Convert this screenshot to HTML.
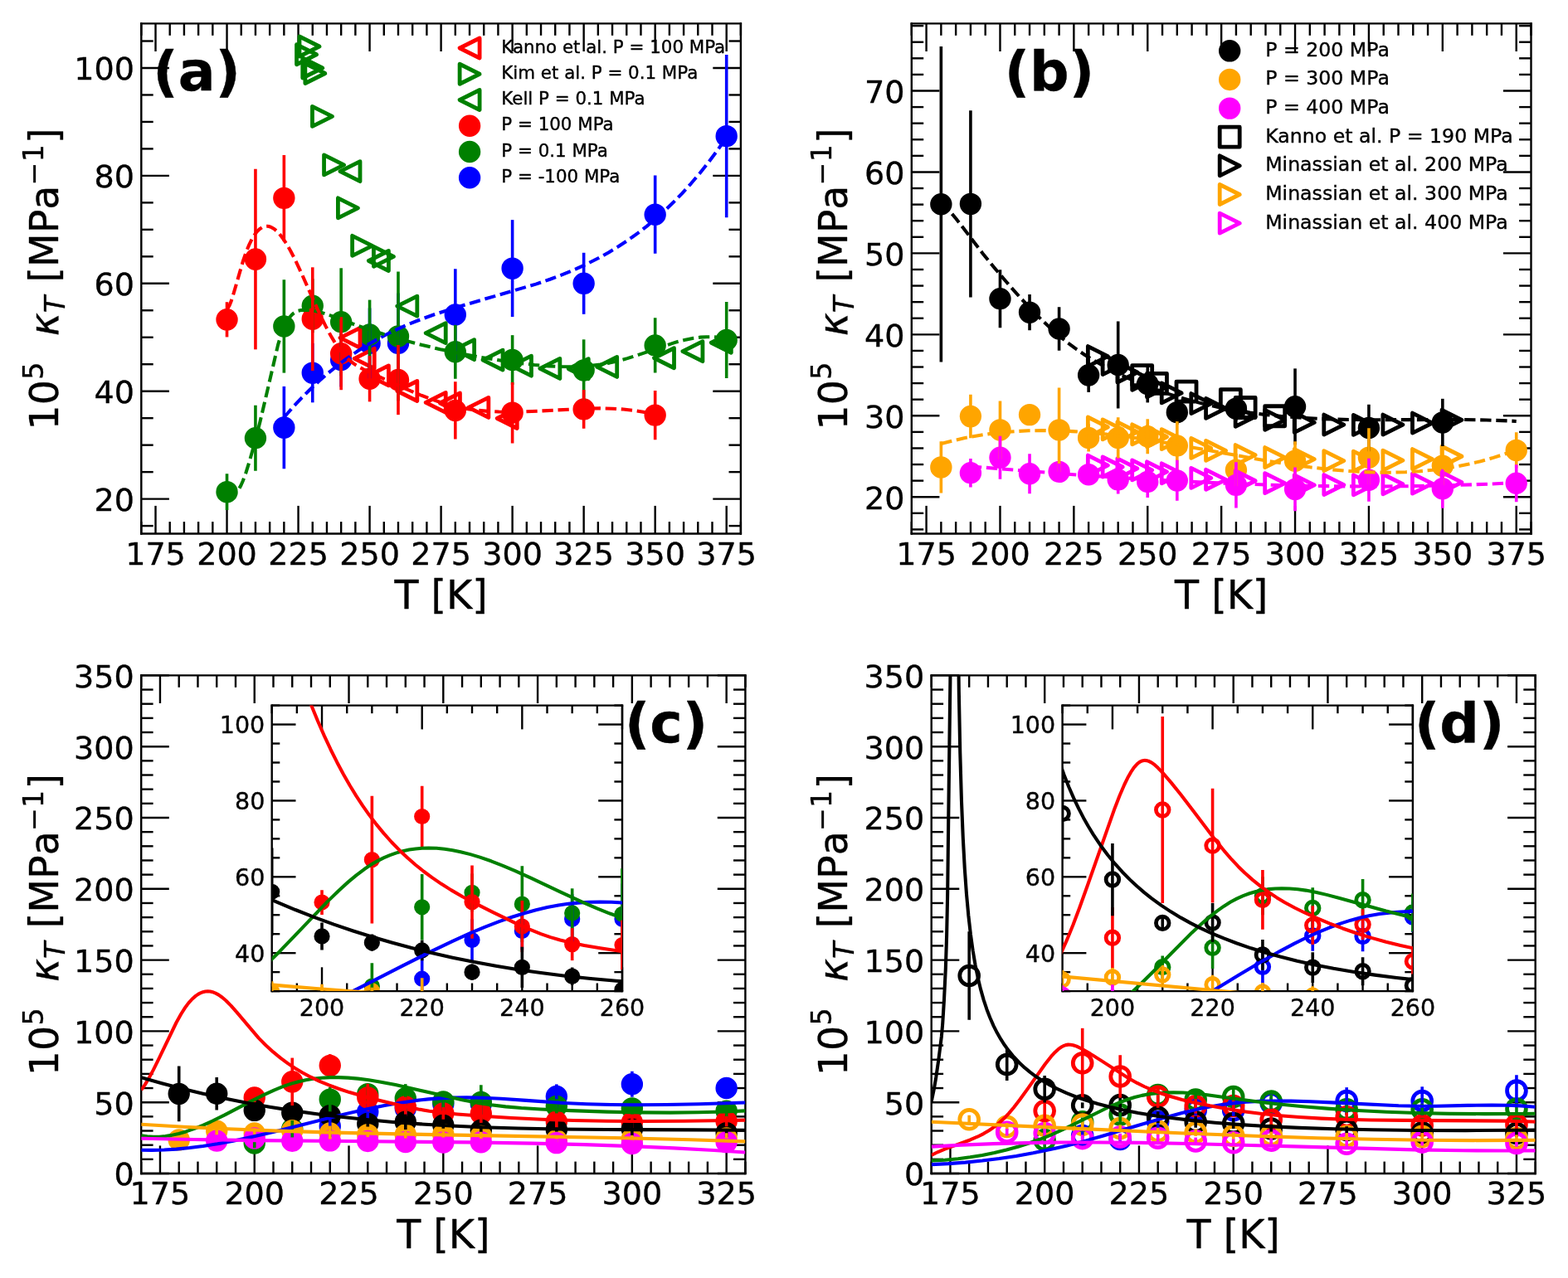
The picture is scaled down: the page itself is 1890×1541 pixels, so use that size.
<!DOCTYPE html>
<html><head><meta charset="utf-8"><title>Figure</title>
<style>html,body{margin:0;padding:0;background:#fff}svg{display:block}svg text{stroke:#000;stroke-width:0.15px;stroke-linejoin:round}</style></head>
<body>
<svg width="1890" height="1541" viewBox="0 0 787.5 642.0833333333334" version="1.1">
 <defs>
  <style type="text/css">*{stroke-linejoin: round; stroke-linecap: butt}</style>
 </defs>
 <g id="figure_1">
  <g id="patch_1">
   <path d="M 0 642.083333 
L 787.5 642.083333 
L 787.5 0 
L 0 0 
z
" style="fill: #ffffff"/>
  </g>
  <g id="axes_1">
   <g id="matplotlib.axis_1">
    <g id="xtick_1">
     <g id="line2d_1">
      <defs>
       <path id="me1ed62e7b0" d="M 0 0 
L 0 -14 
" style="stroke: #000000"/>
      </defs>
      <g>
       <use href="#me1ed62e7b0" x="78.126984" y="268.125" style="stroke: #000000"/>
      </g>
     </g>
     <g id="line2d_2">
      <defs>
       <path id="m8548808949" d="M 0 0 
L 0 14 
" style="stroke: #000000"/>
      </defs>
      <g>
       <use href="#m8548808949" x="78.126984" y="11.833333" style="stroke: #000000"/>
      </g>
     </g>
     <g id="text_1">
      <text style="font-size: 15.872px; font-family: 'DejaVu Sans', 'Liberation Sans', sans-serif; text-anchor: middle" x="78.126984" y="283.68524">175</text>
     </g>
    </g>
    <g id="xtick_2">
     <g id="line2d_3">
      <g>
       <use href="#me1ed62e7b0" x="113.970238" y="268.125" style="stroke: #000000"/>
      </g>
     </g>
     <g id="line2d_4">
      <g>
       <use href="#m8548808949" x="113.970238" y="11.833333" style="stroke: #000000"/>
      </g>
     </g>
     <g id="text_2">
      <text style="font-size: 15.872px; font-family: 'DejaVu Sans', 'Liberation Sans', sans-serif; text-anchor: middle" x="113.970238" y="283.68524">200</text>
     </g>
    </g>
    <g id="xtick_3">
     <g id="line2d_5">
      <g>
       <use href="#me1ed62e7b0" x="149.813492" y="268.125" style="stroke: #000000"/>
      </g>
     </g>
     <g id="line2d_6">
      <g>
       <use href="#m8548808949" x="149.813492" y="11.833333" style="stroke: #000000"/>
      </g>
     </g>
     <g id="text_3">
      <text style="font-size: 15.872px; font-family: 'DejaVu Sans', 'Liberation Sans', sans-serif; text-anchor: middle" x="149.813492" y="283.68524">225</text>
     </g>
    </g>
    <g id="xtick_4">
     <g id="line2d_7">
      <g>
       <use href="#me1ed62e7b0" x="185.656746" y="268.125" style="stroke: #000000"/>
      </g>
     </g>
     <g id="line2d_8">
      <g>
       <use href="#m8548808949" x="185.656746" y="11.833333" style="stroke: #000000"/>
      </g>
     </g>
     <g id="text_4">
      <text style="font-size: 15.872px; font-family: 'DejaVu Sans', 'Liberation Sans', sans-serif; text-anchor: middle" x="185.656746" y="283.68524">250</text>
     </g>
    </g>
    <g id="xtick_5">
     <g id="line2d_9">
      <g>
       <use href="#me1ed62e7b0" x="221.5" y="268.125" style="stroke: #000000"/>
      </g>
     </g>
     <g id="line2d_10">
      <g>
       <use href="#m8548808949" x="221.5" y="11.833333" style="stroke: #000000"/>
      </g>
     </g>
     <g id="text_5">
      <text style="font-size: 15.872px; font-family: 'DejaVu Sans', 'Liberation Sans', sans-serif; text-anchor: middle" x="221.5" y="283.68524">275</text>
     </g>
    </g>
    <g id="xtick_6">
     <g id="line2d_11">
      <g>
       <use href="#me1ed62e7b0" x="257.343254" y="268.125" style="stroke: #000000"/>
      </g>
     </g>
     <g id="line2d_12">
      <g>
       <use href="#m8548808949" x="257.343254" y="11.833333" style="stroke: #000000"/>
      </g>
     </g>
     <g id="text_6">
      <text style="font-size: 15.872px; font-family: 'DejaVu Sans', 'Liberation Sans', sans-serif; text-anchor: middle" x="257.343254" y="283.68524">300</text>
     </g>
    </g>
    <g id="xtick_7">
     <g id="line2d_13">
      <g>
       <use href="#me1ed62e7b0" x="293.186508" y="268.125" style="stroke: #000000"/>
      </g>
     </g>
     <g id="line2d_14">
      <g>
       <use href="#m8548808949" x="293.186508" y="11.833333" style="stroke: #000000"/>
      </g>
     </g>
     <g id="text_7">
      <text style="font-size: 15.872px; font-family: 'DejaVu Sans', 'Liberation Sans', sans-serif; text-anchor: middle" x="293.186508" y="283.68524">325</text>
     </g>
    </g>
    <g id="xtick_8">
     <g id="line2d_15">
      <g>
       <use href="#me1ed62e7b0" x="329.029762" y="268.125" style="stroke: #000000"/>
      </g>
     </g>
     <g id="line2d_16">
      <g>
       <use href="#m8548808949" x="329.029762" y="11.833333" style="stroke: #000000"/>
      </g>
     </g>
     <g id="text_8">
      <text style="font-size: 15.872px; font-family: 'DejaVu Sans', 'Liberation Sans', sans-serif; text-anchor: middle" x="329.029762" y="283.68524">350</text>
     </g>
    </g>
    <g id="xtick_9">
     <g id="line2d_17">
      <g>
       <use href="#me1ed62e7b0" x="364.873016" y="268.125" style="stroke: #000000"/>
      </g>
     </g>
     <g id="line2d_18">
      <g>
       <use href="#m8548808949" x="364.873016" y="11.833333" style="stroke: #000000"/>
      </g>
     </g>
     <g id="text_9">
      <text style="font-size: 15.872px; font-family: 'DejaVu Sans', 'Liberation Sans', sans-serif; text-anchor: middle" x="364.873016" y="283.68524">375</text>
     </g>
    </g>
    <g id="xtick_10">
     <g id="line2d_19">
      <defs>
       <path id="m3778f43bfe" d="M 0 0 
L 0 -6 
" style="stroke: #000000"/>
      </defs>
      <g>
       <use href="#m3778f43bfe" x="70.958333" y="268.125" style="stroke: #000000"/>
      </g>
     </g>
     <g id="line2d_20">
      <defs>
       <path id="m2444ff35b4" d="M 0 0 
L 0 6 
" style="stroke: #000000"/>
      </defs>
      <g>
       <use href="#m2444ff35b4" x="70.958333" y="11.833333" style="stroke: #000000"/>
      </g>
     </g>
    </g>
    <g id="xtick_11">
     <g id="line2d_21">
      <g>
       <use href="#m3778f43bfe" x="85.295635" y="268.125" style="stroke: #000000"/>
      </g>
     </g>
     <g id="line2d_22">
      <g>
       <use href="#m2444ff35b4" x="85.295635" y="11.833333" style="stroke: #000000"/>
      </g>
     </g>
    </g>
    <g id="xtick_12">
     <g id="line2d_23">
      <g>
       <use href="#m3778f43bfe" x="92.464286" y="268.125" style="stroke: #000000"/>
      </g>
     </g>
     <g id="line2d_24">
      <g>
       <use href="#m2444ff35b4" x="92.464286" y="11.833333" style="stroke: #000000"/>
      </g>
     </g>
    </g>
    <g id="xtick_13">
     <g id="line2d_25">
      <g>
       <use href="#m3778f43bfe" x="99.632937" y="268.125" style="stroke: #000000"/>
      </g>
     </g>
     <g id="line2d_26">
      <g>
       <use href="#m2444ff35b4" x="99.632937" y="11.833333" style="stroke: #000000"/>
      </g>
     </g>
    </g>
    <g id="xtick_14">
     <g id="line2d_27">
      <g>
       <use href="#m3778f43bfe" x="106.801587" y="268.125" style="stroke: #000000"/>
      </g>
     </g>
     <g id="line2d_28">
      <g>
       <use href="#m2444ff35b4" x="106.801587" y="11.833333" style="stroke: #000000"/>
      </g>
     </g>
    </g>
    <g id="xtick_15">
     <g id="line2d_29">
      <g>
       <use href="#m3778f43bfe" x="121.138889" y="268.125" style="stroke: #000000"/>
      </g>
     </g>
     <g id="line2d_30">
      <g>
       <use href="#m2444ff35b4" x="121.138889" y="11.833333" style="stroke: #000000"/>
      </g>
     </g>
    </g>
    <g id="xtick_16">
     <g id="line2d_31">
      <g>
       <use href="#m3778f43bfe" x="128.30754" y="268.125" style="stroke: #000000"/>
      </g>
     </g>
     <g id="line2d_32">
      <g>
       <use href="#m2444ff35b4" x="128.30754" y="11.833333" style="stroke: #000000"/>
      </g>
     </g>
    </g>
    <g id="xtick_17">
     <g id="line2d_33">
      <g>
       <use href="#m3778f43bfe" x="135.47619" y="268.125" style="stroke: #000000"/>
      </g>
     </g>
     <g id="line2d_34">
      <g>
       <use href="#m2444ff35b4" x="135.47619" y="11.833333" style="stroke: #000000"/>
      </g>
     </g>
    </g>
    <g id="xtick_18">
     <g id="line2d_35">
      <g>
       <use href="#m3778f43bfe" x="142.644841" y="268.125" style="stroke: #000000"/>
      </g>
     </g>
     <g id="line2d_36">
      <g>
       <use href="#m2444ff35b4" x="142.644841" y="11.833333" style="stroke: #000000"/>
      </g>
     </g>
    </g>
    <g id="xtick_19">
     <g id="line2d_37">
      <g>
       <use href="#m3778f43bfe" x="156.982143" y="268.125" style="stroke: #000000"/>
      </g>
     </g>
     <g id="line2d_38">
      <g>
       <use href="#m2444ff35b4" x="156.982143" y="11.833333" style="stroke: #000000"/>
      </g>
     </g>
    </g>
    <g id="xtick_20">
     <g id="line2d_39">
      <g>
       <use href="#m3778f43bfe" x="164.150794" y="268.125" style="stroke: #000000"/>
      </g>
     </g>
     <g id="line2d_40">
      <g>
       <use href="#m2444ff35b4" x="164.150794" y="11.833333" style="stroke: #000000"/>
      </g>
     </g>
    </g>
    <g id="xtick_21">
     <g id="line2d_41">
      <g>
       <use href="#m3778f43bfe" x="171.319444" y="268.125" style="stroke: #000000"/>
      </g>
     </g>
     <g id="line2d_42">
      <g>
       <use href="#m2444ff35b4" x="171.319444" y="11.833333" style="stroke: #000000"/>
      </g>
     </g>
    </g>
    <g id="xtick_22">
     <g id="line2d_43">
      <g>
       <use href="#m3778f43bfe" x="178.488095" y="268.125" style="stroke: #000000"/>
      </g>
     </g>
     <g id="line2d_44">
      <g>
       <use href="#m2444ff35b4" x="178.488095" y="11.833333" style="stroke: #000000"/>
      </g>
     </g>
    </g>
    <g id="xtick_23">
     <g id="line2d_45">
      <g>
       <use href="#m3778f43bfe" x="192.825397" y="268.125" style="stroke: #000000"/>
      </g>
     </g>
     <g id="line2d_46">
      <g>
       <use href="#m2444ff35b4" x="192.825397" y="11.833333" style="stroke: #000000"/>
      </g>
     </g>
    </g>
    <g id="xtick_24">
     <g id="line2d_47">
      <g>
       <use href="#m3778f43bfe" x="199.994048" y="268.125" style="stroke: #000000"/>
      </g>
     </g>
     <g id="line2d_48">
      <g>
       <use href="#m2444ff35b4" x="199.994048" y="11.833333" style="stroke: #000000"/>
      </g>
     </g>
    </g>
    <g id="xtick_25">
     <g id="line2d_49">
      <g>
       <use href="#m3778f43bfe" x="207.162698" y="268.125" style="stroke: #000000"/>
      </g>
     </g>
     <g id="line2d_50">
      <g>
       <use href="#m2444ff35b4" x="207.162698" y="11.833333" style="stroke: #000000"/>
      </g>
     </g>
    </g>
    <g id="xtick_26">
     <g id="line2d_51">
      <g>
       <use href="#m3778f43bfe" x="214.331349" y="268.125" style="stroke: #000000"/>
      </g>
     </g>
     <g id="line2d_52">
      <g>
       <use href="#m2444ff35b4" x="214.331349" y="11.833333" style="stroke: #000000"/>
      </g>
     </g>
    </g>
    <g id="xtick_27">
     <g id="line2d_53">
      <g>
       <use href="#m3778f43bfe" x="228.668651" y="268.125" style="stroke: #000000"/>
      </g>
     </g>
     <g id="line2d_54">
      <g>
       <use href="#m2444ff35b4" x="228.668651" y="11.833333" style="stroke: #000000"/>
      </g>
     </g>
    </g>
    <g id="xtick_28">
     <g id="line2d_55">
      <g>
       <use href="#m3778f43bfe" x="235.837302" y="268.125" style="stroke: #000000"/>
      </g>
     </g>
     <g id="line2d_56">
      <g>
       <use href="#m2444ff35b4" x="235.837302" y="11.833333" style="stroke: #000000"/>
      </g>
     </g>
    </g>
    <g id="xtick_29">
     <g id="line2d_57">
      <g>
       <use href="#m3778f43bfe" x="243.005952" y="268.125" style="stroke: #000000"/>
      </g>
     </g>
     <g id="line2d_58">
      <g>
       <use href="#m2444ff35b4" x="243.005952" y="11.833333" style="stroke: #000000"/>
      </g>
     </g>
    </g>
    <g id="xtick_30">
     <g id="line2d_59">
      <g>
       <use href="#m3778f43bfe" x="250.174603" y="268.125" style="stroke: #000000"/>
      </g>
     </g>
     <g id="line2d_60">
      <g>
       <use href="#m2444ff35b4" x="250.174603" y="11.833333" style="stroke: #000000"/>
      </g>
     </g>
    </g>
    <g id="xtick_31">
     <g id="line2d_61">
      <g>
       <use href="#m3778f43bfe" x="264.511905" y="268.125" style="stroke: #000000"/>
      </g>
     </g>
     <g id="line2d_62">
      <g>
       <use href="#m2444ff35b4" x="264.511905" y="11.833333" style="stroke: #000000"/>
      </g>
     </g>
    </g>
    <g id="xtick_32">
     <g id="line2d_63">
      <g>
       <use href="#m3778f43bfe" x="271.680556" y="268.125" style="stroke: #000000"/>
      </g>
     </g>
     <g id="line2d_64">
      <g>
       <use href="#m2444ff35b4" x="271.680556" y="11.833333" style="stroke: #000000"/>
      </g>
     </g>
    </g>
    <g id="xtick_33">
     <g id="line2d_65">
      <g>
       <use href="#m3778f43bfe" x="278.849206" y="268.125" style="stroke: #000000"/>
      </g>
     </g>
     <g id="line2d_66">
      <g>
       <use href="#m2444ff35b4" x="278.849206" y="11.833333" style="stroke: #000000"/>
      </g>
     </g>
    </g>
    <g id="xtick_34">
     <g id="line2d_67">
      <g>
       <use href="#m3778f43bfe" x="286.017857" y="268.125" style="stroke: #000000"/>
      </g>
     </g>
     <g id="line2d_68">
      <g>
       <use href="#m2444ff35b4" x="286.017857" y="11.833333" style="stroke: #000000"/>
      </g>
     </g>
    </g>
    <g id="xtick_35">
     <g id="line2d_69">
      <g>
       <use href="#m3778f43bfe" x="300.355159" y="268.125" style="stroke: #000000"/>
      </g>
     </g>
     <g id="line2d_70">
      <g>
       <use href="#m2444ff35b4" x="300.355159" y="11.833333" style="stroke: #000000"/>
      </g>
     </g>
    </g>
    <g id="xtick_36">
     <g id="line2d_71">
      <g>
       <use href="#m3778f43bfe" x="307.52381" y="268.125" style="stroke: #000000"/>
      </g>
     </g>
     <g id="line2d_72">
      <g>
       <use href="#m2444ff35b4" x="307.52381" y="11.833333" style="stroke: #000000"/>
      </g>
     </g>
    </g>
    <g id="xtick_37">
     <g id="line2d_73">
      <g>
       <use href="#m3778f43bfe" x="314.69246" y="268.125" style="stroke: #000000"/>
      </g>
     </g>
     <g id="line2d_74">
      <g>
       <use href="#m2444ff35b4" x="314.69246" y="11.833333" style="stroke: #000000"/>
      </g>
     </g>
    </g>
    <g id="xtick_38">
     <g id="line2d_75">
      <g>
       <use href="#m3778f43bfe" x="321.861111" y="268.125" style="stroke: #000000"/>
      </g>
     </g>
     <g id="line2d_76">
      <g>
       <use href="#m2444ff35b4" x="321.861111" y="11.833333" style="stroke: #000000"/>
      </g>
     </g>
    </g>
    <g id="xtick_39">
     <g id="line2d_77">
      <g>
       <use href="#m3778f43bfe" x="336.198413" y="268.125" style="stroke: #000000"/>
      </g>
     </g>
     <g id="line2d_78">
      <g>
       <use href="#m2444ff35b4" x="336.198413" y="11.833333" style="stroke: #000000"/>
      </g>
     </g>
    </g>
    <g id="xtick_40">
     <g id="line2d_79">
      <g>
       <use href="#m3778f43bfe" x="343.367063" y="268.125" style="stroke: #000000"/>
      </g>
     </g>
     <g id="line2d_80">
      <g>
       <use href="#m2444ff35b4" x="343.367063" y="11.833333" style="stroke: #000000"/>
      </g>
     </g>
    </g>
    <g id="xtick_41">
     <g id="line2d_81">
      <g>
       <use href="#m3778f43bfe" x="350.535714" y="268.125" style="stroke: #000000"/>
      </g>
     </g>
     <g id="line2d_82">
      <g>
       <use href="#m2444ff35b4" x="350.535714" y="11.833333" style="stroke: #000000"/>
      </g>
     </g>
    </g>
    <g id="xtick_42">
     <g id="line2d_83">
      <g>
       <use href="#m3778f43bfe" x="357.704365" y="268.125" style="stroke: #000000"/>
      </g>
     </g>
     <g id="line2d_84">
      <g>
       <use href="#m2444ff35b4" x="357.704365" y="11.833333" style="stroke: #000000"/>
      </g>
     </g>
    </g>
    <g id="xtick_43">
     <g id="line2d_85">
      <g>
       <use href="#m3778f43bfe" x="372.041667" y="268.125" style="stroke: #000000"/>
      </g>
     </g>
     <g id="line2d_86">
      <g>
       <use href="#m2444ff35b4" x="372.041667" y="11.833333" style="stroke: #000000"/>
      </g>
     </g>
    </g>
   </g>
   <g id="matplotlib.axis_2">
    <g id="ytick_1">
     <g id="line2d_87">
      <defs>
       <path id="m54b7029aaa" d="M 0 0 
L 14 0 
" style="stroke: #000000"/>
      </defs>
      <g>
       <use href="#m54b7029aaa" x="70.958333" y="250.669021" style="stroke: #000000"/>
      </g>
     </g>
     <g id="line2d_88">
      <defs>
       <path id="m9e44f33b49" d="M 0 0 
L -14 0 
" style="stroke: #000000"/>
      </defs>
      <g>
       <use href="#m9e44f33b49" x="372.041667" y="250.669021" style="stroke: #000000"/>
      </g>
     </g>
     <g id="text_10">
      <text style="font-size: 15.872px; font-family: 'DejaVu Sans', 'Liberation Sans', sans-serif; text-anchor: end" x="67.458333" y="256.699141">20</text>
     </g>
    </g>
    <g id="ytick_2">
     <g id="line2d_89">
      <g>
       <use href="#m54b7029aaa" x="70.958333" y="196.541953" style="stroke: #000000"/>
      </g>
     </g>
     <g id="line2d_90">
      <g>
       <use href="#m9e44f33b49" x="372.041667" y="196.541953" style="stroke: #000000"/>
      </g>
     </g>
     <g id="text_11">
      <text style="font-size: 15.872px; font-family: 'DejaVu Sans', 'Liberation Sans', sans-serif; text-anchor: end" x="67.458333" y="202.572073">40</text>
     </g>
    </g>
    <g id="ytick_3">
     <g id="line2d_91">
      <g>
       <use href="#m54b7029aaa" x="70.958333" y="142.414885" style="stroke: #000000"/>
      </g>
     </g>
     <g id="line2d_92">
      <g>
       <use href="#m9e44f33b49" x="372.041667" y="142.414885" style="stroke: #000000"/>
      </g>
     </g>
     <g id="text_12">
      <text style="font-size: 15.872px; font-family: 'DejaVu Sans', 'Liberation Sans', sans-serif; text-anchor: end" x="67.458333" y="148.445005">60</text>
     </g>
    </g>
    <g id="ytick_4">
     <g id="line2d_93">
      <g>
       <use href="#m54b7029aaa" x="70.958333" y="88.287817" style="stroke: #000000"/>
      </g>
     </g>
     <g id="line2d_94">
      <g>
       <use href="#m9e44f33b49" x="372.041667" y="88.287817" style="stroke: #000000"/>
      </g>
     </g>
     <g id="text_13">
      <text style="font-size: 15.872px; font-family: 'DejaVu Sans', 'Liberation Sans', sans-serif; text-anchor: end" x="67.458333" y="94.317937">80</text>
     </g>
    </g>
    <g id="ytick_5">
     <g id="line2d_95">
      <g>
       <use href="#m54b7029aaa" x="70.958333" y="34.160749" style="stroke: #000000"/>
      </g>
     </g>
     <g id="line2d_96">
      <g>
       <use href="#m9e44f33b49" x="372.041667" y="34.160749" style="stroke: #000000"/>
      </g>
     </g>
     <g id="text_14">
      <text style="font-size: 15.872px; font-family: 'DejaVu Sans', 'Liberation Sans', sans-serif; text-anchor: end" x="67.458333" y="40.190869">100</text>
     </g>
    </g>
    <g id="ytick_6">
     <g id="line2d_97">
      <defs>
       <path id="me99788c269" d="M 0 0 
L 6 0 
" style="stroke: #000000"/>
      </defs>
      <g>
       <use href="#me99788c269" x="70.958333" y="264.200788" style="stroke: #000000"/>
      </g>
     </g>
     <g id="line2d_98">
      <defs>
       <path id="m71ee6960a1" d="M 0 0 
L -6 0 
" style="stroke: #000000"/>
      </defs>
      <g>
       <use href="#m71ee6960a1" x="372.041667" y="264.200788" style="stroke: #000000"/>
      </g>
     </g>
    </g>
    <g id="ytick_7">
     <g id="line2d_99">
      <g>
       <use href="#me99788c269" x="70.958333" y="237.137254" style="stroke: #000000"/>
      </g>
     </g>
     <g id="line2d_100">
      <g>
       <use href="#m71ee6960a1" x="372.041667" y="237.137254" style="stroke: #000000"/>
      </g>
     </g>
    </g>
    <g id="ytick_8">
     <g id="line2d_101">
      <g>
       <use href="#me99788c269" x="70.958333" y="223.605487" style="stroke: #000000"/>
      </g>
     </g>
     <g id="line2d_102">
      <g>
       <use href="#m71ee6960a1" x="372.041667" y="223.605487" style="stroke: #000000"/>
      </g>
     </g>
    </g>
    <g id="ytick_9">
     <g id="line2d_103">
      <g>
       <use href="#me99788c269" x="70.958333" y="210.07372" style="stroke: #000000"/>
      </g>
     </g>
     <g id="line2d_104">
      <g>
       <use href="#m71ee6960a1" x="372.041667" y="210.07372" style="stroke: #000000"/>
      </g>
     </g>
    </g>
    <g id="ytick_10">
     <g id="line2d_105">
      <g>
       <use href="#me99788c269" x="70.958333" y="183.010186" style="stroke: #000000"/>
      </g>
     </g>
     <g id="line2d_106">
      <g>
       <use href="#m71ee6960a1" x="372.041667" y="183.010186" style="stroke: #000000"/>
      </g>
     </g>
    </g>
    <g id="ytick_11">
     <g id="line2d_107">
      <g>
       <use href="#me99788c269" x="70.958333" y="169.478419" style="stroke: #000000"/>
      </g>
     </g>
     <g id="line2d_108">
      <g>
       <use href="#m71ee6960a1" x="372.041667" y="169.478419" style="stroke: #000000"/>
      </g>
     </g>
    </g>
    <g id="ytick_12">
     <g id="line2d_109">
      <g>
       <use href="#me99788c269" x="70.958333" y="155.946652" style="stroke: #000000"/>
      </g>
     </g>
     <g id="line2d_110">
      <g>
       <use href="#m71ee6960a1" x="372.041667" y="155.946652" style="stroke: #000000"/>
      </g>
     </g>
    </g>
    <g id="ytick_13">
     <g id="line2d_111">
      <g>
       <use href="#me99788c269" x="70.958333" y="128.883118" style="stroke: #000000"/>
      </g>
     </g>
     <g id="line2d_112">
      <g>
       <use href="#m71ee6960a1" x="372.041667" y="128.883118" style="stroke: #000000"/>
      </g>
     </g>
    </g>
    <g id="ytick_14">
     <g id="line2d_113">
      <g>
       <use href="#me99788c269" x="70.958333" y="115.351351" style="stroke: #000000"/>
      </g>
     </g>
     <g id="line2d_114">
      <g>
       <use href="#m71ee6960a1" x="372.041667" y="115.351351" style="stroke: #000000"/>
      </g>
     </g>
    </g>
    <g id="ytick_15">
     <g id="line2d_115">
      <g>
       <use href="#me99788c269" x="70.958333" y="101.819584" style="stroke: #000000"/>
      </g>
     </g>
     <g id="line2d_116">
      <g>
       <use href="#m71ee6960a1" x="372.041667" y="101.819584" style="stroke: #000000"/>
      </g>
     </g>
    </g>
    <g id="ytick_16">
     <g id="line2d_117">
      <g>
       <use href="#me99788c269" x="70.958333" y="74.75605" style="stroke: #000000"/>
      </g>
     </g>
     <g id="line2d_118">
      <g>
       <use href="#m71ee6960a1" x="372.041667" y="74.75605" style="stroke: #000000"/>
      </g>
     </g>
    </g>
    <g id="ytick_17">
     <g id="line2d_119">
      <g>
       <use href="#me99788c269" x="70.958333" y="61.224283" style="stroke: #000000"/>
      </g>
     </g>
     <g id="line2d_120">
      <g>
       <use href="#m71ee6960a1" x="372.041667" y="61.224283" style="stroke: #000000"/>
      </g>
     </g>
    </g>
    <g id="ytick_18">
     <g id="line2d_121">
      <g>
       <use href="#me99788c269" x="70.958333" y="47.692516" style="stroke: #000000"/>
      </g>
     </g>
     <g id="line2d_122">
      <g>
       <use href="#m71ee6960a1" x="372.041667" y="47.692516" style="stroke: #000000"/>
      </g>
     </g>
    </g>
    <g id="ytick_19">
     <g id="line2d_123">
      <g>
       <use href="#me99788c269" x="70.958333" y="20.628982" style="stroke: #000000"/>
      </g>
     </g>
     <g id="line2d_124">
      <g>
       <use href="#m71ee6960a1" x="372.041667" y="20.628982" style="stroke: #000000"/>
      </g>
     </g>
    </g>
   </g>
   <g id="line2d_125">
    <defs>
     <path id="m1c385fb589" d="M 0 5 
C 1.326016 5 2.597899 4.473168 3.535534 3.535534 
C 4.473168 2.597899 5 1.326016 5 0 
C 5 -1.326016 4.473168 -2.597899 3.535534 -3.535534 
C 2.597899 -4.473168 1.326016 -5 0 -5 
C -1.326016 -5 -2.597899 -4.473168 -3.535534 -3.535534 
C -4.473168 -2.597899 -5 -1.326016 -5 0 
C -5 1.326016 -4.473168 2.597899 -3.535534 3.535534 
C -2.597899 4.473168 -1.326016 5 0 5 
z
" style="stroke: #0000ff"/>
    </defs>
    <g clip-path="url(#p31e6318667)">
     <use href="#m1c385fb589" x="142.644841" y="214.809838" style="fill: #0000ff; stroke: #0000ff"/>
     <use href="#m1c385fb589" x="156.982143" y="187.340351" style="fill: #0000ff; stroke: #0000ff"/>
     <use href="#m1c385fb589" x="171.319444" y="180.845103" style="fill: #0000ff; stroke: #0000ff"/>
     <use href="#m1c385fb589" x="185.656746" y="172.455407" style="fill: #0000ff; stroke: #0000ff"/>
     <use href="#m1c385fb589" x="199.994048" y="172.455407" style="fill: #0000ff; stroke: #0000ff"/>
     <use href="#m1c385fb589" x="228.668651" y="158.111734" style="fill: #0000ff; stroke: #0000ff"/>
     <use href="#m1c385fb589" x="257.343254" y="134.837095" style="fill: #0000ff; stroke: #0000ff"/>
     <use href="#m1c385fb589" x="293.186508" y="142.414885" style="fill: #0000ff; stroke: #0000ff"/>
     <use href="#m1c385fb589" x="329.029762" y="107.773561" style="fill: #0000ff; stroke: #0000ff"/>
     <use href="#m1c385fb589" x="364.873016" y="68.396119" style="fill: #0000ff; stroke: #0000ff"/>
    </g>
   </g>
   <g id="line2d_126">
    <defs>
     <path id="m9ff4714339" d="M 0 5 
C 1.326016 5 2.597899 4.473168 3.535534 3.535534 
C 4.473168 2.597899 5 1.326016 5 0 
C 5 -1.326016 4.473168 -2.597899 3.535534 -3.535534 
C 2.597899 -4.473168 1.326016 -5 0 -5 
C -1.326016 -5 -2.597899 -4.473168 -3.535534 -3.535534 
C -4.473168 -2.597899 -5 -1.326016 -5 0 
C -5 1.326016 -4.473168 2.597899 -3.535534 3.535534 
C -2.597899 4.473168 -1.326016 5 0 5 
z
" style="stroke: #008000"/>
    </defs>
    <g clip-path="url(#p31e6318667)">
     <use href="#m9ff4714339" x="113.970238" y="247.150761" style="fill: #008000; stroke: #008000"/>
     <use href="#m9ff4714339" x="128.30754" y="220.087227" style="fill: #008000; stroke: #008000"/>
     <use href="#m9ff4714339" x="142.644841" y="163.930394" style="fill: #008000; stroke: #008000"/>
     <use href="#m9ff4714339" x="156.982143" y="153.646251" style="fill: #008000; stroke: #008000"/>
     <use href="#m9ff4714339" x="171.319444" y="161.765312" style="fill: #008000; stroke: #008000"/>
     <use href="#m9ff4714339" x="185.656746" y="168.125242" style="fill: #008000; stroke: #008000"/>
     <use href="#m9ff4714339" x="199.994048" y="168.937148" style="fill: #008000; stroke: #008000"/>
     <use href="#m9ff4714339" x="228.668651" y="176.785573" style="fill: #008000; stroke: #008000"/>
     <use href="#m9ff4714339" x="257.343254" y="180.845103" style="fill: #008000; stroke: #008000"/>
     <use href="#m9ff4714339" x="293.186508" y="185.987174" style="fill: #008000; stroke: #008000"/>
     <use href="#m9ff4714339" x="329.029762" y="173.537949" style="fill: #008000; stroke: #008000"/>
     <use href="#m9ff4714339" x="364.873016" y="170.831595" style="fill: #008000; stroke: #008000"/>
    </g>
   </g>
   <g id="line2d_127">
    <defs>
     <path id="m3937245963" d="M 0 5 
C 1.326016 5 2.597899 4.473168 3.535534 3.535534 
C 4.473168 2.597899 5 1.326016 5 0 
C 5 -1.326016 4.473168 -2.597899 3.535534 -3.535534 
C 2.597899 -4.473168 1.326016 -5 0 -5 
C -1.326016 -5 -2.597899 -4.473168 -3.535534 -3.535534 
C -4.473168 -2.597899 -5 -1.326016 -5 0 
C -5 1.326016 -4.473168 2.597899 -3.535534 3.535534 
C -2.597899 4.473168 -1.326016 5 0 5 
z
" style="stroke: #ff0000"/>
    </defs>
    <g clip-path="url(#p31e6318667)">
     <use href="#m3937245963" x="113.970238" y="160.547452" style="fill: #ff0000; stroke: #ff0000"/>
     <use href="#m3937245963" x="128.30754" y="130.236294" style="fill: #ff0000; stroke: #ff0000"/>
     <use href="#m3937245963" x="142.644841" y="99.519183" style="fill: #ff0000; stroke: #ff0000"/>
     <use href="#m3937245963" x="156.982143" y="160.276817" style="fill: #ff0000; stroke: #ff0000"/>
     <use href="#m3937245963" x="171.319444" y="177.597479" style="fill: #ff0000; stroke: #ff0000"/>
     <use href="#m3937245963" x="185.656746" y="190.31734" style="fill: #ff0000; stroke: #ff0000"/>
     <use href="#m3937245963" x="199.994048" y="190.858611" style="fill: #ff0000; stroke: #ff0000"/>
     <use href="#m3937245963" x="228.668651" y="206.203634" style="fill: #ff0000; stroke: #ff0000"/>
     <use href="#m3937245963" x="257.343254" y="207.367366" style="fill: #ff0000; stroke: #ff0000"/>
     <use href="#m3937245963" x="293.186508" y="205.608237" style="fill: #ff0000; stroke: #ff0000"/>
     <use href="#m3937245963" x="329.029762" y="208.585225" style="fill: #ff0000; stroke: #ff0000"/>
    </g>
   </g>
   <g id="line2d_128">
    <defs>
     <path id="me3dc63d877" d="M -5 -0 
L 5 5 
L 5 -5 
z
" style="stroke: #ff0000; stroke-width: 2"/>
    </defs>
    <g clip-path="url(#p31e6318667)">
     <use href="#me3dc63d877" x="175.835694" y="169.749054" style="fill-opacity: 0; stroke: #ff0000; stroke-width: 2"/>
     <use href="#me3dc63d877" x="183.004345" y="180.114388" style="fill-opacity: 0; stroke: #ff0000; stroke-width: 2"/>
     <use href="#me3dc63d877" x="190.172996" y="188.693528" style="fill-opacity: 0; stroke: #ff0000; stroke-width: 2"/>
     <use href="#me3dc63d877" x="204.510298" y="196.460762" style="fill-opacity: 0; stroke: #ff0000; stroke-width: 2"/>
     <use href="#me3dc63d877" x="218.847599" y="202.225295" style="fill-opacity: 0; stroke: #ff0000; stroke-width: 2"/>
     <use href="#me3dc63d877" x="226.01625" y="202.49593" style="fill-opacity: 0; stroke: #ff0000; stroke-width: 2"/>
     <use href="#me3dc63d877" x="240.353552" y="204.742203" style="fill-opacity: 0; stroke: #ff0000; stroke-width: 2"/>
     <use href="#me3dc63d877" x="254.690853" y="210.209037" style="fill-opacity: 0; stroke: #ff0000; stroke-width: 2"/>
    </g>
   </g>
   <g id="line2d_129">
    <defs>
     <path id="me245831fda" d="M 5 0 
L -5 -5 
L -5 5 
z
" style="stroke: #008000; stroke-width: 2"/>
    </defs>
    <g clip-path="url(#p31e6318667)">
     <use href="#me245831fda" x="153.97131" y="27.394865" style="fill-opacity: 0; stroke: #008000; stroke-width: 2"/>
     <use href="#me245831fda" x="155.40504" y="23.335335" style="fill-opacity: 0; stroke: #008000; stroke-width: 2"/>
     <use href="#me245831fda" x="156.982143" y="34.160749" style="fill-opacity: 0; stroke: #008000; stroke-width: 2"/>
     <use href="#me245831fda" x="158.2725" y="36.867102" style="fill-opacity: 0; stroke: #008000; stroke-width: 2"/>
     <use href="#me245831fda" x="161.856825" y="58.517929" style="fill-opacity: 0; stroke: #008000; stroke-width: 2"/>
     <use href="#me245831fda" x="167.735119" y="82.87511" style="fill-opacity: 0; stroke: #008000; stroke-width: 2"/>
     <use href="#me245831fda" x="174.760397" y="104.525937" style="fill-opacity: 0; stroke: #008000; stroke-width: 2"/>
     <use href="#me245831fda" x="181.929048" y="123.470411" style="fill-opacity: 0; stroke: #008000; stroke-width: 2"/>
     <use href="#me245831fda" x="192.682024" y="128.883118" style="fill-opacity: 0; stroke: #008000; stroke-width: 2"/>
    </g>
   </g>
   <g id="line2d_130">
    <defs>
     <path id="m63746d504b" d="M -5 -0 
L 5 5 
L 5 -5 
z
" style="stroke: #008000; stroke-width: 2"/>
    </defs>
    <g clip-path="url(#p31e6318667)">
     <use href="#m63746d504b" x="175.835694" y="86.122734" style="fill-opacity: 0; stroke: #008000; stroke-width: 2"/>
     <use href="#m63746d504b" x="190.172996" y="131.0482" style="fill-opacity: 0; stroke: #008000; stroke-width: 2"/>
     <use href="#m63746d504b" x="204.510298" y="153.781569" style="fill-opacity: 0; stroke: #008000; stroke-width: 2"/>
     <use href="#m63746d504b" x="218.847599" y="167.313336" style="fill-opacity: 0; stroke: #008000; stroke-width: 2"/>
     <use href="#m63746d504b" x="233.184901" y="175.703032" style="fill-opacity: 0; stroke: #008000; stroke-width: 2"/>
     <use href="#m63746d504b" x="247.522202" y="180.845103" style="fill-opacity: 0; stroke: #008000; stroke-width: 2"/>
     <use href="#m63746d504b" x="261.859504" y="183.822092" style="fill-opacity: 0; stroke: #008000; stroke-width: 2"/>
     <use href="#m63746d504b" x="276.196806" y="185.175268" style="fill-opacity: 0; stroke: #008000; stroke-width: 2"/>
     <use href="#m63746d504b" x="290.534107" y="185.310586" style="fill-opacity: 0; stroke: #008000; stroke-width: 2"/>
     <use href="#m63746d504b" x="304.871409" y="184.363362" style="fill-opacity: 0; stroke: #008000; stroke-width: 2"/>
     <use href="#m63746d504b" x="333.546012" y="179.897879" style="fill-opacity: 0; stroke: #008000; stroke-width: 2"/>
     <use href="#m63746d504b" x="347.883313" y="176.514938" style="fill-opacity: 0; stroke: #008000; stroke-width: 2"/>
     <use href="#m63746d504b" x="362.220615" y="172.184772" style="fill-opacity: 0; stroke: #008000; stroke-width: 2"/>
    </g>
   </g>
   <g id="patch_2">
    <path d="M 70.958333 268.125 
L 70.958333 11.833333 
" style="fill: none; stroke: #000000; stroke-linejoin: miter; stroke-linecap: square"/>
   </g>
   <g id="patch_3">
    <path d="M 372.041667 268.125 
L 372.041667 11.833333 
" style="fill: none; stroke: #000000; stroke-linejoin: miter; stroke-linecap: square"/>
   </g>
   <g id="patch_4">
    <path d="M 70.958333 268.125 
L 372.041667 268.125 
" style="fill: none; stroke: #000000; stroke-linejoin: miter; stroke-linecap: square"/>
   </g>
   <g id="patch_5">
    <path d="M 70.958333 11.833333 
L 372.041667 11.833333 
" style="fill: none; stroke: #000000; stroke-linejoin: miter; stroke-linecap: square"/>
   </g>
   <g id="LineCollection_1">
    <path d="M 142.644841 235.486378 
L 142.644841 194.133298 
" clip-path="url(#p31e6318667)" style="fill: none; stroke: #0000ff; stroke-width: 1.5"/>
    <path d="M 156.982143 202.225295 
L 156.982143 172.455407 
" clip-path="url(#p31e6318667)" style="fill: none; stroke: #0000ff; stroke-width: 1.5"/>
    <path d="M 171.319444 194.37687 
L 171.319444 167.313336 
" clip-path="url(#p31e6318667)" style="fill: none; stroke: #0000ff; stroke-width: 1.5"/>
    <path d="M 185.656746 190.127895 
L 185.656746 154.78292 
" clip-path="url(#p31e6318667)" style="fill: none; stroke: #0000ff; stroke-width: 1.5"/>
    <path d="M 199.994048 197.624494 
L 199.994048 147.286321 
" clip-path="url(#p31e6318667)" style="fill: none; stroke: #0000ff; stroke-width: 1.5"/>
    <path d="M 228.668651 181.115738 
L 228.668651 135.107731 
" clip-path="url(#p31e6318667)" style="fill: none; stroke: #0000ff; stroke-width: 1.5"/>
    <path d="M 257.343254 159.194276 
L 257.343254 110.479915 
" clip-path="url(#p31e6318667)" style="fill: none; stroke: #0000ff; stroke-width: 1.5"/>
    <path d="M 293.186508 157.841099 
L 293.186508 126.98867 
" clip-path="url(#p31e6318667)" style="fill: none; stroke: #0000ff; stroke-width: 1.5"/>
    <path d="M 329.029762 127.394623 
L 329.029762 88.152499 
" clip-path="url(#p31e6318667)" style="fill: none; stroke: #0000ff; stroke-width: 1.5"/>
    <path d="M 364.873016 109.262056 
L 364.873016 27.530183 
" clip-path="url(#p31e6318667)" style="fill: none; stroke: #0000ff; stroke-width: 1.5"/>
   </g>
   <g id="LineCollection_2">
    <path d="M 113.970238 256.244109 
L 113.970238 238.057414 
" clip-path="url(#p31e6318667)" style="fill: none; stroke: #008000; stroke-width: 1.5"/>
    <path d="M 128.30754 236.541856 
L 128.30754 203.632599 
" clip-path="url(#p31e6318667)" style="fill: none; stroke: #008000; stroke-width: 1.5"/>
    <path d="M 142.644841 187.340351 
L 142.644841 140.520437 
" clip-path="url(#p31e6318667)" style="fill: none; stroke: #008000; stroke-width: 1.5"/>
    <path d="M 156.982143 167.178018 
L 156.982143 140.114484 
" clip-path="url(#p31e6318667)" style="fill: none; stroke: #008000; stroke-width: 1.5"/>
    <path d="M 171.319444 188.828845 
L 171.319444 134.701778 
" clip-path="url(#p31e6318667)" style="fill: none; stroke: #008000; stroke-width: 1.5"/>
    <path d="M 185.656746 185.581221 
L 185.656746 150.669263 
" clip-path="url(#p31e6318667)" style="fill: none; stroke: #008000; stroke-width: 1.5"/>
    <path d="M 199.994048 201.413389 
L 199.994048 136.460907 
" clip-path="url(#p31e6318667)" style="fill: none; stroke: #008000; stroke-width: 1.5"/>
    <path d="M 228.668651 190.31734 
L 228.668651 163.253806 
" clip-path="url(#p31e6318667)" style="fill: none; stroke: #008000; stroke-width: 1.5"/>
    <path d="M 257.343254 193.294329 
L 257.343254 168.395877 
" clip-path="url(#p31e6318667)" style="fill: none; stroke: #008000; stroke-width: 1.5"/>
    <path d="M 293.186508 201.413389 
L 293.186508 170.56096 
" clip-path="url(#p31e6318667)" style="fill: none; stroke: #008000; stroke-width: 1.5"/>
    <path d="M 329.029762 187.340351 
L 329.029762 159.735546 
" clip-path="url(#p31e6318667)" style="fill: none; stroke: #008000; stroke-width: 1.5"/>
    <path d="M 364.873016 189.965514 
L 364.873016 151.697677 
" clip-path="url(#p31e6318667)" style="fill: none; stroke: #008000; stroke-width: 1.5"/>
   </g>
   <g id="LineCollection_3">
    <path d="M 113.970238 169.343101 
L 113.970238 151.751804 
" clip-path="url(#p31e6318667)" style="fill: none; stroke: #ff0000; stroke-width: 1.5"/>
    <path d="M 128.30754 175.567714 
L 128.30754 84.904875 
" clip-path="url(#p31e6318667)" style="fill: none; stroke: #ff0000; stroke-width: 1.5"/>
    <path d="M 142.644841 121.170011 
L 142.644841 77.868356 
" clip-path="url(#p31e6318667)" style="fill: none; stroke: #ff0000; stroke-width: 1.5"/>
    <path d="M 156.982143 186.25781 
L 156.982143 134.295825 
" clip-path="url(#p31e6318667)" style="fill: none; stroke: #ff0000; stroke-width: 1.5"/>
    <path d="M 171.319444 195.919491 
L 171.319444 159.275466 
" clip-path="url(#p31e6318667)" style="fill: none; stroke: #ff0000; stroke-width: 1.5"/>
    <path d="M 185.656746 201.819342 
L 185.656746 178.815338 
" clip-path="url(#p31e6318667)" style="fill: none; stroke: #ff0000; stroke-width: 1.5"/>
    <path d="M 199.994048 208.395781 
L 199.994048 173.321441 
" clip-path="url(#p31e6318667)" style="fill: none; stroke: #ff0000; stroke-width: 1.5"/>
    <path d="M 228.668651 220.655561 
L 228.668651 191.751707 
" clip-path="url(#p31e6318667)" style="fill: none; stroke: #ff0000; stroke-width: 1.5"/>
    <path d="M 257.343254 222.658263 
L 257.343254 192.07647 
" clip-path="url(#p31e6318667)" style="fill: none; stroke: #ff0000; stroke-width: 1.5"/>
    <path d="M 293.186508 215.351109 
L 293.186508 195.865364 
" clip-path="url(#p31e6318667)" style="fill: none; stroke: #ff0000; stroke-width: 1.5"/>
    <path d="M 329.029762 220.926197 
L 329.029762 196.244254 
" clip-path="url(#p31e6318667)" style="fill: none; stroke: #ff0000; stroke-width: 1.5"/>
   </g>
   <g id="line2d_131">
    <path d="M 142.644841 209.68626 
L 147.098312 204.604446 
L 151.551782 199.843446 
L 156.005253 195.390576 
L 160.458723 191.233154 
L 164.912193 187.358435 
L 169.365664 183.753276 
L 174.264481 180.08307 
L 179.163299 176.705238 
L 184.062116 173.602079 
L 188.960934 170.755725 
L 194.305098 167.920263 
L 199.649263 165.339768 
L 205.438774 162.800427 
L 211.673633 160.325074 
L 218.353839 157.923433 
L 225.924738 155.449259 
L 235.277026 152.645925 
L 269.123402 142.7543 
L 276.248954 140.314726 
L 282.92916 137.792836 
L 289.164019 135.189285 
L 294.95353 132.519613 
L 300.297695 129.811157 
L 305.641859 126.842202 
L 310.540677 123.870109 
L 315.439494 120.638188 
L 320.338312 117.126862 
L 324.791782 113.675815 
L 329.245252 109.962966 
L 333.698723 105.973606 
L 338.152193 101.693027 
L 342.605664 97.106518 
L 347.059134 92.199372 
L 351.512605 86.956879 
L 355.966075 81.364331 
L 360.419545 75.407018 
L 364.873016 69.070232 
L 364.873016 69.070232 
" clip-path="url(#p31e6318667)" style="fill: none; stroke-dasharray: 5.55,2.4; stroke-dashoffset: 0; stroke: #0000ff; stroke-width: 1.7"/>
   </g>
   <g id="line2d_132">
    <path d="M 113.970238 246.963973 
L 114.97586 247.808887 
L 115.981483 248.270634 
L 116.987105 248.321035 
L 117.992728 247.931909 
L 118.99835 247.075078 
L 120.003972 245.722419 
L 121.009595 243.869599 
L 122.015217 241.572646 
L 123.52365 237.437661 
L 125.534895 230.980711 
L 128.048951 221.942401 
L 130.563007 212.053645 
L 133.579874 199.297666 
L 139.613608 173.281516 
L 141.122042 168.327695 
L 142.630475 164.405533 
L 143.636098 162.304535 
L 144.64172 160.572954 
L 145.647342 159.17513 
L 146.652965 158.075403 
L 147.658587 157.23811 
L 148.664209 156.627592 
L 149.669832 156.208187 
L 151.178265 155.85941 
L 153.18951 155.731144 
L 155.703566 155.856736 
L 158.217622 156.23343 
L 161.234489 156.954722 
L 164.754167 158.071002 
L 169.782279 159.948705 
L 178.330069 163.146492 
L 186.375048 165.920487 
L 194.922838 168.626923 
L 203.470628 171.09664 
L 212.018418 173.341384 
L 221.069019 175.486014 
L 230.11962 177.405539 
L 239.673033 179.2029 
L 249.729256 180.85871 
L 259.78548 182.290596 
L 268.33327 183.299091 
L 275.372626 183.901672 
L 281.40636 184.197683 
L 286.937283 184.250726 
L 291.965395 184.088502 
L 296.993507 183.699689 
L 301.518807 183.135095 
L 306.044108 182.347991 
L 310.569409 181.319921 
L 315.094709 180.049609 
L 320.625632 178.256661 
L 339.732457 171.840782 
L 344.257758 170.682458 
L 348.280247 169.894488 
L 351.799925 169.433868 
L 354.816792 169.236541 
L 357.833659 169.244468 
L 360.850526 169.479395 
L 363.867394 169.963068 
L 364.873016 170.183328 
L 364.873016 170.183328 
" clip-path="url(#p31e6318667)" style="fill: none; stroke-dasharray: 5.55,2.4; stroke-dashoffset: 0; stroke: #008000; stroke-width: 1.7"/>
   </g>
   <g id="line2d_133">
    <path d="M 113.970238 155.339962 
L 114.401219 154.907801 
L 115.263181 153.429442 
L 116.125143 151.27606 
L 117.418086 147.157512 
L 122.158877 130.803868 
L 123.882801 125.964716 
L 125.175744 122.873027 
L 126.468687 120.260256 
L 127.76163 118.10922 
L 129.054573 116.40183 
L 130.347516 115.120001 
L 131.640459 114.245645 
L 132.502422 113.880184 
L 133.364384 113.682423 
L 134.226346 113.647006 
L 135.088308 113.768561 
L 136.381251 114.232281 
L 137.674194 115.014269 
L 138.967137 116.092612 
L 140.26008 117.445395 
L 141.984004 119.638138 
L 143.707928 122.227877 
L 145.862833 125.944192 
L 148.017738 130.0982 
L 151.034605 136.455973 
L 155.775396 147.108703 
L 160.516187 157.62432 
L 163.533054 163.813339 
L 166.11894 168.647529 
L 168.273845 172.263878 
L 170.42875 175.440705 
L 172.152674 177.626214 
L 173.876598 179.496894 
L 175.600522 181.09205 
L 177.755428 182.760947 
L 179.910333 184.14335 
L 182.496219 185.53671 
L 187.667991 187.973135 
L 204.045269 195.492017 
L 210.940965 198.392327 
L 216.543718 200.527028 
L 221.715491 202.269438 
L 226.456282 203.636097 
L 230.766092 204.658941 
L 235.075902 205.468577 
L 239.816693 206.134988 
L 244.988465 206.62367 
L 250.591218 206.910413 
L 256.624952 206.984804 
L 263.520648 206.839122 
L 272.57125 206.403026 
L 294.551281 205.234963 
L 301.446977 205.142747 
L 307.480711 205.279871 
L 313.083465 205.638194 
L 318.255237 206.204342 
L 322.996028 206.951371 
L 327.305838 207.84227 
L 329.029762 208.259646 
L 329.029762 208.259646 
" clip-path="url(#p31e6318667)" style="fill: none; stroke-dasharray: 5.55,2.4; stroke-dashoffset: 0; stroke: #ff0000; stroke-width: 1.7"/>
   </g>
  </g>
  <g id="axes_2">
   <g id="matplotlib.axis_3">
    <g id="xtick_44">
     <g id="line2d_134">
      <g>
       <use href="#me1ed62e7b0" x="465.241071" y="268.125" style="stroke: #000000"/>
      </g>
     </g>
     <g id="line2d_135">
      <g>
       <use href="#m8548808949" x="465.241071" y="11.833333" style="stroke: #000000"/>
      </g>
     </g>
     <g id="text_15">
      <text style="font-size: 15.872px; font-family: 'DejaVu Sans', 'Liberation Sans', sans-serif; text-anchor: middle" x="465.241071" y="283.68524">175</text>
     </g>
    </g>
    <g id="xtick_45">
     <g id="line2d_136">
      <g>
       <use href="#me1ed62e7b0" x="502.279762" y="268.125" style="stroke: #000000"/>
      </g>
     </g>
     <g id="line2d_137">
      <g>
       <use href="#m8548808949" x="502.279762" y="11.833333" style="stroke: #000000"/>
      </g>
     </g>
     <g id="text_16">
      <text style="font-size: 15.872px; font-family: 'DejaVu Sans', 'Liberation Sans', sans-serif; text-anchor: middle" x="502.279762" y="283.68524">200</text>
     </g>
    </g>
    <g id="xtick_46">
     <g id="line2d_138">
      <g>
       <use href="#me1ed62e7b0" x="539.318452" y="268.125" style="stroke: #000000"/>
      </g>
     </g>
     <g id="line2d_139">
      <g>
       <use href="#m8548808949" x="539.318452" y="11.833333" style="stroke: #000000"/>
      </g>
     </g>
     <g id="text_17">
      <text style="font-size: 15.872px; font-family: 'DejaVu Sans', 'Liberation Sans', sans-serif; text-anchor: middle" x="539.318452" y="283.68524">225</text>
     </g>
    </g>
    <g id="xtick_47">
     <g id="line2d_140">
      <g>
       <use href="#me1ed62e7b0" x="576.357143" y="268.125" style="stroke: #000000"/>
      </g>
     </g>
     <g id="line2d_141">
      <g>
       <use href="#m8548808949" x="576.357143" y="11.833333" style="stroke: #000000"/>
      </g>
     </g>
     <g id="text_18">
      <text style="font-size: 15.872px; font-family: 'DejaVu Sans', 'Liberation Sans', sans-serif; text-anchor: middle" x="576.357143" y="283.68524">250</text>
     </g>
    </g>
    <g id="xtick_48">
     <g id="line2d_142">
      <g>
       <use href="#me1ed62e7b0" x="613.395833" y="268.125" style="stroke: #000000"/>
      </g>
     </g>
     <g id="line2d_143">
      <g>
       <use href="#m8548808949" x="613.395833" y="11.833333" style="stroke: #000000"/>
      </g>
     </g>
     <g id="text_19">
      <text style="font-size: 15.872px; font-family: 'DejaVu Sans', 'Liberation Sans', sans-serif; text-anchor: middle" x="613.395833" y="283.68524">275</text>
     </g>
    </g>
    <g id="xtick_49">
     <g id="line2d_144">
      <g>
       <use href="#me1ed62e7b0" x="650.434524" y="268.125" style="stroke: #000000"/>
      </g>
     </g>
     <g id="line2d_145">
      <g>
       <use href="#m8548808949" x="650.434524" y="11.833333" style="stroke: #000000"/>
      </g>
     </g>
     <g id="text_20">
      <text style="font-size: 15.872px; font-family: 'DejaVu Sans', 'Liberation Sans', sans-serif; text-anchor: middle" x="650.434524" y="283.68524">300</text>
     </g>
    </g>
    <g id="xtick_50">
     <g id="line2d_146">
      <g>
       <use href="#me1ed62e7b0" x="687.473214" y="268.125" style="stroke: #000000"/>
      </g>
     </g>
     <g id="line2d_147">
      <g>
       <use href="#m8548808949" x="687.473214" y="11.833333" style="stroke: #000000"/>
      </g>
     </g>
     <g id="text_21">
      <text style="font-size: 15.872px; font-family: 'DejaVu Sans', 'Liberation Sans', sans-serif; text-anchor: middle" x="687.473214" y="283.68524">325</text>
     </g>
    </g>
    <g id="xtick_51">
     <g id="line2d_148">
      <g>
       <use href="#me1ed62e7b0" x="724.511905" y="268.125" style="stroke: #000000"/>
      </g>
     </g>
     <g id="line2d_149">
      <g>
       <use href="#m8548808949" x="724.511905" y="11.833333" style="stroke: #000000"/>
      </g>
     </g>
     <g id="text_22">
      <text style="font-size: 15.872px; font-family: 'DejaVu Sans', 'Liberation Sans', sans-serif; text-anchor: middle" x="724.511905" y="283.68524">350</text>
     </g>
    </g>
    <g id="xtick_52">
     <g id="line2d_150">
      <g>
       <use href="#me1ed62e7b0" x="761.550595" y="268.125" style="stroke: #000000"/>
      </g>
     </g>
     <g id="line2d_151">
      <g>
       <use href="#m8548808949" x="761.550595" y="11.833333" style="stroke: #000000"/>
      </g>
     </g>
     <g id="text_23">
      <text style="font-size: 15.872px; font-family: 'DejaVu Sans', 'Liberation Sans', sans-serif; text-anchor: middle" x="761.550595" y="283.68524">375</text>
     </g>
    </g>
    <g id="xtick_53">
     <g id="line2d_152">
      <g>
       <use href="#m3778f43bfe" x="457.833333" y="268.125" style="stroke: #000000"/>
      </g>
     </g>
     <g id="line2d_153">
      <g>
       <use href="#m2444ff35b4" x="457.833333" y="11.833333" style="stroke: #000000"/>
      </g>
     </g>
    </g>
    <g id="xtick_54">
     <g id="line2d_154">
      <g>
       <use href="#m3778f43bfe" x="472.64881" y="268.125" style="stroke: #000000"/>
      </g>
     </g>
     <g id="line2d_155">
      <g>
       <use href="#m2444ff35b4" x="472.64881" y="11.833333" style="stroke: #000000"/>
      </g>
     </g>
    </g>
    <g id="xtick_55">
     <g id="line2d_156">
      <g>
       <use href="#m3778f43bfe" x="480.056548" y="268.125" style="stroke: #000000"/>
      </g>
     </g>
     <g id="line2d_157">
      <g>
       <use href="#m2444ff35b4" x="480.056548" y="11.833333" style="stroke: #000000"/>
      </g>
     </g>
    </g>
    <g id="xtick_56">
     <g id="line2d_158">
      <g>
       <use href="#m3778f43bfe" x="487.464286" y="268.125" style="stroke: #000000"/>
      </g>
     </g>
     <g id="line2d_159">
      <g>
       <use href="#m2444ff35b4" x="487.464286" y="11.833333" style="stroke: #000000"/>
      </g>
     </g>
    </g>
    <g id="xtick_57">
     <g id="line2d_160">
      <g>
       <use href="#m3778f43bfe" x="494.872024" y="268.125" style="stroke: #000000"/>
      </g>
     </g>
     <g id="line2d_161">
      <g>
       <use href="#m2444ff35b4" x="494.872024" y="11.833333" style="stroke: #000000"/>
      </g>
     </g>
    </g>
    <g id="xtick_58">
     <g id="line2d_162">
      <g>
       <use href="#m3778f43bfe" x="509.6875" y="268.125" style="stroke: #000000"/>
      </g>
     </g>
     <g id="line2d_163">
      <g>
       <use href="#m2444ff35b4" x="509.6875" y="11.833333" style="stroke: #000000"/>
      </g>
     </g>
    </g>
    <g id="xtick_59">
     <g id="line2d_164">
      <g>
       <use href="#m3778f43bfe" x="517.095238" y="268.125" style="stroke: #000000"/>
      </g>
     </g>
     <g id="line2d_165">
      <g>
       <use href="#m2444ff35b4" x="517.095238" y="11.833333" style="stroke: #000000"/>
      </g>
     </g>
    </g>
    <g id="xtick_60">
     <g id="line2d_166">
      <g>
       <use href="#m3778f43bfe" x="524.502976" y="268.125" style="stroke: #000000"/>
      </g>
     </g>
     <g id="line2d_167">
      <g>
       <use href="#m2444ff35b4" x="524.502976" y="11.833333" style="stroke: #000000"/>
      </g>
     </g>
    </g>
    <g id="xtick_61">
     <g id="line2d_168">
      <g>
       <use href="#m3778f43bfe" x="531.910714" y="268.125" style="stroke: #000000"/>
      </g>
     </g>
     <g id="line2d_169">
      <g>
       <use href="#m2444ff35b4" x="531.910714" y="11.833333" style="stroke: #000000"/>
      </g>
     </g>
    </g>
    <g id="xtick_62">
     <g id="line2d_170">
      <g>
       <use href="#m3778f43bfe" x="546.72619" y="268.125" style="stroke: #000000"/>
      </g>
     </g>
     <g id="line2d_171">
      <g>
       <use href="#m2444ff35b4" x="546.72619" y="11.833333" style="stroke: #000000"/>
      </g>
     </g>
    </g>
    <g id="xtick_63">
     <g id="line2d_172">
      <g>
       <use href="#m3778f43bfe" x="554.133929" y="268.125" style="stroke: #000000"/>
      </g>
     </g>
     <g id="line2d_173">
      <g>
       <use href="#m2444ff35b4" x="554.133929" y="11.833333" style="stroke: #000000"/>
      </g>
     </g>
    </g>
    <g id="xtick_64">
     <g id="line2d_174">
      <g>
       <use href="#m3778f43bfe" x="561.541667" y="268.125" style="stroke: #000000"/>
      </g>
     </g>
     <g id="line2d_175">
      <g>
       <use href="#m2444ff35b4" x="561.541667" y="11.833333" style="stroke: #000000"/>
      </g>
     </g>
    </g>
    <g id="xtick_65">
     <g id="line2d_176">
      <g>
       <use href="#m3778f43bfe" x="568.949405" y="268.125" style="stroke: #000000"/>
      </g>
     </g>
     <g id="line2d_177">
      <g>
       <use href="#m2444ff35b4" x="568.949405" y="11.833333" style="stroke: #000000"/>
      </g>
     </g>
    </g>
    <g id="xtick_66">
     <g id="line2d_178">
      <g>
       <use href="#m3778f43bfe" x="583.764881" y="268.125" style="stroke: #000000"/>
      </g>
     </g>
     <g id="line2d_179">
      <g>
       <use href="#m2444ff35b4" x="583.764881" y="11.833333" style="stroke: #000000"/>
      </g>
     </g>
    </g>
    <g id="xtick_67">
     <g id="line2d_180">
      <g>
       <use href="#m3778f43bfe" x="591.172619" y="268.125" style="stroke: #000000"/>
      </g>
     </g>
     <g id="line2d_181">
      <g>
       <use href="#m2444ff35b4" x="591.172619" y="11.833333" style="stroke: #000000"/>
      </g>
     </g>
    </g>
    <g id="xtick_68">
     <g id="line2d_182">
      <g>
       <use href="#m3778f43bfe" x="598.580357" y="268.125" style="stroke: #000000"/>
      </g>
     </g>
     <g id="line2d_183">
      <g>
       <use href="#m2444ff35b4" x="598.580357" y="11.833333" style="stroke: #000000"/>
      </g>
     </g>
    </g>
    <g id="xtick_69">
     <g id="line2d_184">
      <g>
       <use href="#m3778f43bfe" x="605.988095" y="268.125" style="stroke: #000000"/>
      </g>
     </g>
     <g id="line2d_185">
      <g>
       <use href="#m2444ff35b4" x="605.988095" y="11.833333" style="stroke: #000000"/>
      </g>
     </g>
    </g>
    <g id="xtick_70">
     <g id="line2d_186">
      <g>
       <use href="#m3778f43bfe" x="620.803571" y="268.125" style="stroke: #000000"/>
      </g>
     </g>
     <g id="line2d_187">
      <g>
       <use href="#m2444ff35b4" x="620.803571" y="11.833333" style="stroke: #000000"/>
      </g>
     </g>
    </g>
    <g id="xtick_71">
     <g id="line2d_188">
      <g>
       <use href="#m3778f43bfe" x="628.21131" y="268.125" style="stroke: #000000"/>
      </g>
     </g>
     <g id="line2d_189">
      <g>
       <use href="#m2444ff35b4" x="628.21131" y="11.833333" style="stroke: #000000"/>
      </g>
     </g>
    </g>
    <g id="xtick_72">
     <g id="line2d_190">
      <g>
       <use href="#m3778f43bfe" x="635.619048" y="268.125" style="stroke: #000000"/>
      </g>
     </g>
     <g id="line2d_191">
      <g>
       <use href="#m2444ff35b4" x="635.619048" y="11.833333" style="stroke: #000000"/>
      </g>
     </g>
    </g>
    <g id="xtick_73">
     <g id="line2d_192">
      <g>
       <use href="#m3778f43bfe" x="643.026786" y="268.125" style="stroke: #000000"/>
      </g>
     </g>
     <g id="line2d_193">
      <g>
       <use href="#m2444ff35b4" x="643.026786" y="11.833333" style="stroke: #000000"/>
      </g>
     </g>
    </g>
    <g id="xtick_74">
     <g id="line2d_194">
      <g>
       <use href="#m3778f43bfe" x="657.842262" y="268.125" style="stroke: #000000"/>
      </g>
     </g>
     <g id="line2d_195">
      <g>
       <use href="#m2444ff35b4" x="657.842262" y="11.833333" style="stroke: #000000"/>
      </g>
     </g>
    </g>
    <g id="xtick_75">
     <g id="line2d_196">
      <g>
       <use href="#m3778f43bfe" x="665.25" y="268.125" style="stroke: #000000"/>
      </g>
     </g>
     <g id="line2d_197">
      <g>
       <use href="#m2444ff35b4" x="665.25" y="11.833333" style="stroke: #000000"/>
      </g>
     </g>
    </g>
    <g id="xtick_76">
     <g id="line2d_198">
      <g>
       <use href="#m3778f43bfe" x="672.657738" y="268.125" style="stroke: #000000"/>
      </g>
     </g>
     <g id="line2d_199">
      <g>
       <use href="#m2444ff35b4" x="672.657738" y="11.833333" style="stroke: #000000"/>
      </g>
     </g>
    </g>
    <g id="xtick_77">
     <g id="line2d_200">
      <g>
       <use href="#m3778f43bfe" x="680.065476" y="268.125" style="stroke: #000000"/>
      </g>
     </g>
     <g id="line2d_201">
      <g>
       <use href="#m2444ff35b4" x="680.065476" y="11.833333" style="stroke: #000000"/>
      </g>
     </g>
    </g>
    <g id="xtick_78">
     <g id="line2d_202">
      <g>
       <use href="#m3778f43bfe" x="694.880952" y="268.125" style="stroke: #000000"/>
      </g>
     </g>
     <g id="line2d_203">
      <g>
       <use href="#m2444ff35b4" x="694.880952" y="11.833333" style="stroke: #000000"/>
      </g>
     </g>
    </g>
    <g id="xtick_79">
     <g id="line2d_204">
      <g>
       <use href="#m3778f43bfe" x="702.28869" y="268.125" style="stroke: #000000"/>
      </g>
     </g>
     <g id="line2d_205">
      <g>
       <use href="#m2444ff35b4" x="702.28869" y="11.833333" style="stroke: #000000"/>
      </g>
     </g>
    </g>
    <g id="xtick_80">
     <g id="line2d_206">
      <g>
       <use href="#m3778f43bfe" x="709.696429" y="268.125" style="stroke: #000000"/>
      </g>
     </g>
     <g id="line2d_207">
      <g>
       <use href="#m2444ff35b4" x="709.696429" y="11.833333" style="stroke: #000000"/>
      </g>
     </g>
    </g>
    <g id="xtick_81">
     <g id="line2d_208">
      <g>
       <use href="#m3778f43bfe" x="717.104167" y="268.125" style="stroke: #000000"/>
      </g>
     </g>
     <g id="line2d_209">
      <g>
       <use href="#m2444ff35b4" x="717.104167" y="11.833333" style="stroke: #000000"/>
      </g>
     </g>
    </g>
    <g id="xtick_82">
     <g id="line2d_210">
      <g>
       <use href="#m3778f43bfe" x="731.919643" y="268.125" style="stroke: #000000"/>
      </g>
     </g>
     <g id="line2d_211">
      <g>
       <use href="#m2444ff35b4" x="731.919643" y="11.833333" style="stroke: #000000"/>
      </g>
     </g>
    </g>
    <g id="xtick_83">
     <g id="line2d_212">
      <g>
       <use href="#m3778f43bfe" x="739.327381" y="268.125" style="stroke: #000000"/>
      </g>
     </g>
     <g id="line2d_213">
      <g>
       <use href="#m2444ff35b4" x="739.327381" y="11.833333" style="stroke: #000000"/>
      </g>
     </g>
    </g>
    <g id="xtick_84">
     <g id="line2d_214">
      <g>
       <use href="#m3778f43bfe" x="746.735119" y="268.125" style="stroke: #000000"/>
      </g>
     </g>
     <g id="line2d_215">
      <g>
       <use href="#m2444ff35b4" x="746.735119" y="11.833333" style="stroke: #000000"/>
      </g>
     </g>
    </g>
    <g id="xtick_85">
     <g id="line2d_216">
      <g>
       <use href="#m3778f43bfe" x="754.142857" y="268.125" style="stroke: #000000"/>
      </g>
     </g>
     <g id="line2d_217">
      <g>
       <use href="#m2444ff35b4" x="754.142857" y="11.833333" style="stroke: #000000"/>
      </g>
     </g>
    </g>
    <g id="xtick_86">
     <g id="line2d_218">
      <g>
       <use href="#m3778f43bfe" x="768.958333" y="268.125" style="stroke: #000000"/>
      </g>
     </g>
     <g id="line2d_219">
      <g>
       <use href="#m2444ff35b4" x="768.958333" y="11.833333" style="stroke: #000000"/>
      </g>
     </g>
    </g>
   </g>
   <g id="matplotlib.axis_4">
    <g id="ytick_20">
     <g id="line2d_220">
      <g>
       <use href="#m54b7029aaa" x="457.833333" y="249.67853" style="stroke: #000000"/>
      </g>
     </g>
     <g id="line2d_221">
      <g>
       <use href="#m9e44f33b49" x="768.958333" y="249.67853" style="stroke: #000000"/>
      </g>
     </g>
     <g id="text_24">
      <text style="font-size: 15.872px; font-family: 'DejaVu Sans', 'Liberation Sans', sans-serif; text-anchor: end" x="454.333333" y="255.70865">20</text>
     </g>
    </g>
    <g id="ytick_21">
     <g id="line2d_222">
      <g>
       <use href="#m54b7029aaa" x="457.833333" y="208.867755" style="stroke: #000000"/>
      </g>
     </g>
     <g id="line2d_223">
      <g>
       <use href="#m9e44f33b49" x="768.958333" y="208.867755" style="stroke: #000000"/>
      </g>
     </g>
     <g id="text_25">
      <text style="font-size: 15.872px; font-family: 'DejaVu Sans', 'Liberation Sans', sans-serif; text-anchor: end" x="454.333333" y="214.897875">30</text>
     </g>
    </g>
    <g id="ytick_22">
     <g id="line2d_224">
      <g>
       <use href="#m54b7029aaa" x="457.833333" y="168.05698" style="stroke: #000000"/>
      </g>
     </g>
     <g id="line2d_225">
      <g>
       <use href="#m9e44f33b49" x="768.958333" y="168.05698" style="stroke: #000000"/>
      </g>
     </g>
     <g id="text_26">
      <text style="font-size: 15.872px; font-family: 'DejaVu Sans', 'Liberation Sans', sans-serif; text-anchor: end" x="454.333333" y="174.0871">40</text>
     </g>
    </g>
    <g id="ytick_23">
     <g id="line2d_226">
      <g>
       <use href="#m54b7029aaa" x="457.833333" y="127.246205" style="stroke: #000000"/>
      </g>
     </g>
     <g id="line2d_227">
      <g>
       <use href="#m9e44f33b49" x="768.958333" y="127.246205" style="stroke: #000000"/>
      </g>
     </g>
     <g id="text_27">
      <text style="font-size: 15.872px; font-family: 'DejaVu Sans', 'Liberation Sans', sans-serif; text-anchor: end" x="454.333333" y="133.276325">50</text>
     </g>
    </g>
    <g id="ytick_24">
     <g id="line2d_228">
      <g>
       <use href="#m54b7029aaa" x="457.833333" y="86.43543" style="stroke: #000000"/>
      </g>
     </g>
     <g id="line2d_229">
      <g>
       <use href="#m9e44f33b49" x="768.958333" y="86.43543" style="stroke: #000000"/>
      </g>
     </g>
     <g id="text_28">
      <text style="font-size: 15.872px; font-family: 'DejaVu Sans', 'Liberation Sans', sans-serif; text-anchor: end" x="454.333333" y="92.46555">60</text>
     </g>
    </g>
    <g id="ytick_25">
     <g id="line2d_230">
      <g>
       <use href="#m54b7029aaa" x="457.833333" y="45.624655" style="stroke: #000000"/>
      </g>
     </g>
     <g id="line2d_231">
      <g>
       <use href="#m9e44f33b49" x="768.958333" y="45.624655" style="stroke: #000000"/>
      </g>
     </g>
     <g id="text_29">
      <text style="font-size: 15.872px; font-family: 'DejaVu Sans', 'Liberation Sans', sans-serif; text-anchor: end" x="454.333333" y="51.654775">70</text>
     </g>
    </g>
    <g id="ytick_26">
     <g id="line2d_232">
      <g>
       <use href="#me99788c269" x="457.833333" y="266.00284" style="stroke: #000000"/>
      </g>
     </g>
     <g id="line2d_233">
      <g>
       <use href="#m71ee6960a1" x="768.958333" y="266.00284" style="stroke: #000000"/>
      </g>
     </g>
    </g>
    <g id="ytick_27">
     <g id="line2d_234">
      <g>
       <use href="#me99788c269" x="457.833333" y="257.840685" style="stroke: #000000"/>
      </g>
     </g>
     <g id="line2d_235">
      <g>
       <use href="#m71ee6960a1" x="768.958333" y="257.840685" style="stroke: #000000"/>
      </g>
     </g>
    </g>
    <g id="ytick_28">
     <g id="line2d_236">
      <g>
       <use href="#me99788c269" x="457.833333" y="241.516375" style="stroke: #000000"/>
      </g>
     </g>
     <g id="line2d_237">
      <g>
       <use href="#m71ee6960a1" x="768.958333" y="241.516375" style="stroke: #000000"/>
      </g>
     </g>
    </g>
    <g id="ytick_29">
     <g id="line2d_238">
      <g>
       <use href="#me99788c269" x="457.833333" y="233.35422" style="stroke: #000000"/>
      </g>
     </g>
     <g id="line2d_239">
      <g>
       <use href="#m71ee6960a1" x="768.958333" y="233.35422" style="stroke: #000000"/>
      </g>
     </g>
    </g>
    <g id="ytick_30">
     <g id="line2d_240">
      <g>
       <use href="#me99788c269" x="457.833333" y="225.192065" style="stroke: #000000"/>
      </g>
     </g>
     <g id="line2d_241">
      <g>
       <use href="#m71ee6960a1" x="768.958333" y="225.192065" style="stroke: #000000"/>
      </g>
     </g>
    </g>
    <g id="ytick_31">
     <g id="line2d_242">
      <g>
       <use href="#me99788c269" x="457.833333" y="217.02991" style="stroke: #000000"/>
      </g>
     </g>
     <g id="line2d_243">
      <g>
       <use href="#m71ee6960a1" x="768.958333" y="217.02991" style="stroke: #000000"/>
      </g>
     </g>
    </g>
    <g id="ytick_32">
     <g id="line2d_244">
      <g>
       <use href="#me99788c269" x="457.833333" y="200.7056" style="stroke: #000000"/>
      </g>
     </g>
     <g id="line2d_245">
      <g>
       <use href="#m71ee6960a1" x="768.958333" y="200.7056" style="stroke: #000000"/>
      </g>
     </g>
    </g>
    <g id="ytick_33">
     <g id="line2d_246">
      <g>
       <use href="#me99788c269" x="457.833333" y="192.543445" style="stroke: #000000"/>
      </g>
     </g>
     <g id="line2d_247">
      <g>
       <use href="#m71ee6960a1" x="768.958333" y="192.543445" style="stroke: #000000"/>
      </g>
     </g>
    </g>
    <g id="ytick_34">
     <g id="line2d_248">
      <g>
       <use href="#me99788c269" x="457.833333" y="184.38129" style="stroke: #000000"/>
      </g>
     </g>
     <g id="line2d_249">
      <g>
       <use href="#m71ee6960a1" x="768.958333" y="184.38129" style="stroke: #000000"/>
      </g>
     </g>
    </g>
    <g id="ytick_35">
     <g id="line2d_250">
      <g>
       <use href="#me99788c269" x="457.833333" y="176.219135" style="stroke: #000000"/>
      </g>
     </g>
     <g id="line2d_251">
      <g>
       <use href="#m71ee6960a1" x="768.958333" y="176.219135" style="stroke: #000000"/>
      </g>
     </g>
    </g>
    <g id="ytick_36">
     <g id="line2d_252">
      <g>
       <use href="#me99788c269" x="457.833333" y="159.894825" style="stroke: #000000"/>
      </g>
     </g>
     <g id="line2d_253">
      <g>
       <use href="#m71ee6960a1" x="768.958333" y="159.894825" style="stroke: #000000"/>
      </g>
     </g>
    </g>
    <g id="ytick_37">
     <g id="line2d_254">
      <g>
       <use href="#me99788c269" x="457.833333" y="151.73267" style="stroke: #000000"/>
      </g>
     </g>
     <g id="line2d_255">
      <g>
       <use href="#m71ee6960a1" x="768.958333" y="151.73267" style="stroke: #000000"/>
      </g>
     </g>
    </g>
    <g id="ytick_38">
     <g id="line2d_256">
      <g>
       <use href="#me99788c269" x="457.833333" y="143.570515" style="stroke: #000000"/>
      </g>
     </g>
     <g id="line2d_257">
      <g>
       <use href="#m71ee6960a1" x="768.958333" y="143.570515" style="stroke: #000000"/>
      </g>
     </g>
    </g>
    <g id="ytick_39">
     <g id="line2d_258">
      <g>
       <use href="#me99788c269" x="457.833333" y="135.40836" style="stroke: #000000"/>
      </g>
     </g>
     <g id="line2d_259">
      <g>
       <use href="#m71ee6960a1" x="768.958333" y="135.40836" style="stroke: #000000"/>
      </g>
     </g>
    </g>
    <g id="ytick_40">
     <g id="line2d_260">
      <g>
       <use href="#me99788c269" x="457.833333" y="119.08405" style="stroke: #000000"/>
      </g>
     </g>
     <g id="line2d_261">
      <g>
       <use href="#m71ee6960a1" x="768.958333" y="119.08405" style="stroke: #000000"/>
      </g>
     </g>
    </g>
    <g id="ytick_41">
     <g id="line2d_262">
      <g>
       <use href="#me99788c269" x="457.833333" y="110.921895" style="stroke: #000000"/>
      </g>
     </g>
     <g id="line2d_263">
      <g>
       <use href="#m71ee6960a1" x="768.958333" y="110.921895" style="stroke: #000000"/>
      </g>
     </g>
    </g>
    <g id="ytick_42">
     <g id="line2d_264">
      <g>
       <use href="#me99788c269" x="457.833333" y="102.75974" style="stroke: #000000"/>
      </g>
     </g>
     <g id="line2d_265">
      <g>
       <use href="#m71ee6960a1" x="768.958333" y="102.75974" style="stroke: #000000"/>
      </g>
     </g>
    </g>
    <g id="ytick_43">
     <g id="line2d_266">
      <g>
       <use href="#me99788c269" x="457.833333" y="94.597585" style="stroke: #000000"/>
      </g>
     </g>
     <g id="line2d_267">
      <g>
       <use href="#m71ee6960a1" x="768.958333" y="94.597585" style="stroke: #000000"/>
      </g>
     </g>
    </g>
    <g id="ytick_44">
     <g id="line2d_268">
      <g>
       <use href="#me99788c269" x="457.833333" y="78.273275" style="stroke: #000000"/>
      </g>
     </g>
     <g id="line2d_269">
      <g>
       <use href="#m71ee6960a1" x="768.958333" y="78.273275" style="stroke: #000000"/>
      </g>
     </g>
    </g>
    <g id="ytick_45">
     <g id="line2d_270">
      <g>
       <use href="#me99788c269" x="457.833333" y="70.11112" style="stroke: #000000"/>
      </g>
     </g>
     <g id="line2d_271">
      <g>
       <use href="#m71ee6960a1" x="768.958333" y="70.11112" style="stroke: #000000"/>
      </g>
     </g>
    </g>
    <g id="ytick_46">
     <g id="line2d_272">
      <g>
       <use href="#me99788c269" x="457.833333" y="61.948965" style="stroke: #000000"/>
      </g>
     </g>
     <g id="line2d_273">
      <g>
       <use href="#m71ee6960a1" x="768.958333" y="61.948965" style="stroke: #000000"/>
      </g>
     </g>
    </g>
    <g id="ytick_47">
     <g id="line2d_274">
      <g>
       <use href="#me99788c269" x="457.833333" y="53.78681" style="stroke: #000000"/>
      </g>
     </g>
     <g id="line2d_275">
      <g>
       <use href="#m71ee6960a1" x="768.958333" y="53.78681" style="stroke: #000000"/>
      </g>
     </g>
    </g>
    <g id="ytick_48">
     <g id="line2d_276">
      <g>
       <use href="#me99788c269" x="457.833333" y="37.4625" style="stroke: #000000"/>
      </g>
     </g>
     <g id="line2d_277">
      <g>
       <use href="#m71ee6960a1" x="768.958333" y="37.4625" style="stroke: #000000"/>
      </g>
     </g>
    </g>
    <g id="ytick_49">
     <g id="line2d_278">
      <g>
       <use href="#me99788c269" x="457.833333" y="29.300345" style="stroke: #000000"/>
      </g>
     </g>
     <g id="line2d_279">
      <g>
       <use href="#m71ee6960a1" x="768.958333" y="29.300345" style="stroke: #000000"/>
      </g>
     </g>
    </g>
    <g id="ytick_50">
     <g id="line2d_280">
      <g>
       <use href="#me99788c269" x="457.833333" y="21.13819" style="stroke: #000000"/>
      </g>
     </g>
     <g id="line2d_281">
      <g>
       <use href="#m71ee6960a1" x="768.958333" y="21.13819" style="stroke: #000000"/>
      </g>
     </g>
    </g>
    <g id="ytick_51">
     <g id="line2d_282">
      <g>
       <use href="#me99788c269" x="457.833333" y="12.976035" style="stroke: #000000"/>
      </g>
     </g>
     <g id="line2d_283">
      <g>
       <use href="#m71ee6960a1" x="768.958333" y="12.976035" style="stroke: #000000"/>
      </g>
     </g>
    </g>
   </g>
   <g id="line2d_284">
    <defs>
     <path id="m3b3e0c8a6c" d="M 0 5 
C 1.326016 5 2.597899 4.473168 3.535534 3.535534 
C 4.473168 2.597899 5 1.326016 5 0 
C 5 -1.326016 4.473168 -2.597899 3.535534 -3.535534 
C 2.597899 -4.473168 1.326016 -5 0 -5 
C -1.326016 -5 -2.597899 -4.473168 -3.535534 -3.535534 
C -4.473168 -2.597899 -5 -1.326016 -5 0 
C -5 1.326016 -4.473168 2.597899 -3.535534 3.535534 
C -2.597899 4.473168 -1.326016 5 0 5 
z
" style="stroke: #000000"/>
    </defs>
    <g clip-path="url(#pa0471c43bc)">
     <use href="#m3b3e0c8a6c" x="472.64881" y="102.596497" style="stroke: #000000"/>
     <use href="#m3b3e0c8a6c" x="487.464286" y="102.433254" style="stroke: #000000"/>
     <use href="#m3b3e0c8a6c" x="502.279762" y="150.100239" style="stroke: #000000"/>
     <use href="#m3b3e0c8a6c" x="517.095238" y="156.915638" style="stroke: #000000"/>
     <use href="#m3b3e0c8a6c" x="531.910714" y="165.200226" style="stroke: #000000"/>
     <use href="#m3b3e0c8a6c" x="546.72619" y="188.462367" style="stroke: #000000"/>
     <use href="#m3b3e0c8a6c" x="561.541667" y="183.32021" style="stroke: #000000"/>
     <use href="#m3b3e0c8a6c" x="576.357143" y="192.869931" style="stroke: #000000"/>
     <use href="#m3b3e0c8a6c" x="591.172619" y="207.153702" style="stroke: #000000"/>
     <use href="#m3b3e0c8a6c" x="620.803571" y="205.276407" style="stroke: #000000"/>
     <use href="#m3b3e0c8a6c" x="650.434524" y="204.296948" style="stroke: #000000"/>
     <use href="#m3b3e0c8a6c" x="687.473214" y="214.989371" style="stroke: #000000"/>
     <use href="#m3b3e0c8a6c" x="724.511905" y="212.255049" style="stroke: #000000"/>
    </g>
   </g>
   <g id="line2d_285">
    <defs>
     <path id="m2397b61e24" d="M 0 5 
C 1.326016 5 2.597899 4.473168 3.535534 3.535534 
C 4.473168 2.597899 5 1.326016 5 0 
C 5 -1.326016 4.473168 -2.597899 3.535534 -3.535534 
C 2.597899 -4.473168 1.326016 -5 0 -5 
C -1.326016 -5 -2.597899 -4.473168 -3.535534 -3.535534 
C -4.473168 -2.597899 -5 -1.326016 -5 0 
C -5 1.326016 -4.473168 2.597899 -3.535534 3.535534 
C -2.597899 4.473168 -1.326016 5 0 5 
z
" style="stroke: #ffa500"/>
    </defs>
    <g clip-path="url(#pa0471c43bc)">
     <use href="#m2397b61e24" x="472.64881" y="234.741786" style="fill: #ffa500; stroke: #ffa500"/>
     <use href="#m2397b61e24" x="487.464286" y="209.194241" style="fill: #ffa500; stroke: #ffa500"/>
     <use href="#m2397b61e24" x="502.279762" y="216.00964" style="fill: #ffa500; stroke: #ffa500"/>
     <use href="#m2397b61e24" x="517.095238" y="208.378025" style="fill: #ffa500; stroke: #ffa500"/>
     <use href="#m2397b61e24" x="531.910714" y="216.00964" style="fill: #ffa500; stroke: #ffa500"/>
     <use href="#m2397b61e24" x="546.72619" y="219.968286" style="fill: #ffa500; stroke: #ffa500"/>
     <use href="#m2397b61e24" x="561.541667" y="219.968286" style="fill: #ffa500; stroke: #ffa500"/>
     <use href="#m2397b61e24" x="576.357143" y="219.274502" style="fill: #ffa500; stroke: #ffa500"/>
     <use href="#m2397b61e24" x="591.172619" y="223.967742" style="fill: #ffa500; stroke: #ffa500"/>
     <use href="#m2397b61e24" x="620.803571" y="236.129352" style="fill: #ffa500; stroke: #ffa500"/>
     <use href="#m2397b61e24" x="650.434524" y="231.517735" style="fill: #ffa500; stroke: #ffa500"/>
     <use href="#m2397b61e24" x="687.473214" y="229.844493" style="fill: #ffa500; stroke: #ffa500"/>
     <use href="#m2397b61e24" x="724.511905" y="234.007192" style="fill: #ffa500; stroke: #ffa500"/>
     <use href="#m2397b61e24" x="761.550595" y="226.212334" style="fill: #ffa500; stroke: #ffa500"/>
    </g>
   </g>
   <g id="line2d_286">
    <defs>
     <path id="mc009217a7a" d="M 0 5 
C 1.326016 5 2.597899 4.473168 3.535534 3.535534 
C 4.473168 2.597899 5 1.326016 5 0 
C 5 -1.326016 4.473168 -2.597899 3.535534 -3.535534 
C 2.597899 -4.473168 1.326016 -5 0 -5 
C -1.326016 -5 -2.597899 -4.473168 -3.535534 -3.535534 
C -4.473168 -2.597899 -5 -1.326016 -5 0 
C -5 1.326016 -4.473168 2.597899 -3.535534 3.535534 
C -2.597899 4.473168 -1.326016 5 0 5 
z
" style="stroke: #ff00ff"/>
    </defs>
    <g clip-path="url(#pa0471c43bc)">
     <use href="#mc009217a7a" x="487.464286" y="237.59854" style="fill: #ff00ff; stroke: #ff00ff"/>
     <use href="#mc009217a7a" x="502.279762" y="229.926115" style="fill: #ff00ff; stroke: #ff00ff"/>
     <use href="#mc009217a7a" x="517.095238" y="238.006648" style="fill: #ff00ff; stroke: #ff00ff"/>
     <use href="#mc009217a7a" x="531.910714" y="237.027189" style="fill: #ff00ff; stroke: #ff00ff"/>
     <use href="#mc009217a7a" x="546.72619" y="238.414756" style="fill: #ff00ff; stroke: #ff00ff"/>
     <use href="#mc009217a7a" x="561.541667" y="240.985835" style="fill: #ff00ff; stroke: #ff00ff"/>
     <use href="#mc009217a7a" x="576.357143" y="242.087726" style="fill: #ff00ff; stroke: #ff00ff"/>
     <use href="#mc009217a7a" x="591.172619" y="241.393942" style="fill: #ff00ff; stroke: #ff00ff"/>
     <use href="#mc009217a7a" x="620.803571" y="243.679346" style="fill: #ff00ff; stroke: #ff00ff"/>
     <use href="#mc009217a7a" x="650.434524" y="245.760695" style="fill: #ff00ff; stroke: #ff00ff"/>
     <use href="#mc009217a7a" x="687.473214" y="241.149078" style="fill: #ff00ff; stroke: #ff00ff"/>
     <use href="#mc009217a7a" x="724.511905" y="245.515831" style="fill: #ff00ff; stroke: #ff00ff"/>
     <use href="#mc009217a7a" x="761.550595" y="242.82232" style="fill: #ff00ff; stroke: #ff00ff"/>
    </g>
   </g>
   <g id="line2d_287">
    <defs>
     <path id="mad4ad47eb9" d="M -5 5 
L 5 5 
L 5 -5 
L -5 -5 
z
" style="stroke: #000000; stroke-width: 2"/>
    </defs>
    <g clip-path="url(#pa0471c43bc)">
     <use href="#mad4ad47eb9" x="573.61628" y="188.5848" style="fill-opacity: 0; stroke: #000000; stroke-width: 2"/>
     <use href="#mad4ad47eb9" x="581.024018" y="192.665877" style="fill-opacity: 0; stroke: #000000; stroke-width: 2"/>
     <use href="#mad4ad47eb9" x="595.839494" y="196.706144" style="fill-opacity: 0; stroke: #000000; stroke-width: 2"/>
     <use href="#mad4ad47eb9" x="618.062708" y="200.7056" style="fill-opacity: 0; stroke: #000000; stroke-width: 2"/>
     <use href="#mad4ad47eb9" x="625.470446" y="204.786677" style="fill-opacity: 0; stroke: #000000; stroke-width: 2"/>
     <use href="#mad4ad47eb9" x="640.285923" y="209.071809" style="fill-opacity: 0; stroke: #000000; stroke-width: 2"/>
    </g>
   </g>
   <g id="line2d_288">
    <defs>
     <path id="me4946af884" d="M 5 0 
L -5 -5 
L -5 5 
z
" style="stroke: #000000; stroke-width: 2"/>
    </defs>
    <g clip-path="url(#pa0471c43bc)">
     <use href="#me4946af884" x="551.393065" y="178.994268" style="fill-opacity: 0; stroke: #000000; stroke-width: 2"/>
     <use href="#me4946af884" x="558.800804" y="183.156967" style="fill-opacity: 0; stroke: #000000; stroke-width: 2"/>
     <use href="#me4946af884" x="566.208542" y="187.074801" style="fill-opacity: 0; stroke: #000000; stroke-width: 2"/>
     <use href="#me4946af884" x="573.61628" y="190.951825" style="fill-opacity: 0; stroke: #000000; stroke-width: 2"/>
     <use href="#me4946af884" x="581.024018" y="194.502362" style="fill-opacity: 0; stroke: #000000; stroke-width: 2"/>
     <use href="#me4946af884" x="588.431756" y="197.481549" style="fill-opacity: 0; stroke: #000000; stroke-width: 2"/>
     <use href="#me4946af884" x="603.247232" y="202.746139" style="fill-opacity: 0; stroke: #000000; stroke-width: 2"/>
     <use href="#me4946af884" x="610.65497" y="205.194785" style="fill-opacity: 0; stroke: #000000; stroke-width: 2"/>
     <use href="#me4946af884" x="625.470446" y="209.275863" style="fill-opacity: 0; stroke: #000000; stroke-width: 2"/>
     <use href="#me4946af884" x="640.285923" y="210.949104" style="fill-opacity: 0; stroke: #000000; stroke-width: 2"/>
     <use href="#me4946af884" x="655.101399" y="212.255049" style="fill-opacity: 0; stroke: #000000; stroke-width: 2"/>
     <use href="#me4946af884" x="669.916875" y="213.35694" style="fill-opacity: 0; stroke: #000000; stroke-width: 2"/>
     <use href="#me4946af884" x="684.732351" y="213.520183" style="fill-opacity: 0; stroke: #000000; stroke-width: 2"/>
     <use href="#me4946af884" x="699.547827" y="213.35694" style="fill-opacity: 0; stroke: #000000; stroke-width: 2"/>
     <use href="#me4946af884" x="714.363304" y="212.540725" style="fill-opacity: 0; stroke: #000000; stroke-width: 2"/>
     <use href="#me4946af884" x="729.17878" y="210.949104" style="fill-opacity: 0; stroke: #000000; stroke-width: 2"/>
    </g>
   </g>
   <g id="line2d_289">
    <defs>
     <path id="m63dcd7a592" d="M 5 0 
L -5 -5 
L -5 5 
z
" style="stroke: #ffa500; stroke-width: 2"/>
    </defs>
    <g clip-path="url(#pa0471c43bc)">
     <use href="#m63dcd7a592" x="551.393065" y="214.581263" style="fill-opacity: 0; stroke: #ffa500; stroke-width: 2"/>
     <use href="#m63dcd7a592" x="558.800804" y="215.805587" style="fill-opacity: 0; stroke: #ffa500; stroke-width: 2"/>
     <use href="#m63dcd7a592" x="566.208542" y="217.02991" style="fill-opacity: 0; stroke: #ffa500; stroke-width: 2"/>
     <use href="#m63dcd7a592" x="573.61628" y="218.254233" style="fill-opacity: 0; stroke: #ffa500; stroke-width: 2"/>
     <use href="#m63dcd7a592" x="581.024018" y="219.478556" style="fill-opacity: 0; stroke: #ffa500; stroke-width: 2"/>
     <use href="#m63dcd7a592" x="588.431756" y="220.70288" style="fill-opacity: 0; stroke: #ffa500; stroke-width: 2"/>
     <use href="#m63dcd7a592" x="603.247232" y="225.192065" style="fill-opacity: 0; stroke: #ffa500; stroke-width: 2"/>
     <use href="#m63dcd7a592" x="610.65497" y="226.416388" style="fill-opacity: 0; stroke: #ffa500; stroke-width: 2"/>
     <use href="#m63dcd7a592" x="625.470446" y="228.579359" style="fill-opacity: 0; stroke: #ffa500; stroke-width: 2"/>
     <use href="#m63dcd7a592" x="640.285923" y="229.844493" style="fill-opacity: 0; stroke: #ffa500; stroke-width: 2"/>
     <use href="#m63dcd7a592" x="655.101399" y="230.660709" style="fill-opacity: 0; stroke: #ffa500; stroke-width: 2"/>
     <use href="#m63dcd7a592" x="669.916875" y="231.517735" style="fill-opacity: 0; stroke: #ffa500; stroke-width: 2"/>
     <use href="#m63dcd7a592" x="684.732351" y="231.721789" style="fill-opacity: 0; stroke: #ffa500; stroke-width: 2"/>
     <use href="#m63dcd7a592" x="699.547827" y="231.313681" style="fill-opacity: 0; stroke: #ffa500; stroke-width: 2"/>
     <use href="#m63dcd7a592" x="714.363304" y="230.660709" style="fill-opacity: 0; stroke: #ffa500; stroke-width: 2"/>
     <use href="#m63dcd7a592" x="729.17878" y="229.273142" style="fill-opacity: 0; stroke: #ffa500; stroke-width: 2"/>
    </g>
   </g>
   <g id="line2d_290">
    <defs>
     <path id="m9b2f79ac97" d="M 5 0 
L -5 -5 
L -5 5 
z
" style="stroke: #ff00ff; stroke-width: 2"/>
    </defs>
    <g clip-path="url(#pa0471c43bc)">
     <use href="#m9b2f79ac97" x="551.393065" y="233.762327" style="fill-opacity: 0; stroke: #ff00ff; stroke-width: 2"/>
     <use href="#m9b2f79ac97" x="558.800804" y="234.578543" style="fill-opacity: 0; stroke: #ff00ff; stroke-width: 2"/>
     <use href="#m9b2f79ac97" x="566.208542" y="235.394758" style="fill-opacity: 0; stroke: #ff00ff; stroke-width: 2"/>
     <use href="#m9b2f79ac97" x="573.61628" y="236.210974" style="fill-opacity: 0; stroke: #ff00ff; stroke-width: 2"/>
     <use href="#m9b2f79ac97" x="581.024018" y="237.027189" style="fill-opacity: 0; stroke: #ff00ff; stroke-width: 2"/>
     <use href="#m9b2f79ac97" x="588.431756" y="237.843405" style="fill-opacity: 0; stroke: #ff00ff; stroke-width: 2"/>
     <use href="#m9b2f79ac97" x="603.247232" y="240.169619" style="fill-opacity: 0; stroke: #ff00ff; stroke-width: 2"/>
     <use href="#m9b2f79ac97" x="610.65497" y="240.985835" style="fill-opacity: 0; stroke: #ff00ff; stroke-width: 2"/>
     <use href="#m9b2f79ac97" x="625.470446" y="241.557186" style="fill-opacity: 0; stroke: #ff00ff; stroke-width: 2"/>
     <use href="#m9b2f79ac97" x="640.285923" y="242.781509" style="fill-opacity: 0; stroke: #ff00ff; stroke-width: 2"/>
     <use href="#m9b2f79ac97" x="655.101399" y="243.679346" style="fill-opacity: 0; stroke: #ff00ff; stroke-width: 2"/>
     <use href="#m9b2f79ac97" x="669.916875" y="243.556913" style="fill-opacity: 0; stroke: #ff00ff; stroke-width: 2"/>
     <use href="#m9b2f79ac97" x="684.732351" y="243.679346" style="fill-opacity: 0; stroke: #ff00ff; stroke-width: 2"/>
     <use href="#m9b2f79ac97" x="699.547827" y="243.230427" style="fill-opacity: 0; stroke: #ff00ff; stroke-width: 2"/>
     <use href="#m9b2f79ac97" x="714.363304" y="242.985563" style="fill-opacity: 0; stroke: #ff00ff; stroke-width: 2"/>
     <use href="#m9b2f79ac97" x="729.17878" y="242.33259" style="fill-opacity: 0; stroke: #ff00ff; stroke-width: 2"/>
    </g>
   </g>
   <g id="patch_6">
    <path d="M 457.833333 268.125 
L 457.833333 11.833333 
" style="fill: none; stroke: #000000; stroke-linejoin: miter; stroke-linecap: square"/>
   </g>
   <g id="patch_7">
    <path d="M 768.958333 268.125 
L 768.958333 11.833333 
" style="fill: none; stroke: #000000; stroke-linejoin: miter; stroke-linecap: square"/>
   </g>
   <g id="patch_8">
    <path d="M 457.833333 268.125 
L 768.958333 268.125 
" style="fill: none; stroke: #000000; stroke-linejoin: miter; stroke-linecap: square"/>
   </g>
   <g id="patch_9">
    <path d="M 457.833333 11.833333 
L 768.958333 11.833333 
" style="fill: none; stroke: #000000; stroke-linejoin: miter; stroke-linecap: square"/>
   </g>
   <g id="LineCollection_4">
    <path d="M 472.64881 181.851022 
L 472.64881 23.341972 
" clip-path="url(#pa0471c43bc)" style="fill: none; stroke: #000000; stroke-width: 1.5"/>
    <path d="M 487.464286 149.365645 
L 487.464286 55.500863 
" clip-path="url(#pa0471c43bc)" style="fill: none; stroke: #000000; stroke-width: 1.5"/>
    <path d="M 502.279762 164.710496 
L 502.279762 135.489981 
" clip-path="url(#pa0471c43bc)" style="fill: none; stroke: #000000; stroke-width: 1.5"/>
    <path d="M 517.095238 165.894009 
L 517.095238 147.937268 
" clip-path="url(#pa0471c43bc)" style="fill: none; stroke: #000000; stroke-width: 1.5"/>
    <path d="M 531.910714 176.137513 
L 531.910714 154.262938 
" clip-path="url(#pa0471c43bc)" style="fill: none; stroke: #000000; stroke-width: 1.5"/>
    <path d="M 546.72619 197.03263 
L 546.72619 179.892105 
" clip-path="url(#pa0471c43bc)" style="fill: none; stroke: #000000; stroke-width: 1.5"/>
    <path d="M 561.541667 205.194785 
L 561.541667 161.445634 
" clip-path="url(#pa0471c43bc)" style="fill: none; stroke: #000000; stroke-width: 1.5"/>
    <path d="M 576.357143 202.256409 
L 576.357143 183.483453 
" clip-path="url(#pa0471c43bc)" style="fill: none; stroke: #000000; stroke-width: 1.5"/>
    <path d="M 591.172619 213.275318 
L 591.172619 201.032086 
" clip-path="url(#pa0471c43bc)" style="fill: none; stroke: #000000; stroke-width: 1.5"/>
    <path d="M 620.803571 211.398023 
L 620.803571 199.15479 
" clip-path="url(#pa0471c43bc)" style="fill: none; stroke: #000000; stroke-width: 1.5"/>
    <path d="M 650.434524 223.437201 
L 650.434524 185.156695 
" clip-path="url(#pa0471c43bc)" style="fill: none; stroke: #000000; stroke-width: 1.5"/>
    <path d="M 687.473214 226.742874 
L 687.473214 203.235868 
" clip-path="url(#pa0471c43bc)" style="fill: none; stroke: #000000; stroke-width: 1.5"/>
    <path d="M 724.511905 224.171795 
L 724.511905 200.338303 
" clip-path="url(#pa0471c43bc)" style="fill: none; stroke: #000000; stroke-width: 1.5"/>
   </g>
   <g id="LineCollection_5">
    <path d="M 472.64881 247.719613 
L 472.64881 221.76396 
" clip-path="url(#pa0471c43bc)" style="fill: none; stroke: #ffa500; stroke-width: 1.5"/>
    <path d="M 487.464286 220.131529 
L 487.464286 198.256953 
" clip-path="url(#pa0471c43bc)" style="fill: none; stroke: #ffa500; stroke-width: 1.5"/>
    <path d="M 502.279762 230.579087 
L 502.279762 201.440194 
" clip-path="url(#pa0471c43bc)" style="fill: none; stroke: #ffa500; stroke-width: 1.5"/>
    <path d="M 517.095238 211.642887 
L 517.095238 205.113163 
" clip-path="url(#pa0471c43bc)" style="fill: none; stroke: #ffa500; stroke-width: 1.5"/>
    <path d="M 531.910714 237.231243 
L 531.910714 194.788037 
" clip-path="url(#pa0471c43bc)" style="fill: none; stroke: #ffa500; stroke-width: 1.5"/>
    <path d="M 546.72619 226.906117 
L 546.72619 213.030454 
" clip-path="url(#pa0471c43bc)" style="fill: none; stroke: #ffa500; stroke-width: 1.5"/>
    <path d="M 561.541667 230.252601 
L 561.541667 209.68397 
" clip-path="url(#pa0471c43bc)" style="fill: none; stroke: #ffa500; stroke-width: 1.5"/>
    <path d="M 576.357143 228.008008 
L 576.357143 210.540997 
" clip-path="url(#pa0471c43bc)" style="fill: none; stroke: #ffa500; stroke-width: 1.5"/>
    <path d="M 591.172619 236.210974 
L 591.172619 211.724509 
" clip-path="url(#pa0471c43bc)" style="fill: none; stroke: #ffa500; stroke-width: 1.5"/>
    <path d="M 620.803571 244.291507 
L 620.803571 227.967197 
" clip-path="url(#pa0471c43bc)" style="fill: none; stroke: #ffa500; stroke-width: 1.5"/>
    <path d="M 650.434524 241.312321 
L 650.434524 221.723149 
" clip-path="url(#pa0471c43bc)" style="fill: none; stroke: #ffa500; stroke-width: 1.5"/>
    <path d="M 687.473214 244.536372 
L 687.473214 215.152614 
" clip-path="url(#pa0471c43bc)" style="fill: none; stroke: #ffa500; stroke-width: 1.5"/>
    <path d="M 724.511905 243.801778 
L 724.511905 224.212606 
" clip-path="url(#pa0471c43bc)" style="fill: none; stroke: #ffa500; stroke-width: 1.5"/>
    <path d="M 761.550595 235.190705 
L 761.550595 217.233964 
" clip-path="url(#pa0471c43bc)" style="fill: none; stroke: #ffa500; stroke-width: 1.5"/>
   </g>
   <g id="LineCollection_6">
    <path d="M 487.464286 244.740426 
L 487.464286 230.456655 
" clip-path="url(#pa0471c43bc)" style="fill: none; stroke: #ff00ff; stroke-width: 1.5"/>
    <path d="M 502.279762 240.74097 
L 502.279762 219.111259 
" clip-path="url(#pa0471c43bc)" style="fill: none; stroke: #ff00ff; stroke-width: 1.5"/>
    <path d="M 517.095238 248.005288 
L 517.095238 228.008008 
" clip-path="url(#pa0471c43bc)" style="fill: none; stroke: #ff00ff; stroke-width: 1.5"/>
    <path d="M 531.910714 241.108267 
L 531.910714 232.946112 
" clip-path="url(#pa0471c43bc)" style="fill: none; stroke: #ff00ff; stroke-width: 1.5"/>
    <path d="M 546.72619 243.312049 
L 546.72619 233.517463 
" clip-path="url(#pa0471c43bc)" style="fill: none; stroke: #ff00ff; stroke-width: 1.5"/>
    <path d="M 561.541667 248.08691 
L 561.541667 233.88476 
" clip-path="url(#pa0471c43bc)" style="fill: none; stroke: #ff00ff; stroke-width: 1.5"/>
    <path d="M 576.357143 250.005016 
L 576.357143 234.170435 
" clip-path="url(#pa0471c43bc)" style="fill: none; stroke: #ff00ff; stroke-width: 1.5"/>
    <path d="M 591.172619 251.596636 
L 591.172619 231.191249 
" clip-path="url(#pa0471c43bc)" style="fill: none; stroke: #ff00ff; stroke-width: 1.5"/>
    <path d="M 620.803571 255.187984 
L 620.803571 232.170707 
" clip-path="url(#pa0471c43bc)" style="fill: none; stroke: #ff00ff; stroke-width: 1.5"/>
    <path d="M 650.434524 256.779605 
L 650.434524 234.741786 
" clip-path="url(#pa0471c43bc)" style="fill: none; stroke: #ff00ff; stroke-width: 1.5"/>
    <path d="M 687.473214 252.004744 
L 687.473214 230.293412 
" clip-path="url(#pa0471c43bc)" style="fill: none; stroke: #ff00ff; stroke-width: 1.5"/>
    <path d="M 724.511905 255.310417 
L 724.511905 235.721245 
" clip-path="url(#pa0471c43bc)" style="fill: none; stroke: #ff00ff; stroke-width: 1.5"/>
    <path d="M 761.550595 252.208798 
L 761.550595 233.435841 
" clip-path="url(#pa0471c43bc)" style="fill: none; stroke: #ff00ff; stroke-width: 1.5"/>
   </g>
   <g id="line2d_291">
    <path d="M 472.64881 101.710988 
L 474.964656 103.920214 
L 477.280501 106.429408 
L 480.175309 109.892752 
L 484.228039 115.133358 
L 493.491423 127.258079 
L 499.281038 134.38897 
L 505.649615 141.896321 
L 512.018191 149.092146 
L 517.807806 155.302716 
L 523.01846 160.565894 
L 527.650151 164.944126 
L 532.281843 169.004476 
L 536.334574 172.27136 
L 540.387304 175.274319 
L 545.018996 178.414326 
L 549.650688 181.27855 
L 554.861342 184.217443 
L 560.071995 186.907279 
L 566.440572 189.927396 
L 572.809148 192.685661 
L 579.177724 195.193946 
L 585.546301 197.463946 
L 591.914877 199.507359 
L 598.862415 201.491857 
L 605.809953 203.235802 
L 612.757491 204.754377 
L 620.283991 206.16279 
L 627.81049 207.343835 
L 635.915951 208.383599 
L 644.600373 209.257257 
L 653.863757 209.947764 
L 663.706103 210.447839 
L 674.706371 210.774035 
L 687.443524 210.921478 
L 705.39133 210.883081 
L 733.760444 210.820692 
L 746.497596 211.025351 
L 757.497865 211.420822 
L 761.550595 211.630417 
L 761.550595 211.630417 
" clip-path="url(#pa0471c43bc)" style="fill: none; stroke-dasharray: 5.55,2.4; stroke-dashoffset: 0; stroke: #000000; stroke-width: 1.7"/>
   </g>
   <g id="line2d_292">
    <path d="M 472.64881 222.957051 
L 478.438424 221.430551 
L 484.228039 220.12227 
L 490.596616 218.923745 
L 496.965192 217.964871 
L 503.333769 217.23287 
L 509.702345 216.714963 
L 516.649883 216.379132 
L 523.597421 216.266294 
L 531.12392 216.376455 
L 538.65042 216.707761 
L 546.755881 217.287676 
L 555.440303 218.136551 
L 564.703687 219.265747 
L 575.124994 220.764165 
L 587.283185 222.745458 
L 603.494107 225.630654 
L 635.336989 231.348453 
L 647.495181 233.283666 
L 657.916488 234.727775 
L 667.179872 235.797219 
L 675.864294 236.580265 
L 683.969755 237.090174 
L 691.496254 237.349069 
L 699.022754 237.379687 
L 705.970292 237.187095 
L 712.91783 236.765434 
L 719.286406 236.163511 
L 725.654983 235.342388 
L 732.023559 234.289286 
L 737.813174 233.119865 
L 743.602789 231.738566 
L 749.392404 230.135787 
L 755.182019 228.30193 
L 760.971634 226.227392 
L 761.550595 226.006332 
L 761.550595 226.006332 
" clip-path="url(#pa0471c43bc)" style="fill: none; stroke-dasharray: 5.55,2.4; stroke-dashoffset: 0; stroke: #ffa500; stroke-width: 1.7"/>
   </g>
   <g id="line2d_293">
    <path d="M 487.464286 234.305731 
L 517.6742 236.800876 
L 544.588486 238.808778 
L 569.85496 240.471442 
L 593.47362 241.80046 
L 615.444466 242.81662 
L 636.31677 243.56471 
L 656.639803 244.071255 
L 675.864294 244.332923 
L 694.539514 244.370261 
L 712.665462 244.189088 
L 730.242139 243.79697 
L 747.818816 243.180263 
L 761.550595 242.534859 
L 761.550595 242.534859 
" clip-path="url(#pa0471c43bc)" style="fill: none; stroke-dasharray: 5.55,2.4; stroke-dashoffset: 0; stroke: #ff00ff; stroke-width: 1.7"/>
   </g>
  </g>
  <g id="axes_3">
   <g id="matplotlib.axis_5">
    <g id="xtick_87">
     <g id="line2d_294">
      <g>
       <use href="#me1ed62e7b0" x="80.398438" y="589.583333" style="stroke: #000000"/>
      </g>
     </g>
     <g id="line2d_295">
      <g>
       <use href="#m8548808949" x="80.398438" y="339.333333" style="stroke: #000000"/>
      </g>
     </g>
     <g id="text_30">
      <text style="font-size: 15.872px; font-family: 'DejaVu Sans', 'Liberation Sans', sans-serif; text-anchor: middle" x="80.398438" y="605.143573">175</text>
     </g>
    </g>
    <g id="xtick_88">
     <g id="line2d_296">
      <g>
       <use href="#me1ed62e7b0" x="127.807292" y="589.583333" style="stroke: #000000"/>
      </g>
     </g>
     <g id="line2d_297">
      <g>
       <use href="#m8548808949" x="127.807292" y="339.333333" style="stroke: #000000"/>
      </g>
     </g>
     <g id="text_31">
      <text style="font-size: 15.872px; font-family: 'DejaVu Sans', 'Liberation Sans', sans-serif; text-anchor: middle" x="127.807292" y="605.143573">200</text>
     </g>
    </g>
    <g id="xtick_89">
     <g id="line2d_298">
      <g>
       <use href="#me1ed62e7b0" x="175.216146" y="589.583333" style="stroke: #000000"/>
      </g>
     </g>
     <g id="line2d_299">
      <g>
       <use href="#m8548808949" x="175.216146" y="339.333333" style="stroke: #000000"/>
      </g>
     </g>
     <g id="text_32">
      <text style="font-size: 15.872px; font-family: 'DejaVu Sans', 'Liberation Sans', sans-serif; text-anchor: middle" x="175.216146" y="605.143573">225</text>
     </g>
    </g>
    <g id="xtick_90">
     <g id="line2d_300">
      <g>
       <use href="#me1ed62e7b0" x="222.625" y="589.583333" style="stroke: #000000"/>
      </g>
     </g>
     <g id="line2d_301">
      <g>
       <use href="#m8548808949" x="222.625" y="339.333333" style="stroke: #000000"/>
      </g>
     </g>
     <g id="text_33">
      <text style="font-size: 15.872px; font-family: 'DejaVu Sans', 'Liberation Sans', sans-serif; text-anchor: middle" x="222.625" y="605.143573">250</text>
     </g>
    </g>
    <g id="xtick_91">
     <g id="line2d_302">
      <g>
       <use href="#me1ed62e7b0" x="270.033854" y="589.583333" style="stroke: #000000"/>
      </g>
     </g>
     <g id="line2d_303">
      <g>
       <use href="#m8548808949" x="270.033854" y="339.333333" style="stroke: #000000"/>
      </g>
     </g>
     <g id="text_34">
      <text style="font-size: 15.872px; font-family: 'DejaVu Sans', 'Liberation Sans', sans-serif; text-anchor: middle" x="270.033854" y="605.143573">275</text>
     </g>
    </g>
    <g id="xtick_92">
     <g id="line2d_304">
      <g>
       <use href="#me1ed62e7b0" x="317.442708" y="589.583333" style="stroke: #000000"/>
      </g>
     </g>
     <g id="line2d_305">
      <g>
       <use href="#m8548808949" x="317.442708" y="339.333333" style="stroke: #000000"/>
      </g>
     </g>
     <g id="text_35">
      <text style="font-size: 15.872px; font-family: 'DejaVu Sans', 'Liberation Sans', sans-serif; text-anchor: middle" x="317.442708" y="605.143573">300</text>
     </g>
    </g>
    <g id="xtick_93">
     <g id="line2d_306">
      <g>
       <use href="#me1ed62e7b0" x="364.851563" y="589.583333" style="stroke: #000000"/>
      </g>
     </g>
     <g id="line2d_307">
      <g>
       <use href="#m8548808949" x="364.851563" y="339.333333" style="stroke: #000000"/>
      </g>
     </g>
     <g id="text_36">
      <text style="font-size: 15.872px; font-family: 'DejaVu Sans', 'Liberation Sans', sans-serif; text-anchor: middle" x="364.851563" y="605.143573">325</text>
     </g>
    </g>
    <g id="xtick_94">
     <g id="line2d_308">
      <g>
       <use href="#m3778f43bfe" x="70.916667" y="589.583333" style="stroke: #000000"/>
      </g>
     </g>
     <g id="line2d_309">
      <g>
       <use href="#m2444ff35b4" x="70.916667" y="339.333333" style="stroke: #000000"/>
      </g>
     </g>
    </g>
    <g id="xtick_95">
     <g id="line2d_310">
      <g>
       <use href="#m3778f43bfe" x="89.880208" y="589.583333" style="stroke: #000000"/>
      </g>
     </g>
     <g id="line2d_311">
      <g>
       <use href="#m2444ff35b4" x="89.880208" y="339.333333" style="stroke: #000000"/>
      </g>
     </g>
    </g>
    <g id="xtick_96">
     <g id="line2d_312">
      <g>
       <use href="#m3778f43bfe" x="99.361979" y="589.583333" style="stroke: #000000"/>
      </g>
     </g>
     <g id="line2d_313">
      <g>
       <use href="#m2444ff35b4" x="99.361979" y="339.333333" style="stroke: #000000"/>
      </g>
     </g>
    </g>
    <g id="xtick_97">
     <g id="line2d_314">
      <g>
       <use href="#m3778f43bfe" x="108.84375" y="589.583333" style="stroke: #000000"/>
      </g>
     </g>
     <g id="line2d_315">
      <g>
       <use href="#m2444ff35b4" x="108.84375" y="339.333333" style="stroke: #000000"/>
      </g>
     </g>
    </g>
    <g id="xtick_98">
     <g id="line2d_316">
      <g>
       <use href="#m3778f43bfe" x="118.325521" y="589.583333" style="stroke: #000000"/>
      </g>
     </g>
     <g id="line2d_317">
      <g>
       <use href="#m2444ff35b4" x="118.325521" y="339.333333" style="stroke: #000000"/>
      </g>
     </g>
    </g>
    <g id="xtick_99">
     <g id="line2d_318">
      <g>
       <use href="#m3778f43bfe" x="137.289062" y="589.583333" style="stroke: #000000"/>
      </g>
     </g>
     <g id="line2d_319">
      <g>
       <use href="#m2444ff35b4" x="137.289062" y="339.333333" style="stroke: #000000"/>
      </g>
     </g>
    </g>
    <g id="xtick_100">
     <g id="line2d_320">
      <g>
       <use href="#m3778f43bfe" x="146.770833" y="589.583333" style="stroke: #000000"/>
      </g>
     </g>
     <g id="line2d_321">
      <g>
       <use href="#m2444ff35b4" x="146.770833" y="339.333333" style="stroke: #000000"/>
      </g>
     </g>
    </g>
    <g id="xtick_101">
     <g id="line2d_322">
      <g>
       <use href="#m3778f43bfe" x="156.252604" y="589.583333" style="stroke: #000000"/>
      </g>
     </g>
     <g id="line2d_323">
      <g>
       <use href="#m2444ff35b4" x="156.252604" y="339.333333" style="stroke: #000000"/>
      </g>
     </g>
    </g>
    <g id="xtick_102">
     <g id="line2d_324">
      <g>
       <use href="#m3778f43bfe" x="165.734375" y="589.583333" style="stroke: #000000"/>
      </g>
     </g>
     <g id="line2d_325">
      <g>
       <use href="#m2444ff35b4" x="165.734375" y="339.333333" style="stroke: #000000"/>
      </g>
     </g>
    </g>
    <g id="xtick_103">
     <g id="line2d_326">
      <g>
       <use href="#m3778f43bfe" x="184.697917" y="589.583333" style="stroke: #000000"/>
      </g>
     </g>
     <g id="line2d_327">
      <g>
       <use href="#m2444ff35b4" x="184.697917" y="339.333333" style="stroke: #000000"/>
      </g>
     </g>
    </g>
    <g id="xtick_104">
     <g id="line2d_328">
      <g>
       <use href="#m3778f43bfe" x="194.179688" y="589.583333" style="stroke: #000000"/>
      </g>
     </g>
     <g id="line2d_329">
      <g>
       <use href="#m2444ff35b4" x="194.179688" y="339.333333" style="stroke: #000000"/>
      </g>
     </g>
    </g>
    <g id="xtick_105">
     <g id="line2d_330">
      <g>
       <use href="#m3778f43bfe" x="203.661458" y="589.583333" style="stroke: #000000"/>
      </g>
     </g>
     <g id="line2d_331">
      <g>
       <use href="#m2444ff35b4" x="203.661458" y="339.333333" style="stroke: #000000"/>
      </g>
     </g>
    </g>
    <g id="xtick_106">
     <g id="line2d_332">
      <g>
       <use href="#m3778f43bfe" x="213.143229" y="589.583333" style="stroke: #000000"/>
      </g>
     </g>
     <g id="line2d_333">
      <g>
       <use href="#m2444ff35b4" x="213.143229" y="339.333333" style="stroke: #000000"/>
      </g>
     </g>
    </g>
    <g id="xtick_107">
     <g id="line2d_334">
      <g>
       <use href="#m3778f43bfe" x="232.106771" y="589.583333" style="stroke: #000000"/>
      </g>
     </g>
     <g id="line2d_335">
      <g>
       <use href="#m2444ff35b4" x="232.106771" y="339.333333" style="stroke: #000000"/>
      </g>
     </g>
    </g>
    <g id="xtick_108">
     <g id="line2d_336">
      <g>
       <use href="#m3778f43bfe" x="241.588542" y="589.583333" style="stroke: #000000"/>
      </g>
     </g>
     <g id="line2d_337">
      <g>
       <use href="#m2444ff35b4" x="241.588542" y="339.333333" style="stroke: #000000"/>
      </g>
     </g>
    </g>
    <g id="xtick_109">
     <g id="line2d_338">
      <g>
       <use href="#m3778f43bfe" x="251.070312" y="589.583333" style="stroke: #000000"/>
      </g>
     </g>
     <g id="line2d_339">
      <g>
       <use href="#m2444ff35b4" x="251.070312" y="339.333333" style="stroke: #000000"/>
      </g>
     </g>
    </g>
    <g id="xtick_110">
     <g id="line2d_340">
      <g>
       <use href="#m3778f43bfe" x="260.552083" y="589.583333" style="stroke: #000000"/>
      </g>
     </g>
     <g id="line2d_341">
      <g>
       <use href="#m2444ff35b4" x="260.552083" y="339.333333" style="stroke: #000000"/>
      </g>
     </g>
    </g>
    <g id="xtick_111">
     <g id="line2d_342">
      <g>
       <use href="#m3778f43bfe" x="279.515625" y="589.583333" style="stroke: #000000"/>
      </g>
     </g>
     <g id="line2d_343">
      <g>
       <use href="#m2444ff35b4" x="279.515625" y="339.333333" style="stroke: #000000"/>
      </g>
     </g>
    </g>
    <g id="xtick_112">
     <g id="line2d_344">
      <g>
       <use href="#m3778f43bfe" x="288.997396" y="589.583333" style="stroke: #000000"/>
      </g>
     </g>
     <g id="line2d_345">
      <g>
       <use href="#m2444ff35b4" x="288.997396" y="339.333333" style="stroke: #000000"/>
      </g>
     </g>
    </g>
    <g id="xtick_113">
     <g id="line2d_346">
      <g>
       <use href="#m3778f43bfe" x="298.479167" y="589.583333" style="stroke: #000000"/>
      </g>
     </g>
     <g id="line2d_347">
      <g>
       <use href="#m2444ff35b4" x="298.479167" y="339.333333" style="stroke: #000000"/>
      </g>
     </g>
    </g>
    <g id="xtick_114">
     <g id="line2d_348">
      <g>
       <use href="#m3778f43bfe" x="307.960938" y="589.583333" style="stroke: #000000"/>
      </g>
     </g>
     <g id="line2d_349">
      <g>
       <use href="#m2444ff35b4" x="307.960938" y="339.333333" style="stroke: #000000"/>
      </g>
     </g>
    </g>
    <g id="xtick_115">
     <g id="line2d_350">
      <g>
       <use href="#m3778f43bfe" x="326.924479" y="589.583333" style="stroke: #000000"/>
      </g>
     </g>
     <g id="line2d_351">
      <g>
       <use href="#m2444ff35b4" x="326.924479" y="339.333333" style="stroke: #000000"/>
      </g>
     </g>
    </g>
    <g id="xtick_116">
     <g id="line2d_352">
      <g>
       <use href="#m3778f43bfe" x="336.40625" y="589.583333" style="stroke: #000000"/>
      </g>
     </g>
     <g id="line2d_353">
      <g>
       <use href="#m2444ff35b4" x="336.40625" y="339.333333" style="stroke: #000000"/>
      </g>
     </g>
    </g>
    <g id="xtick_117">
     <g id="line2d_354">
      <g>
       <use href="#m3778f43bfe" x="345.888021" y="589.583333" style="stroke: #000000"/>
      </g>
     </g>
     <g id="line2d_355">
      <g>
       <use href="#m2444ff35b4" x="345.888021" y="339.333333" style="stroke: #000000"/>
      </g>
     </g>
    </g>
    <g id="xtick_118">
     <g id="line2d_356">
      <g>
       <use href="#m3778f43bfe" x="355.369792" y="589.583333" style="stroke: #000000"/>
      </g>
     </g>
     <g id="line2d_357">
      <g>
       <use href="#m2444ff35b4" x="355.369792" y="339.333333" style="stroke: #000000"/>
      </g>
     </g>
    </g>
    <g id="xtick_119">
     <g id="line2d_358">
      <g>
       <use href="#m3778f43bfe" x="374.333333" y="589.583333" style="stroke: #000000"/>
      </g>
     </g>
     <g id="line2d_359">
      <g>
       <use href="#m2444ff35b4" x="374.333333" y="339.333333" style="stroke: #000000"/>
      </g>
     </g>
    </g>
   </g>
   <g id="matplotlib.axis_6">
    <g id="ytick_52">
     <g id="line2d_360">
      <g>
       <use href="#m54b7029aaa" x="70.916667" y="589.583333" style="stroke: #000000"/>
      </g>
     </g>
     <g id="line2d_361">
      <g>
       <use href="#m9e44f33b49" x="374.333333" y="589.583333" style="stroke: #000000"/>
      </g>
     </g>
     <g id="text_37">
      <text style="font-size: 15.872px; font-family: 'DejaVu Sans', 'Liberation Sans', sans-serif; text-anchor: end" x="67.416667" y="595.613453">0</text>
     </g>
    </g>
    <g id="ytick_53">
     <g id="line2d_362">
      <g>
       <use href="#m54b7029aaa" x="70.916667" y="553.833333" style="stroke: #000000"/>
      </g>
     </g>
     <g id="line2d_363">
      <g>
       <use href="#m9e44f33b49" x="374.333333" y="553.833333" style="stroke: #000000"/>
      </g>
     </g>
     <g id="text_38">
      <text style="font-size: 15.872px; font-family: 'DejaVu Sans', 'Liberation Sans', sans-serif; text-anchor: end" x="67.416667" y="559.863453">50</text>
     </g>
    </g>
    <g id="ytick_54">
     <g id="line2d_364">
      <g>
       <use href="#m54b7029aaa" x="70.916667" y="518.083333" style="stroke: #000000"/>
      </g>
     </g>
     <g id="line2d_365">
      <g>
       <use href="#m9e44f33b49" x="374.333333" y="518.083333" style="stroke: #000000"/>
      </g>
     </g>
     <g id="text_39">
      <text style="font-size: 15.872px; font-family: 'DejaVu Sans', 'Liberation Sans', sans-serif; text-anchor: end" x="67.416667" y="524.113453">100</text>
     </g>
    </g>
    <g id="ytick_55">
     <g id="line2d_366">
      <g>
       <use href="#m54b7029aaa" x="70.916667" y="482.333333" style="stroke: #000000"/>
      </g>
     </g>
     <g id="line2d_367">
      <g>
       <use href="#m9e44f33b49" x="374.333333" y="482.333333" style="stroke: #000000"/>
      </g>
     </g>
     <g id="text_40">
      <text style="font-size: 15.872px; font-family: 'DejaVu Sans', 'Liberation Sans', sans-serif; text-anchor: end" x="67.416667" y="488.363453">150</text>
     </g>
    </g>
    <g id="ytick_56">
     <g id="line2d_368">
      <g>
       <use href="#m54b7029aaa" x="70.916667" y="446.583333" style="stroke: #000000"/>
      </g>
     </g>
     <g id="line2d_369">
      <g>
       <use href="#m9e44f33b49" x="374.333333" y="446.583333" style="stroke: #000000"/>
      </g>
     </g>
     <g id="text_41">
      <text style="font-size: 15.872px; font-family: 'DejaVu Sans', 'Liberation Sans', sans-serif; text-anchor: end" x="67.416667" y="452.613453">200</text>
     </g>
    </g>
    <g id="ytick_57">
     <g id="line2d_370">
      <g>
       <use href="#m54b7029aaa" x="70.916667" y="410.833333" style="stroke: #000000"/>
      </g>
     </g>
     <g id="line2d_371">
      <g>
       <use href="#m9e44f33b49" x="374.333333" y="410.833333" style="stroke: #000000"/>
      </g>
     </g>
     <g id="text_42">
      <text style="font-size: 15.872px; font-family: 'DejaVu Sans', 'Liberation Sans', sans-serif; text-anchor: end" x="67.416667" y="416.863453">250</text>
     </g>
    </g>
    <g id="ytick_58">
     <g id="line2d_372">
      <g>
       <use href="#m54b7029aaa" x="70.916667" y="375.083333" style="stroke: #000000"/>
      </g>
     </g>
     <g id="line2d_373">
      <g>
       <use href="#m9e44f33b49" x="374.333333" y="375.083333" style="stroke: #000000"/>
      </g>
     </g>
     <g id="text_43">
      <text style="font-size: 15.872px; font-family: 'DejaVu Sans', 'Liberation Sans', sans-serif; text-anchor: end" x="67.416667" y="381.113453">300</text>
     </g>
    </g>
    <g id="ytick_59">
     <g id="line2d_374">
      <g>
       <use href="#m54b7029aaa" x="70.916667" y="339.333333" style="stroke: #000000"/>
      </g>
     </g>
     <g id="line2d_375">
      <g>
       <use href="#m9e44f33b49" x="374.333333" y="339.333333" style="stroke: #000000"/>
      </g>
     </g>
     <g id="text_44">
      <text style="font-size: 15.872px; font-family: 'DejaVu Sans', 'Liberation Sans', sans-serif; text-anchor: end" x="67.416667" y="345.363453">350</text>
     </g>
    </g>
    <g id="ytick_60">
     <g id="line2d_376">
      <g>
       <use href="#me99788c269" x="70.916667" y="582.433333" style="stroke: #000000"/>
      </g>
     </g>
     <g id="line2d_377">
      <g>
       <use href="#m71ee6960a1" x="374.333333" y="582.433333" style="stroke: #000000"/>
      </g>
     </g>
    </g>
    <g id="ytick_61">
     <g id="line2d_378">
      <g>
       <use href="#me99788c269" x="70.916667" y="575.283333" style="stroke: #000000"/>
      </g>
     </g>
     <g id="line2d_379">
      <g>
       <use href="#m71ee6960a1" x="374.333333" y="575.283333" style="stroke: #000000"/>
      </g>
     </g>
    </g>
    <g id="ytick_62">
     <g id="line2d_380">
      <g>
       <use href="#me99788c269" x="70.916667" y="568.133333" style="stroke: #000000"/>
      </g>
     </g>
     <g id="line2d_381">
      <g>
       <use href="#m71ee6960a1" x="374.333333" y="568.133333" style="stroke: #000000"/>
      </g>
     </g>
    </g>
    <g id="ytick_63">
     <g id="line2d_382">
      <g>
       <use href="#me99788c269" x="70.916667" y="560.983333" style="stroke: #000000"/>
      </g>
     </g>
     <g id="line2d_383">
      <g>
       <use href="#m71ee6960a1" x="374.333333" y="560.983333" style="stroke: #000000"/>
      </g>
     </g>
    </g>
    <g id="ytick_64">
     <g id="line2d_384">
      <g>
       <use href="#me99788c269" x="70.916667" y="546.683333" style="stroke: #000000"/>
      </g>
     </g>
     <g id="line2d_385">
      <g>
       <use href="#m71ee6960a1" x="374.333333" y="546.683333" style="stroke: #000000"/>
      </g>
     </g>
    </g>
    <g id="ytick_65">
     <g id="line2d_386">
      <g>
       <use href="#me99788c269" x="70.916667" y="539.533333" style="stroke: #000000"/>
      </g>
     </g>
     <g id="line2d_387">
      <g>
       <use href="#m71ee6960a1" x="374.333333" y="539.533333" style="stroke: #000000"/>
      </g>
     </g>
    </g>
    <g id="ytick_66">
     <g id="line2d_388">
      <g>
       <use href="#me99788c269" x="70.916667" y="532.383333" style="stroke: #000000"/>
      </g>
     </g>
     <g id="line2d_389">
      <g>
       <use href="#m71ee6960a1" x="374.333333" y="532.383333" style="stroke: #000000"/>
      </g>
     </g>
    </g>
    <g id="ytick_67">
     <g id="line2d_390">
      <g>
       <use href="#me99788c269" x="70.916667" y="525.233333" style="stroke: #000000"/>
      </g>
     </g>
     <g id="line2d_391">
      <g>
       <use href="#m71ee6960a1" x="374.333333" y="525.233333" style="stroke: #000000"/>
      </g>
     </g>
    </g>
    <g id="ytick_68">
     <g id="line2d_392">
      <g>
       <use href="#me99788c269" x="70.916667" y="510.933333" style="stroke: #000000"/>
      </g>
     </g>
     <g id="line2d_393">
      <g>
       <use href="#m71ee6960a1" x="374.333333" y="510.933333" style="stroke: #000000"/>
      </g>
     </g>
    </g>
    <g id="ytick_69">
     <g id="line2d_394">
      <g>
       <use href="#me99788c269" x="70.916667" y="503.783333" style="stroke: #000000"/>
      </g>
     </g>
     <g id="line2d_395">
      <g>
       <use href="#m71ee6960a1" x="374.333333" y="503.783333" style="stroke: #000000"/>
      </g>
     </g>
    </g>
    <g id="ytick_70">
     <g id="line2d_396">
      <g>
       <use href="#me99788c269" x="70.916667" y="496.633333" style="stroke: #000000"/>
      </g>
     </g>
     <g id="line2d_397">
      <g>
       <use href="#m71ee6960a1" x="374.333333" y="496.633333" style="stroke: #000000"/>
      </g>
     </g>
    </g>
    <g id="ytick_71">
     <g id="line2d_398">
      <g>
       <use href="#me99788c269" x="70.916667" y="489.483333" style="stroke: #000000"/>
      </g>
     </g>
     <g id="line2d_399">
      <g>
       <use href="#m71ee6960a1" x="374.333333" y="489.483333" style="stroke: #000000"/>
      </g>
     </g>
    </g>
    <g id="ytick_72">
     <g id="line2d_400">
      <g>
       <use href="#me99788c269" x="70.916667" y="475.183333" style="stroke: #000000"/>
      </g>
     </g>
     <g id="line2d_401">
      <g>
       <use href="#m71ee6960a1" x="374.333333" y="475.183333" style="stroke: #000000"/>
      </g>
     </g>
    </g>
    <g id="ytick_73">
     <g id="line2d_402">
      <g>
       <use href="#me99788c269" x="70.916667" y="468.033333" style="stroke: #000000"/>
      </g>
     </g>
     <g id="line2d_403">
      <g>
       <use href="#m71ee6960a1" x="374.333333" y="468.033333" style="stroke: #000000"/>
      </g>
     </g>
    </g>
    <g id="ytick_74">
     <g id="line2d_404">
      <g>
       <use href="#me99788c269" x="70.916667" y="460.883333" style="stroke: #000000"/>
      </g>
     </g>
     <g id="line2d_405">
      <g>
       <use href="#m71ee6960a1" x="374.333333" y="460.883333" style="stroke: #000000"/>
      </g>
     </g>
    </g>
    <g id="ytick_75">
     <g id="line2d_406">
      <g>
       <use href="#me99788c269" x="70.916667" y="453.733333" style="stroke: #000000"/>
      </g>
     </g>
     <g id="line2d_407">
      <g>
       <use href="#m71ee6960a1" x="374.333333" y="453.733333" style="stroke: #000000"/>
      </g>
     </g>
    </g>
    <g id="ytick_76">
     <g id="line2d_408">
      <g>
       <use href="#me99788c269" x="70.916667" y="439.433333" style="stroke: #000000"/>
      </g>
     </g>
     <g id="line2d_409">
      <g>
       <use href="#m71ee6960a1" x="374.333333" y="439.433333" style="stroke: #000000"/>
      </g>
     </g>
    </g>
    <g id="ytick_77">
     <g id="line2d_410">
      <g>
       <use href="#me99788c269" x="70.916667" y="432.283333" style="stroke: #000000"/>
      </g>
     </g>
     <g id="line2d_411">
      <g>
       <use href="#m71ee6960a1" x="374.333333" y="432.283333" style="stroke: #000000"/>
      </g>
     </g>
    </g>
    <g id="ytick_78">
     <g id="line2d_412">
      <g>
       <use href="#me99788c269" x="70.916667" y="425.133333" style="stroke: #000000"/>
      </g>
     </g>
     <g id="line2d_413">
      <g>
       <use href="#m71ee6960a1" x="374.333333" y="425.133333" style="stroke: #000000"/>
      </g>
     </g>
    </g>
    <g id="ytick_79">
     <g id="line2d_414">
      <g>
       <use href="#me99788c269" x="70.916667" y="417.983333" style="stroke: #000000"/>
      </g>
     </g>
     <g id="line2d_415">
      <g>
       <use href="#m71ee6960a1" x="374.333333" y="417.983333" style="stroke: #000000"/>
      </g>
     </g>
    </g>
    <g id="ytick_80">
     <g id="line2d_416">
      <g>
       <use href="#me99788c269" x="70.916667" y="403.683333" style="stroke: #000000"/>
      </g>
     </g>
     <g id="line2d_417">
      <g>
       <use href="#m71ee6960a1" x="374.333333" y="403.683333" style="stroke: #000000"/>
      </g>
     </g>
    </g>
    <g id="ytick_81">
     <g id="line2d_418">
      <g>
       <use href="#me99788c269" x="70.916667" y="396.533333" style="stroke: #000000"/>
      </g>
     </g>
     <g id="line2d_419">
      <g>
       <use href="#m71ee6960a1" x="374.333333" y="396.533333" style="stroke: #000000"/>
      </g>
     </g>
    </g>
    <g id="ytick_82">
     <g id="line2d_420">
      <g>
       <use href="#me99788c269" x="70.916667" y="389.383333" style="stroke: #000000"/>
      </g>
     </g>
     <g id="line2d_421">
      <g>
       <use href="#m71ee6960a1" x="374.333333" y="389.383333" style="stroke: #000000"/>
      </g>
     </g>
    </g>
    <g id="ytick_83">
     <g id="line2d_422">
      <g>
       <use href="#me99788c269" x="70.916667" y="382.233333" style="stroke: #000000"/>
      </g>
     </g>
     <g id="line2d_423">
      <g>
       <use href="#m71ee6960a1" x="374.333333" y="382.233333" style="stroke: #000000"/>
      </g>
     </g>
    </g>
    <g id="ytick_84">
     <g id="line2d_424">
      <g>
       <use href="#me99788c269" x="70.916667" y="367.933333" style="stroke: #000000"/>
      </g>
     </g>
     <g id="line2d_425">
      <g>
       <use href="#m71ee6960a1" x="374.333333" y="367.933333" style="stroke: #000000"/>
      </g>
     </g>
    </g>
    <g id="ytick_85">
     <g id="line2d_426">
      <g>
       <use href="#me99788c269" x="70.916667" y="360.783333" style="stroke: #000000"/>
      </g>
     </g>
     <g id="line2d_427">
      <g>
       <use href="#m71ee6960a1" x="374.333333" y="360.783333" style="stroke: #000000"/>
      </g>
     </g>
    </g>
    <g id="ytick_86">
     <g id="line2d_428">
      <g>
       <use href="#me99788c269" x="70.916667" y="353.633333" style="stroke: #000000"/>
      </g>
     </g>
     <g id="line2d_429">
      <g>
       <use href="#m71ee6960a1" x="374.333333" y="353.633333" style="stroke: #000000"/>
      </g>
     </g>
    </g>
    <g id="ytick_87">
     <g id="line2d_430">
      <g>
       <use href="#me99788c269" x="70.916667" y="346.483333" style="stroke: #000000"/>
      </g>
     </g>
     <g id="line2d_431">
      <g>
       <use href="#m71ee6960a1" x="374.333333" y="346.483333" style="stroke: #000000"/>
      </g>
     </g>
    </g>
   </g>
   <g id="line2d_432">
    <g clip-path="url(#pe06b2a6024)">
     <use href="#m1c385fb589" x="165.734375" y="565.809583" style="fill: #0000ff; stroke: #0000ff"/>
     <use href="#m1c385fb589" x="184.697917" y="558.552333" style="fill: #0000ff; stroke: #0000ff"/>
     <use href="#m1c385fb589" x="203.661458" y="556.836333" style="fill: #0000ff; stroke: #0000ff"/>
     <use href="#m1c385fb589" x="222.625" y="554.619833" style="fill: #0000ff; stroke: #0000ff"/>
     <use href="#m1c385fb589" x="241.588542" y="554.619833" style="fill: #0000ff; stroke: #0000ff"/>
     <use href="#m1c385fb589" x="279.515625" y="550.830333" style="fill: #0000ff; stroke: #0000ff"/>
     <use href="#m1c385fb589" x="317.442708" y="544.681333" style="fill: #0000ff; stroke: #0000ff"/>
     <use href="#m1c385fb589" x="364.851563" y="546.683333" style="fill: #0000ff; stroke: #0000ff"/>
    </g>
   </g>
   <g id="line2d_433">
    <g clip-path="url(#pe06b2a6024)">
     <use href="#m9ff4714339" x="127.807292" y="574.353833" style="fill: #008000; stroke: #008000"/>
     <use href="#m9ff4714339" x="146.770833" y="567.203833" style="fill: #008000; stroke: #008000"/>
     <use href="#m9ff4714339" x="165.734375" y="552.367583" style="fill: #008000; stroke: #008000"/>
     <use href="#m9ff4714339" x="184.697917" y="549.650583" style="fill: #008000; stroke: #008000"/>
     <use href="#m9ff4714339" x="203.661458" y="551.795583" style="fill: #008000; stroke: #008000"/>
     <use href="#m9ff4714339" x="222.625" y="553.475833" style="fill: #008000; stroke: #008000"/>
     <use href="#m9ff4714339" x="241.588542" y="553.690333" style="fill: #008000; stroke: #008000"/>
     <use href="#m9ff4714339" x="279.515625" y="555.763833" style="fill: #008000; stroke: #008000"/>
     <use href="#m9ff4714339" x="317.442708" y="556.836333" style="fill: #008000; stroke: #008000"/>
     <use href="#m9ff4714339" x="364.851563" y="558.194833" style="fill: #008000; stroke: #008000"/>
    </g>
   </g>
   <g id="line2d_434">
    <g clip-path="url(#pe06b2a6024)">
     <use href="#m3937245963" x="127.807292" y="551.473833" style="fill: #ff0000; stroke: #ff0000"/>
     <use href="#m3937245963" x="146.770833" y="543.465833" style="fill: #ff0000; stroke: #ff0000"/>
     <use href="#m3937245963" x="165.734375" y="535.350583" style="fill: #ff0000; stroke: #ff0000"/>
     <use href="#m3937245963" x="184.697917" y="551.402333" style="fill: #ff0000; stroke: #ff0000"/>
     <use href="#m3937245963" x="203.661458" y="555.978333" style="fill: #ff0000; stroke: #ff0000"/>
     <use href="#m3937245963" x="222.625" y="559.338833" style="fill: #ff0000; stroke: #ff0000"/>
     <use href="#m3937245963" x="241.588542" y="559.481833" style="fill: #ff0000; stroke: #ff0000"/>
     <use href="#m3937245963" x="279.515625" y="563.535883" style="fill: #ff0000; stroke: #ff0000"/>
     <use href="#m3937245963" x="317.442708" y="563.843333" style="fill: #ff0000; stroke: #ff0000"/>
     <use href="#m3937245963" x="364.851563" y="563.378583" style="fill: #ff0000; stroke: #ff0000"/>
    </g>
   </g>
   <g id="line2d_435">
    <g clip-path="url(#pe06b2a6024)">
     <use href="#m3b3e0c8a6c" x="89.880208" y="549.514733" style="stroke: #000000"/>
     <use href="#m3b3e0c8a6c" x="108.84375" y="549.486133" style="stroke: #000000"/>
     <use href="#m3b3e0c8a6c" x="127.807292" y="557.837333" style="stroke: #000000"/>
     <use href="#m3b3e0c8a6c" x="146.770833" y="559.031383" style="stroke: #000000"/>
     <use href="#m3b3e0c8a6c" x="165.734375" y="560.482833" style="stroke: #000000"/>
     <use href="#m3b3e0c8a6c" x="184.697917" y="564.558333" style="stroke: #000000"/>
     <use href="#m3b3e0c8a6c" x="203.661458" y="563.657433" style="stroke: #000000"/>
     <use href="#m3b3e0c8a6c" x="222.625" y="565.330533" style="stroke: #000000"/>
     <use href="#m3b3e0c8a6c" x="241.588542" y="567.833033" style="stroke: #000000"/>
     <use href="#m3b3e0c8a6c" x="279.515625" y="567.504133" style="stroke: #000000"/>
     <use href="#m3b3e0c8a6c" x="317.442708" y="567.332533" style="stroke: #000000"/>
     <use href="#m3b3e0c8a6c" x="364.851563" y="569.205833" style="stroke: #000000"/>
    </g>
   </g>
   <g id="line2d_436">
    <g clip-path="url(#pe06b2a6024)">
     <use href="#m2397b61e24" x="89.880208" y="572.666433" style="fill: #ffa500; stroke: #ffa500"/>
     <use href="#m2397b61e24" x="108.84375" y="568.190533" style="fill: #ffa500; stroke: #ffa500"/>
     <use href="#m2397b61e24" x="127.807292" y="569.384583" style="fill: #ffa500; stroke: #ffa500"/>
     <use href="#m2397b61e24" x="146.770833" y="568.047533" style="fill: #ffa500; stroke: #ffa500"/>
     <use href="#m2397b61e24" x="165.734375" y="569.384583" style="fill: #ffa500; stroke: #ffa500"/>
     <use href="#m2397b61e24" x="184.697917" y="570.078133" style="fill: #ffa500; stroke: #ffa500"/>
     <use href="#m2397b61e24" x="203.661458" y="570.078133" style="fill: #ffa500; stroke: #ffa500"/>
     <use href="#m2397b61e24" x="222.625" y="569.956583" style="fill: #ffa500; stroke: #ffa500"/>
     <use href="#m2397b61e24" x="241.588542" y="570.778833" style="fill: #ffa500; stroke: #ffa500"/>
     <use href="#m2397b61e24" x="279.515625" y="572.909533" style="fill: #ffa500; stroke: #ffa500"/>
     <use href="#m2397b61e24" x="317.442708" y="572.101583" style="fill: #ffa500; stroke: #ffa500"/>
     <use href="#m2397b61e24" x="364.851563" y="571.808433" style="fill: #ffa500; stroke: #ffa500"/>
    </g>
   </g>
   <g id="line2d_437">
    <g clip-path="url(#pe06b2a6024)">
     <use href="#mc009217a7a" x="108.84375" y="573.166933" style="fill: #ff00ff; stroke: #ff00ff"/>
     <use href="#mc009217a7a" x="127.807292" y="571.822733" style="fill: #ff00ff; stroke: #ff00ff"/>
     <use href="#mc009217a7a" x="146.770833" y="573.238433" style="fill: #ff00ff; stroke: #ff00ff"/>
     <use href="#mc009217a7a" x="165.734375" y="573.066833" style="fill: #ff00ff; stroke: #ff00ff"/>
     <use href="#mc009217a7a" x="184.697917" y="573.309933" style="fill: #ff00ff; stroke: #ff00ff"/>
     <use href="#mc009217a7a" x="203.661458" y="573.760383" style="fill: #ff00ff; stroke: #ff00ff"/>
     <use href="#mc009217a7a" x="222.625" y="573.953433" style="fill: #ff00ff; stroke: #ff00ff"/>
     <use href="#mc009217a7a" x="241.588542" y="573.831883" style="fill: #ff00ff; stroke: #ff00ff"/>
     <use href="#mc009217a7a" x="279.515625" y="574.232283" style="fill: #ff00ff; stroke: #ff00ff"/>
     <use href="#mc009217a7a" x="317.442708" y="574.596933" style="fill: #ff00ff; stroke: #ff00ff"/>
     <use href="#mc009217a7a" x="364.851563" y="573.788983" style="fill: #ff00ff; stroke: #ff00ff"/>
    </g>
   </g>
   <g id="patch_10">
    <path d="M 70.916667 589.583333 
L 70.916667 339.333333 
" style="fill: none; stroke: #000000; stroke-linejoin: miter; stroke-linecap: square"/>
   </g>
   <g id="patch_11">
    <path d="M 374.333333 589.583333 
L 374.333333 339.333333 
" style="fill: none; stroke: #000000; stroke-linejoin: miter; stroke-linecap: square"/>
   </g>
   <g id="patch_12">
    <path d="M 70.916667 589.583333 
L 374.333333 589.583333 
" style="fill: none; stroke: #000000; stroke-linejoin: miter; stroke-linecap: square"/>
   </g>
   <g id="patch_13">
    <path d="M 70.916667 339.333333 
L 374.333333 339.333333 
" style="fill: none; stroke: #000000; stroke-linejoin: miter; stroke-linecap: square"/>
   </g>
   <g id="LineCollection_7">
    <path d="M 165.734375 571.272183 
L 165.734375 560.346983 
" clip-path="url(#pe06b2a6024)" style="fill: none; stroke: #0000ff; stroke-width: 1.5"/>
    <path d="M 184.697917 562.484833 
L 184.697917 554.619833 
" clip-path="url(#pe06b2a6024)" style="fill: none; stroke: #0000ff; stroke-width: 1.5"/>
    <path d="M 203.661458 560.411333 
L 203.661458 553.261333 
" clip-path="url(#pe06b2a6024)" style="fill: none; stroke: #0000ff; stroke-width: 1.5"/>
    <path d="M 222.625 559.288783 
L 222.625 549.950883 
" clip-path="url(#pe06b2a6024)" style="fill: none; stroke: #0000ff; stroke-width: 1.5"/>
    <path d="M 241.588542 561.269333 
L 241.588542 547.970333 
" clip-path="url(#pe06b2a6024)" style="fill: none; stroke: #0000ff; stroke-width: 1.5"/>
    <path d="M 279.515625 556.907833 
L 279.515625 544.752833 
" clip-path="url(#pe06b2a6024)" style="fill: none; stroke: #0000ff; stroke-width: 1.5"/>
    <path d="M 317.442708 551.116333 
L 317.442708 538.246333 
" clip-path="url(#pe06b2a6024)" style="fill: none; stroke: #0000ff; stroke-width: 1.5"/>
    <path d="M 364.851563 550.758833 
L 364.851563 542.607833 
" clip-path="url(#pe06b2a6024)" style="fill: none; stroke: #0000ff; stroke-width: 1.5"/>
   </g>
   <g id="LineCollection_8">
    <path d="M 127.807292 576.756233 
L 127.807292 571.951433 
" clip-path="url(#pe06b2a6024)" style="fill: none; stroke: #008000; stroke-width: 1.5"/>
    <path d="M 146.770833 571.551033 
L 146.770833 562.856633 
" clip-path="url(#pe06b2a6024)" style="fill: none; stroke: #008000; stroke-width: 1.5"/>
    <path d="M 165.734375 558.552333 
L 165.734375 546.182833 
" clip-path="url(#pe06b2a6024)" style="fill: none; stroke: #008000; stroke-width: 1.5"/>
    <path d="M 184.697917 553.225583 
L 184.697917 546.075583 
" clip-path="url(#pe06b2a6024)" style="fill: none; stroke: #008000; stroke-width: 1.5"/>
    <path d="M 203.661458 558.945583 
L 203.661458 544.645583 
" clip-path="url(#pe06b2a6024)" style="fill: none; stroke: #008000; stroke-width: 1.5"/>
    <path d="M 222.625 558.087583 
L 222.625 548.864083 
" clip-path="url(#pe06b2a6024)" style="fill: none; stroke: #008000; stroke-width: 1.5"/>
    <path d="M 241.588542 562.270333 
L 241.588542 545.110333 
" clip-path="url(#pe06b2a6024)" style="fill: none; stroke: #008000; stroke-width: 1.5"/>
    <path d="M 279.515625 559.338833 
L 279.515625 552.188833 
" clip-path="url(#pe06b2a6024)" style="fill: none; stroke: #008000; stroke-width: 1.5"/>
    <path d="M 317.442708 560.125333 
L 317.442708 553.547333 
" clip-path="url(#pe06b2a6024)" style="fill: none; stroke: #008000; stroke-width: 1.5"/>
    <path d="M 364.851563 562.270333 
L 364.851563 554.119333 
" clip-path="url(#pe06b2a6024)" style="fill: none; stroke: #008000; stroke-width: 1.5"/>
   </g>
   <g id="LineCollection_9">
    <path d="M 127.807292 553.797583 
L 127.807292 549.150083 
" clip-path="url(#pe06b2a6024)" style="fill: none; stroke: #ff0000; stroke-width: 1.5"/>
    <path d="M 146.770833 555.442083 
L 146.770833 531.489583 
" clip-path="url(#pe06b2a6024)" style="fill: none; stroke: #ff0000; stroke-width: 1.5"/>
    <path d="M 165.734375 541.070583 
L 165.734375 529.630583 
" clip-path="url(#pe06b2a6024)" style="fill: none; stroke: #ff0000; stroke-width: 1.5"/>
    <path d="M 184.697917 558.266333 
L 184.697917 544.538333 
" clip-path="url(#pe06b2a6024)" style="fill: none; stroke: #ff0000; stroke-width: 1.5"/>
    <path d="M 203.661458 560.818883 
L 203.661458 551.137783 
" clip-path="url(#pe06b2a6024)" style="fill: none; stroke: #ff0000; stroke-width: 1.5"/>
    <path d="M 222.625 562.377583 
L 222.625 556.300083 
" clip-path="url(#pe06b2a6024)" style="fill: none; stroke: #ff0000; stroke-width: 1.5"/>
    <path d="M 241.588542 564.115033 
L 241.588542 554.848633 
" clip-path="url(#pe06b2a6024)" style="fill: none; stroke: #ff0000; stroke-width: 1.5"/>
    <path d="M 279.515625 567.353983 
L 279.515625 559.717783 
" clip-path="url(#pe06b2a6024)" style="fill: none; stroke: #ff0000; stroke-width: 1.5"/>
    <path d="M 317.442708 567.883083 
L 317.442708 559.803583 
" clip-path="url(#pe06b2a6024)" style="fill: none; stroke: #ff0000; stroke-width: 1.5"/>
    <path d="M 364.851563 565.952583 
L 364.851563 560.804583 
" clip-path="url(#pe06b2a6024)" style="fill: none; stroke: #ff0000; stroke-width: 1.5"/>
   </g>
   <g id="LineCollection_10">
    <path d="M 89.880208 563.400033 
L 89.880208 535.629433 
" clip-path="url(#pe06b2a6024)" style="fill: none; stroke: #000000; stroke-width: 1.5"/>
    <path d="M 108.84375 557.708633 
L 108.84375 541.263633 
" clip-path="url(#pe06b2a6024)" style="fill: none; stroke: #000000; stroke-width: 1.5"/>
    <path d="M 127.807292 560.397033 
L 127.807292 555.277633 
" clip-path="url(#pe06b2a6024)" style="fill: none; stroke: #000000; stroke-width: 1.5"/>
    <path d="M 146.770833 560.604383 
L 146.770833 557.458383 
" clip-path="url(#pe06b2a6024)" style="fill: none; stroke: #000000; stroke-width: 1.5"/>
    <path d="M 165.734375 562.399033 
L 165.734375 558.566633 
" clip-path="url(#pe06b2a6024)" style="fill: none; stroke: #000000; stroke-width: 1.5"/>
    <path d="M 184.697917 566.059833 
L 184.697917 563.056833 
" clip-path="url(#pe06b2a6024)" style="fill: none; stroke: #000000; stroke-width: 1.5"/>
    <path d="M 203.661458 567.489833 
L 203.661458 559.825033 
" clip-path="url(#pe06b2a6024)" style="fill: none; stroke: #000000; stroke-width: 1.5"/>
    <path d="M 222.625 566.975033 
L 222.625 563.686033 
" clip-path="url(#pe06b2a6024)" style="fill: none; stroke: #000000; stroke-width: 1.5"/>
    <path d="M 241.588542 568.905533 
L 241.588542 566.760533 
" clip-path="url(#pe06b2a6024)" style="fill: none; stroke: #000000; stroke-width: 1.5"/>
    <path d="M 279.515625 568.576633 
L 279.515625 566.431633 
" clip-path="url(#pe06b2a6024)" style="fill: none; stroke: #000000; stroke-width: 1.5"/>
    <path d="M 317.442708 570.685883 
L 317.442708 563.979183 
" clip-path="url(#pe06b2a6024)" style="fill: none; stroke: #000000; stroke-width: 1.5"/>
    <path d="M 364.851563 571.265033 
L 364.851563 567.146633 
" clip-path="url(#pe06b2a6024)" style="fill: none; stroke: #000000; stroke-width: 1.5"/>
   </g>
   <g id="LineCollection_11">
    <path d="M 89.880208 574.940133 
L 89.880208 570.392733 
" clip-path="url(#pe06b2a6024)" style="fill: none; stroke: #ffa500; stroke-width: 1.5"/>
    <path d="M 108.84375 570.106733 
L 108.84375 566.274333 
" clip-path="url(#pe06b2a6024)" style="fill: none; stroke: #ffa500; stroke-width: 1.5"/>
    <path d="M 127.807292 571.937133 
L 127.807292 566.832033 
" clip-path="url(#pe06b2a6024)" style="fill: none; stroke: #ffa500; stroke-width: 1.5"/>
    <path d="M 146.770833 568.619533 
L 146.770833 567.475533 
" clip-path="url(#pe06b2a6024)" style="fill: none; stroke: #ffa500; stroke-width: 1.5"/>
    <path d="M 165.734375 573.102583 
L 165.734375 565.666583 
" clip-path="url(#pe06b2a6024)" style="fill: none; stroke: #ffa500; stroke-width: 1.5"/>
    <path d="M 184.697917 571.293633 
L 184.697917 568.862633 
" clip-path="url(#pe06b2a6024)" style="fill: none; stroke: #ffa500; stroke-width: 1.5"/>
    <path d="M 203.661458 571.879933 
L 203.661458 568.276333 
" clip-path="url(#pe06b2a6024)" style="fill: none; stroke: #ffa500; stroke-width: 1.5"/>
    <path d="M 222.625 571.486683 
L 222.625 568.426483 
" clip-path="url(#pe06b2a6024)" style="fill: none; stroke: #ffa500; stroke-width: 1.5"/>
    <path d="M 241.588542 572.923833 
L 241.588542 568.633833 
" clip-path="url(#pe06b2a6024)" style="fill: none; stroke: #ffa500; stroke-width: 1.5"/>
    <path d="M 279.515625 574.339533 
L 279.515625 571.479533 
" clip-path="url(#pe06b2a6024)" style="fill: none; stroke: #ffa500; stroke-width: 1.5"/>
    <path d="M 317.442708 573.817583 
L 317.442708 570.385583 
" clip-path="url(#pe06b2a6024)" style="fill: none; stroke: #ffa500; stroke-width: 1.5"/>
    <path d="M 364.851563 574.382433 
L 364.851563 569.234433 
" clip-path="url(#pe06b2a6024)" style="fill: none; stroke: #ffa500; stroke-width: 1.5"/>
   </g>
   <g id="LineCollection_12">
    <path d="M 108.84375 574.418183 
L 108.84375 571.915683 
" clip-path="url(#pe06b2a6024)" style="fill: none; stroke: #ff00ff; stroke-width: 1.5"/>
    <path d="M 127.807292 573.717483 
L 127.807292 569.927983 
" clip-path="url(#pe06b2a6024)" style="fill: none; stroke: #ff00ff; stroke-width: 1.5"/>
    <path d="M 146.770833 574.990183 
L 146.770833 571.486683 
" clip-path="url(#pe06b2a6024)" style="fill: none; stroke: #ff00ff; stroke-width: 1.5"/>
    <path d="M 165.734375 573.781833 
L 165.734375 572.351833 
" clip-path="url(#pe06b2a6024)" style="fill: none; stroke: #ff00ff; stroke-width: 1.5"/>
    <path d="M 184.697917 574.167933 
L 184.697917 572.451933 
" clip-path="url(#pe06b2a6024)" style="fill: none; stroke: #ff00ff; stroke-width: 1.5"/>
    <path d="M 203.661458 575.004483 
L 203.661458 572.516283 
" clip-path="url(#pe06b2a6024)" style="fill: none; stroke: #ff00ff; stroke-width: 1.5"/>
    <path d="M 222.625 575.340533 
L 222.625 572.566333 
" clip-path="url(#pe06b2a6024)" style="fill: none; stroke: #ff00ff; stroke-width: 1.5"/>
    <path d="M 241.588542 575.619383 
L 241.588542 572.044383 
" clip-path="url(#pe06b2a6024)" style="fill: none; stroke: #ff00ff; stroke-width: 1.5"/>
    <path d="M 279.515625 576.248583 
L 279.515625 572.215983 
" clip-path="url(#pe06b2a6024)" style="fill: none; stroke: #ff00ff; stroke-width: 1.5"/>
    <path d="M 317.442708 576.527433 
L 317.442708 572.666433 
" clip-path="url(#pe06b2a6024)" style="fill: none; stroke: #ff00ff; stroke-width: 1.5"/>
    <path d="M 364.851563 575.690883 
L 364.851563 571.887083 
" clip-path="url(#pe06b2a6024)" style="fill: none; stroke: #ff00ff; stroke-width: 1.5"/>
   </g>
   <g id="line2d_438">
    <path d="M 70.916667 577.787237 
L 76.389112 577.856541 
L 82.469606 577.706963 
L 88.5501 577.337122 
L 95.238644 576.698422 
L 101.927188 575.841169 
L 109.223781 574.686244 
L 117.128424 573.213132 
L 126.249165 571.279421 
L 137.194055 568.71403 
L 153.00334 564.749072 
L 173.068971 559.746794 
L 184.013861 557.254875 
L 193.134603 555.40863 
L 201.039245 554.030619 
L 208.335838 552.979382 
L 215.024382 552.230586 
L 221.712926 551.713174 
L 227.79342 551.459727 
L 234.481964 551.398445 
L 242.386607 551.566855 
L 251.507348 552.003554 
L 264.276386 552.866185 
L 283.125919 554.137016 
L 294.678858 554.661214 
L 306.839846 554.990905 
L 320.216934 555.122578 
L 334.81012 555.03175 
L 351.227455 554.694386 
L 370.685037 554.061367 
L 374.333333 553.92296 
L 374.333333 553.92296 
" clip-path="url(#pe06b2a6024)" style="fill: none; stroke: #0000ff; stroke-width: 1.7"/>
   </g>
   <g id="line2d_439">
    <path d="M 70.916667 570.574542 
L 73.956914 570.995668 
L 76.997161 571.168835 
L 80.037408 571.11031 
L 83.077655 570.83636 
L 86.117902 570.363253 
L 89.766199 569.555541 
L 93.414496 568.512579 
L 97.670842 567.035959 
L 101.927188 565.322035 
L 106.791583 563.12995 
L 112.872077 560.137476 
L 124.425017 554.121439 
L 132.329659 550.136328 
L 137.802104 547.629343 
L 142.05845 545.904476 
L 146.314796 544.433924 
L 149.963093 543.410357 
L 153.611389 542.603985 
L 157.259686 542.000784 
L 161.516032 541.535105 
L 165.772378 541.30456 
L 170.028724 541.286856 
L 174.89312 541.498644 
L 179.757515 541.92603 
L 185.22996 542.623111 
L 191.310454 543.614492 
L 198.607047 545.038832 
L 207.727789 547.061841 
L 232.657816 552.743038 
L 239.954409 554.108891 
L 246.642953 555.123292 
L 253.939546 555.979299 
L 261.844188 556.670074 
L 271.572979 557.278216 
L 286.774215 557.963025 
L 305.015698 558.583829 
L 321.433033 558.922402 
L 336.634269 559.010939 
L 350.619405 558.871062 
L 363.996493 558.51344 
L 374.333333 558.072163 
L 374.333333 558.072163 
" clip-path="url(#pe06b2a6024)" style="fill: none; stroke: #008000; stroke-width: 1.7"/>
   </g>
   <g id="line2d_440">
    <path d="M 70.916667 547.647623 
L 72.740815 545.048061 
L 74.564963 542.04781 
L 76.997161 537.553656 
L 80.037408 531.392023 
L 88.5501 513.753157 
L 90.982298 509.374666 
L 92.806446 506.487564 
L 94.630595 504.016115 
L 96.454743 501.977162 
L 98.278891 500.367195 
L 99.49499 499.530448 
L 100.711089 498.88172 
L 101.927188 498.419953 
L 103.143287 498.14409 
L 104.359385 498.053075 
L 105.575484 498.145851 
L 106.791583 498.421277 
L 108.007682 498.873386 
L 109.83183 499.853498 
L 111.655979 501.154131 
L 113.480127 502.728244 
L 115.912325 505.171163 
L 118.952572 508.621021 
L 129.897462 521.50986 
L 133.545758 525.188231 
L 137.194055 528.514745 
L 140.842351 531.516238 
L 144.490648 534.219547 
L 148.138945 536.651507 
L 151.787241 538.838956 
L 156.043587 541.117745 
L 160.299933 543.142539 
L 165.164329 545.189878 
L 170.028724 546.992074 
L 175.501169 548.777147 
L 181.581663 550.527451 
L 189.486306 552.562645 
L 203.471443 555.895848 
L 210.159987 557.279094 
L 215.632432 558.199342 
L 221.712926 558.988116 
L 229.617568 559.760067 
L 242.386607 560.742755 
L 256.979793 561.647137 
L 272.181029 562.362602 
L 287.990314 562.883948 
L 305.015698 563.218494 
L 323.257181 563.34895 
L 343.322812 563.262937 
L 365.820641 562.939284 
L 374.333333 562.76778 
L 374.333333 562.76778 
" clip-path="url(#pe06b2a6024)" style="fill: none; stroke: #ff0000; stroke-width: 1.7"/>
   </g>
   <g id="line2d_441">
    <path d="M 70.916667 541.31537 
L 81.253507 544.256869 
L 91.590347 546.96849 
L 101.927188 549.459676 
L 112.872077 551.867635 
L 123.816967 554.050265 
L 135.369906 556.122088 
L 146.922846 557.968529 
L 159.083834 559.683159 
L 171.244823 561.17805 
L 184.013861 562.528019 
L 197.390949 563.720017 
L 211.376086 564.744918 
L 226.577321 565.629301 
L 242.386607 566.326749 
L 260.02004 566.878146 
L 280.085671 567.27271 
L 304.407649 567.514032 
L 348.187208 567.66873 
L 374.333333 567.835204 
L 374.333333 567.835204 
" clip-path="url(#pe06b2a6024)" style="fill: none; stroke: #000000; stroke-width: 1.7"/>
   </g>
   <g id="line2d_442">
    <path d="M 70.916667 564.91987 
L 92.198397 566.13929 
L 114.696226 567.206748 
L 139.626253 568.161741 
L 167.596526 569.000513 
L 200.431196 569.751691 
L 247.251002 570.575473 
L 314.13644 571.772043 
L 346.971109 572.5936 
L 374.333333 573.494462 
L 374.333333 573.494462 
" clip-path="url(#pe06b2a6024)" style="fill: none; stroke: #ffa500; stroke-width: 1.7"/>
   </g>
   <g id="line2d_443">
    <path d="M 70.916667 571.946864 
L 97.670842 572.51666 
L 129.289412 572.957785 
L 175.501169 573.353028 
L 235.698063 573.901069 
L 267.316633 574.420378 
L 293.462759 575.066435 
L 317.176687 575.874016 
L 338.458417 576.815047 
L 358.524048 577.918842 
L 374.333333 578.954033 
L 374.333333 578.954033 
" clip-path="url(#pe06b2a6024)" style="fill: none; stroke: #ff00ff; stroke-width: 1.7"/>
   </g>
  </g>
  <g id="axes_4">
   <g id="matplotlib.axis_7">
    <g id="xtick_120">
     <g id="line2d_444">
      <g>
       <use href="#me1ed62e7b0" x="477.270833" y="589.583333" style="stroke: #000000"/>
      </g>
     </g>
     <g id="line2d_445">
      <g>
       <use href="#m8548808949" x="477.270833" y="339.333333" style="stroke: #000000"/>
      </g>
     </g>
     <g id="text_45">
      <text style="font-size: 15.872px; font-family: 'DejaVu Sans', 'Liberation Sans', sans-serif; text-anchor: middle" x="477.270833" y="605.143573">175</text>
     </g>
    </g>
    <g id="xtick_121">
     <g id="line2d_446">
      <g>
       <use href="#me1ed62e7b0" x="524.666667" y="589.583333" style="stroke: #000000"/>
      </g>
     </g>
     <g id="line2d_447">
      <g>
       <use href="#m8548808949" x="524.666667" y="339.333333" style="stroke: #000000"/>
      </g>
     </g>
     <g id="text_46">
      <text style="font-size: 15.872px; font-family: 'DejaVu Sans', 'Liberation Sans', sans-serif; text-anchor: middle" x="524.666667" y="605.143573">200</text>
     </g>
    </g>
    <g id="xtick_122">
     <g id="line2d_448">
      <g>
       <use href="#me1ed62e7b0" x="572.0625" y="589.583333" style="stroke: #000000"/>
      </g>
     </g>
     <g id="line2d_449">
      <g>
       <use href="#m8548808949" x="572.0625" y="339.333333" style="stroke: #000000"/>
      </g>
     </g>
     <g id="text_47">
      <text style="font-size: 15.872px; font-family: 'DejaVu Sans', 'Liberation Sans', sans-serif; text-anchor: middle" x="572.0625" y="605.143573">225</text>
     </g>
    </g>
    <g id="xtick_123">
     <g id="line2d_450">
      <g>
       <use href="#me1ed62e7b0" x="619.458333" y="589.583333" style="stroke: #000000"/>
      </g>
     </g>
     <g id="line2d_451">
      <g>
       <use href="#m8548808949" x="619.458333" y="339.333333" style="stroke: #000000"/>
      </g>
     </g>
     <g id="text_48">
      <text style="font-size: 15.872px; font-family: 'DejaVu Sans', 'Liberation Sans', sans-serif; text-anchor: middle" x="619.458333" y="605.143573">250</text>
     </g>
    </g>
    <g id="xtick_124">
     <g id="line2d_452">
      <g>
       <use href="#me1ed62e7b0" x="666.854167" y="589.583333" style="stroke: #000000"/>
      </g>
     </g>
     <g id="line2d_453">
      <g>
       <use href="#m8548808949" x="666.854167" y="339.333333" style="stroke: #000000"/>
      </g>
     </g>
     <g id="text_49">
      <text style="font-size: 15.872px; font-family: 'DejaVu Sans', 'Liberation Sans', sans-serif; text-anchor: middle" x="666.854167" y="605.143573">275</text>
     </g>
    </g>
    <g id="xtick_125">
     <g id="line2d_454">
      <g>
       <use href="#me1ed62e7b0" x="714.25" y="589.583333" style="stroke: #000000"/>
      </g>
     </g>
     <g id="line2d_455">
      <g>
       <use href="#m8548808949" x="714.25" y="339.333333" style="stroke: #000000"/>
      </g>
     </g>
     <g id="text_50">
      <text style="font-size: 15.872px; font-family: 'DejaVu Sans', 'Liberation Sans', sans-serif; text-anchor: middle" x="714.25" y="605.143573">300</text>
     </g>
    </g>
    <g id="xtick_126">
     <g id="line2d_456">
      <g>
       <use href="#me1ed62e7b0" x="761.645833" y="589.583333" style="stroke: #000000"/>
      </g>
     </g>
     <g id="line2d_457">
      <g>
       <use href="#m8548808949" x="761.645833" y="339.333333" style="stroke: #000000"/>
      </g>
     </g>
     <g id="text_51">
      <text style="font-size: 15.872px; font-family: 'DejaVu Sans', 'Liberation Sans', sans-serif; text-anchor: middle" x="761.645833" y="605.143573">325</text>
     </g>
    </g>
    <g id="xtick_127">
     <g id="line2d_458">
      <g>
       <use href="#m3778f43bfe" x="467.791667" y="589.583333" style="stroke: #000000"/>
      </g>
     </g>
     <g id="line2d_459">
      <g>
       <use href="#m2444ff35b4" x="467.791667" y="339.333333" style="stroke: #000000"/>
      </g>
     </g>
    </g>
    <g id="xtick_128">
     <g id="line2d_460">
      <g>
       <use href="#m3778f43bfe" x="486.75" y="589.583333" style="stroke: #000000"/>
      </g>
     </g>
     <g id="line2d_461">
      <g>
       <use href="#m2444ff35b4" x="486.75" y="339.333333" style="stroke: #000000"/>
      </g>
     </g>
    </g>
    <g id="xtick_129">
     <g id="line2d_462">
      <g>
       <use href="#m3778f43bfe" x="496.229167" y="589.583333" style="stroke: #000000"/>
      </g>
     </g>
     <g id="line2d_463">
      <g>
       <use href="#m2444ff35b4" x="496.229167" y="339.333333" style="stroke: #000000"/>
      </g>
     </g>
    </g>
    <g id="xtick_130">
     <g id="line2d_464">
      <g>
       <use href="#m3778f43bfe" x="505.708333" y="589.583333" style="stroke: #000000"/>
      </g>
     </g>
     <g id="line2d_465">
      <g>
       <use href="#m2444ff35b4" x="505.708333" y="339.333333" style="stroke: #000000"/>
      </g>
     </g>
    </g>
    <g id="xtick_131">
     <g id="line2d_466">
      <g>
       <use href="#m3778f43bfe" x="515.1875" y="589.583333" style="stroke: #000000"/>
      </g>
     </g>
     <g id="line2d_467">
      <g>
       <use href="#m2444ff35b4" x="515.1875" y="339.333333" style="stroke: #000000"/>
      </g>
     </g>
    </g>
    <g id="xtick_132">
     <g id="line2d_468">
      <g>
       <use href="#m3778f43bfe" x="534.145833" y="589.583333" style="stroke: #000000"/>
      </g>
     </g>
     <g id="line2d_469">
      <g>
       <use href="#m2444ff35b4" x="534.145833" y="339.333333" style="stroke: #000000"/>
      </g>
     </g>
    </g>
    <g id="xtick_133">
     <g id="line2d_470">
      <g>
       <use href="#m3778f43bfe" x="543.625" y="589.583333" style="stroke: #000000"/>
      </g>
     </g>
     <g id="line2d_471">
      <g>
       <use href="#m2444ff35b4" x="543.625" y="339.333333" style="stroke: #000000"/>
      </g>
     </g>
    </g>
    <g id="xtick_134">
     <g id="line2d_472">
      <g>
       <use href="#m3778f43bfe" x="553.104167" y="589.583333" style="stroke: #000000"/>
      </g>
     </g>
     <g id="line2d_473">
      <g>
       <use href="#m2444ff35b4" x="553.104167" y="339.333333" style="stroke: #000000"/>
      </g>
     </g>
    </g>
    <g id="xtick_135">
     <g id="line2d_474">
      <g>
       <use href="#m3778f43bfe" x="562.583333" y="589.583333" style="stroke: #000000"/>
      </g>
     </g>
     <g id="line2d_475">
      <g>
       <use href="#m2444ff35b4" x="562.583333" y="339.333333" style="stroke: #000000"/>
      </g>
     </g>
    </g>
    <g id="xtick_136">
     <g id="line2d_476">
      <g>
       <use href="#m3778f43bfe" x="581.541667" y="589.583333" style="stroke: #000000"/>
      </g>
     </g>
     <g id="line2d_477">
      <g>
       <use href="#m2444ff35b4" x="581.541667" y="339.333333" style="stroke: #000000"/>
      </g>
     </g>
    </g>
    <g id="xtick_137">
     <g id="line2d_478">
      <g>
       <use href="#m3778f43bfe" x="591.020833" y="589.583333" style="stroke: #000000"/>
      </g>
     </g>
     <g id="line2d_479">
      <g>
       <use href="#m2444ff35b4" x="591.020833" y="339.333333" style="stroke: #000000"/>
      </g>
     </g>
    </g>
    <g id="xtick_138">
     <g id="line2d_480">
      <g>
       <use href="#m3778f43bfe" x="600.5" y="589.583333" style="stroke: #000000"/>
      </g>
     </g>
     <g id="line2d_481">
      <g>
       <use href="#m2444ff35b4" x="600.5" y="339.333333" style="stroke: #000000"/>
      </g>
     </g>
    </g>
    <g id="xtick_139">
     <g id="line2d_482">
      <g>
       <use href="#m3778f43bfe" x="609.979167" y="589.583333" style="stroke: #000000"/>
      </g>
     </g>
     <g id="line2d_483">
      <g>
       <use href="#m2444ff35b4" x="609.979167" y="339.333333" style="stroke: #000000"/>
      </g>
     </g>
    </g>
    <g id="xtick_140">
     <g id="line2d_484">
      <g>
       <use href="#m3778f43bfe" x="628.9375" y="589.583333" style="stroke: #000000"/>
      </g>
     </g>
     <g id="line2d_485">
      <g>
       <use href="#m2444ff35b4" x="628.9375" y="339.333333" style="stroke: #000000"/>
      </g>
     </g>
    </g>
    <g id="xtick_141">
     <g id="line2d_486">
      <g>
       <use href="#m3778f43bfe" x="638.416667" y="589.583333" style="stroke: #000000"/>
      </g>
     </g>
     <g id="line2d_487">
      <g>
       <use href="#m2444ff35b4" x="638.416667" y="339.333333" style="stroke: #000000"/>
      </g>
     </g>
    </g>
    <g id="xtick_142">
     <g id="line2d_488">
      <g>
       <use href="#m3778f43bfe" x="647.895833" y="589.583333" style="stroke: #000000"/>
      </g>
     </g>
     <g id="line2d_489">
      <g>
       <use href="#m2444ff35b4" x="647.895833" y="339.333333" style="stroke: #000000"/>
      </g>
     </g>
    </g>
    <g id="xtick_143">
     <g id="line2d_490">
      <g>
       <use href="#m3778f43bfe" x="657.375" y="589.583333" style="stroke: #000000"/>
      </g>
     </g>
     <g id="line2d_491">
      <g>
       <use href="#m2444ff35b4" x="657.375" y="339.333333" style="stroke: #000000"/>
      </g>
     </g>
    </g>
    <g id="xtick_144">
     <g id="line2d_492">
      <g>
       <use href="#m3778f43bfe" x="676.333333" y="589.583333" style="stroke: #000000"/>
      </g>
     </g>
     <g id="line2d_493">
      <g>
       <use href="#m2444ff35b4" x="676.333333" y="339.333333" style="stroke: #000000"/>
      </g>
     </g>
    </g>
    <g id="xtick_145">
     <g id="line2d_494">
      <g>
       <use href="#m3778f43bfe" x="685.8125" y="589.583333" style="stroke: #000000"/>
      </g>
     </g>
     <g id="line2d_495">
      <g>
       <use href="#m2444ff35b4" x="685.8125" y="339.333333" style="stroke: #000000"/>
      </g>
     </g>
    </g>
    <g id="xtick_146">
     <g id="line2d_496">
      <g>
       <use href="#m3778f43bfe" x="695.291667" y="589.583333" style="stroke: #000000"/>
      </g>
     </g>
     <g id="line2d_497">
      <g>
       <use href="#m2444ff35b4" x="695.291667" y="339.333333" style="stroke: #000000"/>
      </g>
     </g>
    </g>
    <g id="xtick_147">
     <g id="line2d_498">
      <g>
       <use href="#m3778f43bfe" x="704.770833" y="589.583333" style="stroke: #000000"/>
      </g>
     </g>
     <g id="line2d_499">
      <g>
       <use href="#m2444ff35b4" x="704.770833" y="339.333333" style="stroke: #000000"/>
      </g>
     </g>
    </g>
    <g id="xtick_148">
     <g id="line2d_500">
      <g>
       <use href="#m3778f43bfe" x="723.729167" y="589.583333" style="stroke: #000000"/>
      </g>
     </g>
     <g id="line2d_501">
      <g>
       <use href="#m2444ff35b4" x="723.729167" y="339.333333" style="stroke: #000000"/>
      </g>
     </g>
    </g>
    <g id="xtick_149">
     <g id="line2d_502">
      <g>
       <use href="#m3778f43bfe" x="733.208333" y="589.583333" style="stroke: #000000"/>
      </g>
     </g>
     <g id="line2d_503">
      <g>
       <use href="#m2444ff35b4" x="733.208333" y="339.333333" style="stroke: #000000"/>
      </g>
     </g>
    </g>
    <g id="xtick_150">
     <g id="line2d_504">
      <g>
       <use href="#m3778f43bfe" x="742.6875" y="589.583333" style="stroke: #000000"/>
      </g>
     </g>
     <g id="line2d_505">
      <g>
       <use href="#m2444ff35b4" x="742.6875" y="339.333333" style="stroke: #000000"/>
      </g>
     </g>
    </g>
    <g id="xtick_151">
     <g id="line2d_506">
      <g>
       <use href="#m3778f43bfe" x="752.166667" y="589.583333" style="stroke: #000000"/>
      </g>
     </g>
     <g id="line2d_507">
      <g>
       <use href="#m2444ff35b4" x="752.166667" y="339.333333" style="stroke: #000000"/>
      </g>
     </g>
    </g>
    <g id="xtick_152">
     <g id="line2d_508">
      <g>
       <use href="#m3778f43bfe" x="771.125" y="589.583333" style="stroke: #000000"/>
      </g>
     </g>
     <g id="line2d_509">
      <g>
       <use href="#m2444ff35b4" x="771.125" y="339.333333" style="stroke: #000000"/>
      </g>
     </g>
    </g>
   </g>
   <g id="matplotlib.axis_8">
    <g id="ytick_88">
     <g id="line2d_510">
      <g>
       <use href="#m54b7029aaa" x="467.791667" y="589.583333" style="stroke: #000000"/>
      </g>
     </g>
     <g id="line2d_511">
      <g>
       <use href="#m9e44f33b49" x="771.125" y="589.583333" style="stroke: #000000"/>
      </g>
     </g>
     <g id="text_52">
      <text style="font-size: 15.872px; font-family: 'DejaVu Sans', 'Liberation Sans', sans-serif; text-anchor: end" x="464.291667" y="595.613453">0</text>
     </g>
    </g>
    <g id="ytick_89">
     <g id="line2d_512">
      <g>
       <use href="#m54b7029aaa" x="467.791667" y="553.833333" style="stroke: #000000"/>
      </g>
     </g>
     <g id="line2d_513">
      <g>
       <use href="#m9e44f33b49" x="771.125" y="553.833333" style="stroke: #000000"/>
      </g>
     </g>
     <g id="text_53">
      <text style="font-size: 15.872px; font-family: 'DejaVu Sans', 'Liberation Sans', sans-serif; text-anchor: end" x="464.291667" y="559.863453">50</text>
     </g>
    </g>
    <g id="ytick_90">
     <g id="line2d_514">
      <g>
       <use href="#m54b7029aaa" x="467.791667" y="518.083333" style="stroke: #000000"/>
      </g>
     </g>
     <g id="line2d_515">
      <g>
       <use href="#m9e44f33b49" x="771.125" y="518.083333" style="stroke: #000000"/>
      </g>
     </g>
     <g id="text_54">
      <text style="font-size: 15.872px; font-family: 'DejaVu Sans', 'Liberation Sans', sans-serif; text-anchor: end" x="464.291667" y="524.113453">100</text>
     </g>
    </g>
    <g id="ytick_91">
     <g id="line2d_516">
      <g>
       <use href="#m54b7029aaa" x="467.791667" y="482.333333" style="stroke: #000000"/>
      </g>
     </g>
     <g id="line2d_517">
      <g>
       <use href="#m9e44f33b49" x="771.125" y="482.333333" style="stroke: #000000"/>
      </g>
     </g>
     <g id="text_55">
      <text style="font-size: 15.872px; font-family: 'DejaVu Sans', 'Liberation Sans', sans-serif; text-anchor: end" x="464.291667" y="488.363453">150</text>
     </g>
    </g>
    <g id="ytick_92">
     <g id="line2d_518">
      <g>
       <use href="#m54b7029aaa" x="467.791667" y="446.583333" style="stroke: #000000"/>
      </g>
     </g>
     <g id="line2d_519">
      <g>
       <use href="#m9e44f33b49" x="771.125" y="446.583333" style="stroke: #000000"/>
      </g>
     </g>
     <g id="text_56">
      <text style="font-size: 15.872px; font-family: 'DejaVu Sans', 'Liberation Sans', sans-serif; text-anchor: end" x="464.291667" y="452.613453">200</text>
     </g>
    </g>
    <g id="ytick_93">
     <g id="line2d_520">
      <g>
       <use href="#m54b7029aaa" x="467.791667" y="410.833333" style="stroke: #000000"/>
      </g>
     </g>
     <g id="line2d_521">
      <g>
       <use href="#m9e44f33b49" x="771.125" y="410.833333" style="stroke: #000000"/>
      </g>
     </g>
     <g id="text_57">
      <text style="font-size: 15.872px; font-family: 'DejaVu Sans', 'Liberation Sans', sans-serif; text-anchor: end" x="464.291667" y="416.863453">250</text>
     </g>
    </g>
    <g id="ytick_94">
     <g id="line2d_522">
      <g>
       <use href="#m54b7029aaa" x="467.791667" y="375.083333" style="stroke: #000000"/>
      </g>
     </g>
     <g id="line2d_523">
      <g>
       <use href="#m9e44f33b49" x="771.125" y="375.083333" style="stroke: #000000"/>
      </g>
     </g>
     <g id="text_58">
      <text style="font-size: 15.872px; font-family: 'DejaVu Sans', 'Liberation Sans', sans-serif; text-anchor: end" x="464.291667" y="381.113453">300</text>
     </g>
    </g>
    <g id="ytick_95">
     <g id="line2d_524">
      <g>
       <use href="#m54b7029aaa" x="467.791667" y="339.333333" style="stroke: #000000"/>
      </g>
     </g>
     <g id="line2d_525">
      <g>
       <use href="#m9e44f33b49" x="771.125" y="339.333333" style="stroke: #000000"/>
      </g>
     </g>
     <g id="text_59">
      <text style="font-size: 15.872px; font-family: 'DejaVu Sans', 'Liberation Sans', sans-serif; text-anchor: end" x="464.291667" y="345.363453">350</text>
     </g>
    </g>
    <g id="ytick_96">
     <g id="line2d_526">
      <g>
       <use href="#me99788c269" x="467.791667" y="582.433333" style="stroke: #000000"/>
      </g>
     </g>
     <g id="line2d_527">
      <g>
       <use href="#m71ee6960a1" x="771.125" y="582.433333" style="stroke: #000000"/>
      </g>
     </g>
    </g>
    <g id="ytick_97">
     <g id="line2d_528">
      <g>
       <use href="#me99788c269" x="467.791667" y="575.283333" style="stroke: #000000"/>
      </g>
     </g>
     <g id="line2d_529">
      <g>
       <use href="#m71ee6960a1" x="771.125" y="575.283333" style="stroke: #000000"/>
      </g>
     </g>
    </g>
    <g id="ytick_98">
     <g id="line2d_530">
      <g>
       <use href="#me99788c269" x="467.791667" y="568.133333" style="stroke: #000000"/>
      </g>
     </g>
     <g id="line2d_531">
      <g>
       <use href="#m71ee6960a1" x="771.125" y="568.133333" style="stroke: #000000"/>
      </g>
     </g>
    </g>
    <g id="ytick_99">
     <g id="line2d_532">
      <g>
       <use href="#me99788c269" x="467.791667" y="560.983333" style="stroke: #000000"/>
      </g>
     </g>
     <g id="line2d_533">
      <g>
       <use href="#m71ee6960a1" x="771.125" y="560.983333" style="stroke: #000000"/>
      </g>
     </g>
    </g>
    <g id="ytick_100">
     <g id="line2d_534">
      <g>
       <use href="#me99788c269" x="467.791667" y="546.683333" style="stroke: #000000"/>
      </g>
     </g>
     <g id="line2d_535">
      <g>
       <use href="#m71ee6960a1" x="771.125" y="546.683333" style="stroke: #000000"/>
      </g>
     </g>
    </g>
    <g id="ytick_101">
     <g id="line2d_536">
      <g>
       <use href="#me99788c269" x="467.791667" y="539.533333" style="stroke: #000000"/>
      </g>
     </g>
     <g id="line2d_537">
      <g>
       <use href="#m71ee6960a1" x="771.125" y="539.533333" style="stroke: #000000"/>
      </g>
     </g>
    </g>
    <g id="ytick_102">
     <g id="line2d_538">
      <g>
       <use href="#me99788c269" x="467.791667" y="532.383333" style="stroke: #000000"/>
      </g>
     </g>
     <g id="line2d_539">
      <g>
       <use href="#m71ee6960a1" x="771.125" y="532.383333" style="stroke: #000000"/>
      </g>
     </g>
    </g>
    <g id="ytick_103">
     <g id="line2d_540">
      <g>
       <use href="#me99788c269" x="467.791667" y="525.233333" style="stroke: #000000"/>
      </g>
     </g>
     <g id="line2d_541">
      <g>
       <use href="#m71ee6960a1" x="771.125" y="525.233333" style="stroke: #000000"/>
      </g>
     </g>
    </g>
    <g id="ytick_104">
     <g id="line2d_542">
      <g>
       <use href="#me99788c269" x="467.791667" y="510.933333" style="stroke: #000000"/>
      </g>
     </g>
     <g id="line2d_543">
      <g>
       <use href="#m71ee6960a1" x="771.125" y="510.933333" style="stroke: #000000"/>
      </g>
     </g>
    </g>
    <g id="ytick_105">
     <g id="line2d_544">
      <g>
       <use href="#me99788c269" x="467.791667" y="503.783333" style="stroke: #000000"/>
      </g>
     </g>
     <g id="line2d_545">
      <g>
       <use href="#m71ee6960a1" x="771.125" y="503.783333" style="stroke: #000000"/>
      </g>
     </g>
    </g>
    <g id="ytick_106">
     <g id="line2d_546">
      <g>
       <use href="#me99788c269" x="467.791667" y="496.633333" style="stroke: #000000"/>
      </g>
     </g>
     <g id="line2d_547">
      <g>
       <use href="#m71ee6960a1" x="771.125" y="496.633333" style="stroke: #000000"/>
      </g>
     </g>
    </g>
    <g id="ytick_107">
     <g id="line2d_548">
      <g>
       <use href="#me99788c269" x="467.791667" y="489.483333" style="stroke: #000000"/>
      </g>
     </g>
     <g id="line2d_549">
      <g>
       <use href="#m71ee6960a1" x="771.125" y="489.483333" style="stroke: #000000"/>
      </g>
     </g>
    </g>
    <g id="ytick_108">
     <g id="line2d_550">
      <g>
       <use href="#me99788c269" x="467.791667" y="475.183333" style="stroke: #000000"/>
      </g>
     </g>
     <g id="line2d_551">
      <g>
       <use href="#m71ee6960a1" x="771.125" y="475.183333" style="stroke: #000000"/>
      </g>
     </g>
    </g>
    <g id="ytick_109">
     <g id="line2d_552">
      <g>
       <use href="#me99788c269" x="467.791667" y="468.033333" style="stroke: #000000"/>
      </g>
     </g>
     <g id="line2d_553">
      <g>
       <use href="#m71ee6960a1" x="771.125" y="468.033333" style="stroke: #000000"/>
      </g>
     </g>
    </g>
    <g id="ytick_110">
     <g id="line2d_554">
      <g>
       <use href="#me99788c269" x="467.791667" y="460.883333" style="stroke: #000000"/>
      </g>
     </g>
     <g id="line2d_555">
      <g>
       <use href="#m71ee6960a1" x="771.125" y="460.883333" style="stroke: #000000"/>
      </g>
     </g>
    </g>
    <g id="ytick_111">
     <g id="line2d_556">
      <g>
       <use href="#me99788c269" x="467.791667" y="453.733333" style="stroke: #000000"/>
      </g>
     </g>
     <g id="line2d_557">
      <g>
       <use href="#m71ee6960a1" x="771.125" y="453.733333" style="stroke: #000000"/>
      </g>
     </g>
    </g>
    <g id="ytick_112">
     <g id="line2d_558">
      <g>
       <use href="#me99788c269" x="467.791667" y="439.433333" style="stroke: #000000"/>
      </g>
     </g>
     <g id="line2d_559">
      <g>
       <use href="#m71ee6960a1" x="771.125" y="439.433333" style="stroke: #000000"/>
      </g>
     </g>
    </g>
    <g id="ytick_113">
     <g id="line2d_560">
      <g>
       <use href="#me99788c269" x="467.791667" y="432.283333" style="stroke: #000000"/>
      </g>
     </g>
     <g id="line2d_561">
      <g>
       <use href="#m71ee6960a1" x="771.125" y="432.283333" style="stroke: #000000"/>
      </g>
     </g>
    </g>
    <g id="ytick_114">
     <g id="line2d_562">
      <g>
       <use href="#me99788c269" x="467.791667" y="425.133333" style="stroke: #000000"/>
      </g>
     </g>
     <g id="line2d_563">
      <g>
       <use href="#m71ee6960a1" x="771.125" y="425.133333" style="stroke: #000000"/>
      </g>
     </g>
    </g>
    <g id="ytick_115">
     <g id="line2d_564">
      <g>
       <use href="#me99788c269" x="467.791667" y="417.983333" style="stroke: #000000"/>
      </g>
     </g>
     <g id="line2d_565">
      <g>
       <use href="#m71ee6960a1" x="771.125" y="417.983333" style="stroke: #000000"/>
      </g>
     </g>
    </g>
    <g id="ytick_116">
     <g id="line2d_566">
      <g>
       <use href="#me99788c269" x="467.791667" y="403.683333" style="stroke: #000000"/>
      </g>
     </g>
     <g id="line2d_567">
      <g>
       <use href="#m71ee6960a1" x="771.125" y="403.683333" style="stroke: #000000"/>
      </g>
     </g>
    </g>
    <g id="ytick_117">
     <g id="line2d_568">
      <g>
       <use href="#me99788c269" x="467.791667" y="396.533333" style="stroke: #000000"/>
      </g>
     </g>
     <g id="line2d_569">
      <g>
       <use href="#m71ee6960a1" x="771.125" y="396.533333" style="stroke: #000000"/>
      </g>
     </g>
    </g>
    <g id="ytick_118">
     <g id="line2d_570">
      <g>
       <use href="#me99788c269" x="467.791667" y="389.383333" style="stroke: #000000"/>
      </g>
     </g>
     <g id="line2d_571">
      <g>
       <use href="#m71ee6960a1" x="771.125" y="389.383333" style="stroke: #000000"/>
      </g>
     </g>
    </g>
    <g id="ytick_119">
     <g id="line2d_572">
      <g>
       <use href="#me99788c269" x="467.791667" y="382.233333" style="stroke: #000000"/>
      </g>
     </g>
     <g id="line2d_573">
      <g>
       <use href="#m71ee6960a1" x="771.125" y="382.233333" style="stroke: #000000"/>
      </g>
     </g>
    </g>
    <g id="ytick_120">
     <g id="line2d_574">
      <g>
       <use href="#me99788c269" x="467.791667" y="367.933333" style="stroke: #000000"/>
      </g>
     </g>
     <g id="line2d_575">
      <g>
       <use href="#m71ee6960a1" x="771.125" y="367.933333" style="stroke: #000000"/>
      </g>
     </g>
    </g>
    <g id="ytick_121">
     <g id="line2d_576">
      <g>
       <use href="#me99788c269" x="467.791667" y="360.783333" style="stroke: #000000"/>
      </g>
     </g>
     <g id="line2d_577">
      <g>
       <use href="#m71ee6960a1" x="771.125" y="360.783333" style="stroke: #000000"/>
      </g>
     </g>
    </g>
    <g id="ytick_122">
     <g id="line2d_578">
      <g>
       <use href="#me99788c269" x="467.791667" y="353.633333" style="stroke: #000000"/>
      </g>
     </g>
     <g id="line2d_579">
      <g>
       <use href="#m71ee6960a1" x="771.125" y="353.633333" style="stroke: #000000"/>
      </g>
     </g>
    </g>
    <g id="ytick_123">
     <g id="line2d_580">
      <g>
       <use href="#me99788c269" x="467.791667" y="346.483333" style="stroke: #000000"/>
      </g>
     </g>
     <g id="line2d_581">
      <g>
       <use href="#m71ee6960a1" x="771.125" y="346.483333" style="stroke: #000000"/>
      </g>
     </g>
    </g>
   </g>
   <g id="line2d_582">
    <defs>
     <path id="ma3f88915fc" d="M 0 4.75 
C 1.259715 4.75 2.468004 4.24951 3.358757 3.358757 
C 4.24951 2.468004 4.75 1.259715 4.75 0 
C 4.75 -1.259715 4.24951 -2.468004 3.358757 -3.358757 
C 2.468004 -4.24951 1.259715 -4.75 0 -4.75 
C -1.259715 -4.75 -2.468004 -4.24951 -3.358757 -3.358757 
C -4.24951 -2.468004 -4.75 -1.259715 -4.75 0 
C -4.75 1.259715 -4.24951 2.468004 -3.358757 3.358757 
C -2.468004 4.24951 -1.259715 4.75 0 4.75 
z
" style="stroke: #0000ff; stroke-width: 2"/>
    </defs>
    <g clip-path="url(#p3e7ccab0fe)">
     <use href="#ma3f88915fc" x="543.625" y="570.635833" style="fill-opacity: 0; stroke: #0000ff; stroke-width: 2"/>
     <use href="#ma3f88915fc" x="562.583333" y="572.280333" style="fill-opacity: 0; stroke: #0000ff; stroke-width: 2"/>
     <use href="#ma3f88915fc" x="581.541667" y="563.557333" style="fill-opacity: 0; stroke: #0000ff; stroke-width: 2"/>
     <use href="#ma3f88915fc" x="600.5" y="557.765833" style="fill-opacity: 0; stroke: #0000ff; stroke-width: 2"/>
     <use href="#ma3f88915fc" x="619.458333" y="557.837333" style="fill-opacity: 0; stroke: #0000ff; stroke-width: 2"/>
     <use href="#ma3f88915fc" x="638.416667" y="554.190833" style="fill-opacity: 0; stroke: #0000ff; stroke-width: 2"/>
     <use href="#ma3f88915fc" x="676.333333" y="553.118333" style="fill-opacity: 0; stroke: #0000ff; stroke-width: 2"/>
     <use href="#ma3f88915fc" x="714.25" y="553.118333" style="fill-opacity: 0; stroke: #0000ff; stroke-width: 2"/>
     <use href="#ma3f88915fc" x="761.645833" y="547.970333" style="fill-opacity: 0; stroke: #0000ff; stroke-width: 2"/>
    </g>
   </g>
   <g id="line2d_583">
    <defs>
     <path id="m837d07b712" d="M 0 4.75 
C 1.259715 4.75 2.468004 4.24951 3.358757 3.358757 
C 4.24951 2.468004 4.75 1.259715 4.75 0 
C 4.75 -1.259715 4.24951 -2.468004 3.358757 -3.358757 
C 2.468004 -4.24951 1.259715 -4.75 0 -4.75 
C -1.259715 -4.75 -2.468004 -4.24951 -3.358757 -3.358757 
C -4.24951 -2.468004 -4.75 -1.259715 -4.75 0 
C -4.75 1.259715 -4.24951 2.468004 -3.358757 3.358757 
C -2.468004 4.24951 -1.259715 4.75 0 4.75 
z
" style="stroke: #008000; stroke-width: 2"/>
    </defs>
    <g clip-path="url(#p3e7ccab0fe)">
     <use href="#m837d07b712" x="524.666667" y="572.780833" style="fill-opacity: 0; stroke: #008000; stroke-width: 2"/>
     <use href="#m837d07b712" x="543.625" y="563.628833" style="fill-opacity: 0; stroke: #008000; stroke-width: 2"/>
     <use href="#m837d07b712" x="562.583333" y="559.982333" style="fill-opacity: 0; stroke: #008000; stroke-width: 2"/>
     <use href="#m837d07b712" x="581.541667" y="550.258333" style="fill-opacity: 0; stroke: #008000; stroke-width: 2"/>
     <use href="#m837d07b712" x="600.5" y="552.546333" style="fill-opacity: 0; stroke: #008000; stroke-width: 2"/>
     <use href="#m837d07b712" x="619.458333" y="551.044833" style="fill-opacity: 0; stroke: #008000; stroke-width: 2"/>
     <use href="#m837d07b712" x="638.416667" y="553.404333" style="fill-opacity: 0; stroke: #008000; stroke-width: 2"/>
     <use href="#m837d07b712" x="676.333333" y="557.408333" style="fill-opacity: 0; stroke: #008000; stroke-width: 2"/>
     <use href="#m837d07b712" x="714.25" y="557.408333" style="fill-opacity: 0; stroke: #008000; stroke-width: 2"/>
     <use href="#m837d07b712" x="761.645833" y="557.122333" style="fill-opacity: 0; stroke: #008000; stroke-width: 2"/>
    </g>
   </g>
   <g id="line2d_584">
    <defs>
     <path id="m5105cfa6a8" d="M 0 4.75 
C 1.259715 4.75 2.468004 4.24951 3.358757 3.358757 
C 4.24951 2.468004 4.75 1.259715 4.75 0 
C 4.75 -1.259715 4.24951 -2.468004 3.358757 -3.358757 
C 2.468004 -4.24951 1.259715 -4.75 0 -4.75 
C -1.259715 -4.75 -2.468004 -4.24951 -3.358757 -3.358757 
C -4.24951 -2.468004 -4.75 -1.259715 -4.75 0 
C -4.75 1.259715 -4.24951 2.468004 -3.358757 3.358757 
C -2.468004 4.24951 -1.259715 4.75 0 4.75 
z
" style="stroke: #ff0000; stroke-width: 2"/>
    </defs>
    <g clip-path="url(#p3e7ccab0fe)">
     <use href="#m5105cfa6a8" x="524.666667" y="558.123333" style="fill-opacity: 0; stroke: #ff0000; stroke-width: 2"/>
     <use href="#m5105cfa6a8" x="543.625" y="534.099333" style="fill-opacity: 0; stroke: #ff0000; stroke-width: 2"/>
     <use href="#m5105cfa6a8" x="562.583333" y="540.820333" style="fill-opacity: 0; stroke: #ff0000; stroke-width: 2"/>
     <use href="#m5105cfa6a8" x="581.541667" y="550.973333" style="fill-opacity: 0; stroke: #ff0000; stroke-width: 2"/>
     <use href="#m5105cfa6a8" x="600.5" y="555.763833" style="fill-opacity: 0; stroke: #ff0000; stroke-width: 2"/>
     <use href="#m5105cfa6a8" x="619.458333" y="555.620833" style="fill-opacity: 0; stroke: #ff0000; stroke-width: 2"/>
     <use href="#m5105cfa6a8" x="638.416667" y="562.556333" style="fill-opacity: 0; stroke: #ff0000; stroke-width: 2"/>
     <use href="#m5105cfa6a8" x="676.333333" y="561.126333" style="fill-opacity: 0; stroke: #ff0000; stroke-width: 2"/>
     <use href="#m5105cfa6a8" x="714.25" y="565.416333" style="fill-opacity: 0; stroke: #ff0000; stroke-width: 2"/>
     <use href="#m5105cfa6a8" x="761.645833" y="565.130333" style="fill-opacity: 0; stroke: #ff0000; stroke-width: 2"/>
    </g>
   </g>
   <g id="line2d_585">
    <defs>
     <path id="mdb3ce2833f" d="M 0 4.75 
C 1.259715 4.75 2.468004 4.24951 3.358757 3.358757 
C 4.24951 2.468004 4.75 1.259715 4.75 0 
C 4.75 -1.259715 4.24951 -2.468004 3.358757 -3.358757 
C 2.468004 -4.24951 1.259715 -4.75 0 -4.75 
C -1.259715 -4.75 -2.468004 -4.24951 -3.358757 -3.358757 
C -4.24951 -2.468004 -4.75 -1.259715 -4.75 0 
C -4.75 1.259715 -4.24951 2.468004 -3.358757 3.358757 
C -2.468004 4.24951 -1.259715 4.75 0 4.75 
z
" style="stroke: #000000; stroke-width: 2"/>
    </defs>
    <g clip-path="url(#p3e7ccab0fe)">
     <use href="#mdb3ce2833f" x="486.75" y="490.198333" style="fill-opacity: 0; stroke: #000000; stroke-width: 2"/>
     <use href="#mdb3ce2833f" x="505.708333" y="534.814333" style="fill-opacity: 0; stroke: #000000; stroke-width: 2"/>
     <use href="#mdb3ce2833f" x="524.666667" y="547.183833" style="fill-opacity: 0; stroke: #000000; stroke-width: 2"/>
     <use href="#mdb3ce2833f" x="543.625" y="555.334833" style="fill-opacity: 0; stroke: #000000; stroke-width: 2"/>
     <use href="#mdb3ce2833f" x="562.583333" y="555.263333" style="fill-opacity: 0; stroke: #000000; stroke-width: 2"/>
     <use href="#mdb3ce2833f" x="581.541667" y="561.340833" style="fill-opacity: 0; stroke: #000000; stroke-width: 2"/>
     <use href="#mdb3ce2833f" x="600.5" y="563.700333" style="fill-opacity: 0; stroke: #000000; stroke-width: 2"/>
     <use href="#mdb3ce2833f" x="619.458333" y="564.415333" style="fill-opacity: 0; stroke: #000000; stroke-width: 2"/>
     <use href="#mdb3ce2833f" x="638.416667" y="567.060833" style="fill-opacity: 0; stroke: #000000; stroke-width: 2"/>
     <use href="#mdb3ce2833f" x="676.333333" y="567.704333" style="fill-opacity: 0; stroke: #000000; stroke-width: 2"/>
     <use href="#mdb3ce2833f" x="714.25" y="569.134333" style="fill-opacity: 0; stroke: #000000; stroke-width: 2"/>
     <use href="#mdb3ce2833f" x="761.645833" y="569.420333" style="fill-opacity: 0; stroke: #000000; stroke-width: 2"/>
    </g>
   </g>
   <g id="line2d_586">
    <defs>
     <path id="m6c2074006d" d="M 0 4.75 
C 1.259715 4.75 2.468004 4.24951 3.358757 3.358757 
C 4.24951 2.468004 4.75 1.259715 4.75 0 
C 4.75 -1.259715 4.24951 -2.468004 3.358757 -3.358757 
C 2.468004 -4.24951 1.259715 -4.75 0 -4.75 
C -1.259715 -4.75 -2.468004 -4.24951 -3.358757 -3.358757 
C -4.24951 -2.468004 -4.75 -1.259715 -4.75 0 
C -4.75 1.259715 -4.24951 2.468004 -3.358757 3.358757 
C -2.468004 4.24951 -1.259715 4.75 0 4.75 
z
" style="stroke: #ffa500; stroke-width: 2"/>
    </defs>
    <g clip-path="url(#p3e7ccab0fe)">
     <use href="#m6c2074006d" x="486.75" y="562.413333" style="fill-opacity: 0; stroke: #ffa500; stroke-width: 2"/>
     <use href="#m6c2074006d" x="505.708333" y="565.988333" style="fill-opacity: 0; stroke: #ffa500; stroke-width: 2"/>
     <use href="#m6c2074006d" x="524.666667" y="565.559333" style="fill-opacity: 0; stroke: #ffa500; stroke-width: 2"/>
     <use href="#m6c2074006d" x="543.625" y="565.058833" style="fill-opacity: 0; stroke: #ffa500; stroke-width: 2"/>
     <use href="#m6c2074006d" x="562.583333" y="566.917833" style="fill-opacity: 0; stroke: #ffa500; stroke-width: 2"/>
     <use href="#m6c2074006d" x="581.541667" y="568.347833" style="fill-opacity: 0; stroke: #ffa500; stroke-width: 2"/>
     <use href="#m6c2074006d" x="600.5" y="568.991333" style="fill-opacity: 0; stroke: #ffa500; stroke-width: 2"/>
     <use href="#m6c2074006d" x="619.458333" y="570.635833" style="fill-opacity: 0; stroke: #ffa500; stroke-width: 2"/>
     <use href="#m6c2074006d" x="638.416667" y="570.349833" style="fill-opacity: 0; stroke: #ffa500; stroke-width: 2"/>
     <use href="#m6c2074006d" x="676.333333" y="570.993333" style="fill-opacity: 0; stroke: #ffa500; stroke-width: 2"/>
     <use href="#m6c2074006d" x="714.25" y="570.993333" style="fill-opacity: 0; stroke: #ffa500; stroke-width: 2"/>
     <use href="#m6c2074006d" x="761.645833" y="571.922833" style="fill-opacity: 0; stroke: #ffa500; stroke-width: 2"/>
    </g>
   </g>
   <g id="line2d_587">
    <defs>
     <path id="mf7a4c8ce0c" d="M 0 4.75 
C 1.259715 4.75 2.468004 4.24951 3.358757 3.358757 
C 4.24951 2.468004 4.75 1.259715 4.75 0 
C 4.75 -1.259715 4.24951 -2.468004 3.358757 -3.358757 
C 2.468004 -4.24951 1.259715 -4.75 0 -4.75 
C -1.259715 -4.75 -2.468004 -4.24951 -3.358757 -3.358757 
C -4.24951 -2.468004 -4.75 -1.259715 -4.75 0 
C -4.75 1.259715 -4.24951 2.468004 -3.358757 3.358757 
C -2.468004 4.24951 -1.259715 4.75 0 4.75 
z
" style="stroke: #ff00ff; stroke-width: 2"/>
    </defs>
    <g clip-path="url(#p3e7ccab0fe)">
     <use href="#mf7a4c8ce0c" x="505.708333" y="568.848333" style="fill-opacity: 0; stroke: #ff00ff; stroke-width: 2"/>
     <use href="#mf7a4c8ce0c" x="524.666667" y="569.420333" style="fill-opacity: 0; stroke: #ff00ff; stroke-width: 2"/>
     <use href="#mf7a4c8ce0c" x="543.625" y="571.922833" style="fill-opacity: 0; stroke: #ff00ff; stroke-width: 2"/>
     <use href="#mf7a4c8ce0c" x="562.583333" y="571.279333" style="fill-opacity: 0; stroke: #ff00ff; stroke-width: 2"/>
     <use href="#mf7a4c8ce0c" x="581.541667" y="571.779833" style="fill-opacity: 0; stroke: #ff00ff; stroke-width: 2"/>
     <use href="#mf7a4c8ce0c" x="600.5" y="573.281333" style="fill-opacity: 0; stroke: #ff00ff; stroke-width: 2"/>
     <use href="#mf7a4c8ce0c" x="619.458333" y="574.067833" style="fill-opacity: 0; stroke: #ff00ff; stroke-width: 2"/>
     <use href="#mf7a4c8ce0c" x="638.416667" y="572.995333" style="fill-opacity: 0; stroke: #ff00ff; stroke-width: 2"/>
     <use href="#mf7a4c8ce0c" x="676.333333" y="574.711333" style="fill-opacity: 0; stroke: #ff00ff; stroke-width: 2"/>
     <use href="#mf7a4c8ce0c" x="714.25" y="573.781833" style="fill-opacity: 0; stroke: #ff00ff; stroke-width: 2"/>
     <use href="#mf7a4c8ce0c" x="761.645833" y="574.353833" style="fill-opacity: 0; stroke: #ff00ff; stroke-width: 2"/>
    </g>
   </g>
   <g id="patch_14">
    <path d="M 467.791667 589.583333 
L 467.791667 339.333333 
" style="fill: none; stroke: #000000; stroke-linejoin: miter; stroke-linecap: square"/>
   </g>
   <g id="patch_15">
    <path d="M 771.125 589.583333 
L 771.125 339.333333 
" style="fill: none; stroke: #000000; stroke-linejoin: miter; stroke-linecap: square"/>
   </g>
   <g id="patch_16">
    <path d="M 467.791667 589.583333 
L 771.125 589.583333 
" style="fill: none; stroke: #000000; stroke-linejoin: miter; stroke-linecap: square"/>
   </g>
   <g id="patch_17">
    <path d="M 467.791667 339.333333 
L 771.125 339.333333 
" style="fill: none; stroke: #000000; stroke-linejoin: miter; stroke-linecap: square"/>
   </g>
   <g id="LineCollection_13">
    <path d="M 543.625 572.780833 
L 543.625 568.490833 
" clip-path="url(#p3e7ccab0fe)" style="fill: none; stroke: #0000ff; stroke-width: 1.5"/>
    <path d="M 562.583333 574.425333 
L 562.583333 570.135333 
" clip-path="url(#p3e7ccab0fe)" style="fill: none; stroke: #0000ff; stroke-width: 1.5"/>
    <path d="M 581.541667 567.132333 
L 581.541667 559.982333 
" clip-path="url(#p3e7ccab0fe)" style="fill: none; stroke: #0000ff; stroke-width: 1.5"/>
    <path d="M 600.5 560.625833 
L 600.5 554.905833 
" clip-path="url(#p3e7ccab0fe)" style="fill: none; stroke: #0000ff; stroke-width: 1.5"/>
    <path d="M 619.458333 560.697333 
L 619.458333 554.977333 
" clip-path="url(#p3e7ccab0fe)" style="fill: none; stroke: #0000ff; stroke-width: 1.5"/>
    <path d="M 638.416667 557.050833 
L 638.416667 551.330833 
" clip-path="url(#p3e7ccab0fe)" style="fill: none; stroke: #0000ff; stroke-width: 1.5"/>
    <path d="M 676.333333 559.910833 
L 676.333333 546.325833 
" clip-path="url(#p3e7ccab0fe)" style="fill: none; stroke: #0000ff; stroke-width: 1.5"/>
    <path d="M 714.25 560.268333 
L 714.25 545.968333 
" clip-path="url(#p3e7ccab0fe)" style="fill: none; stroke: #0000ff; stroke-width: 1.5"/>
    <path d="M 761.645833 555.835333 
L 761.645833 540.105333 
" clip-path="url(#p3e7ccab0fe)" style="fill: none; stroke: #0000ff; stroke-width: 1.5"/>
   </g>
   <g id="LineCollection_14">
    <path d="M 524.666667 577.070833 
L 524.666667 568.490833 
" clip-path="url(#p3e7ccab0fe)" style="fill: none; stroke: #008000; stroke-width: 1.5"/>
    <path d="M 543.625 565.773833 
L 543.625 561.483833 
" clip-path="url(#p3e7ccab0fe)" style="fill: none; stroke: #008000; stroke-width: 1.5"/>
    <path d="M 562.583333 563.914833 
L 562.583333 556.049833 
" clip-path="url(#p3e7ccab0fe)" style="fill: none; stroke: #008000; stroke-width: 1.5"/>
    <path d="M 581.541667 553.833333 
L 581.541667 546.683333 
" clip-path="url(#p3e7ccab0fe)" style="fill: none; stroke: #008000; stroke-width: 1.5"/>
    <path d="M 600.5 556.407333 
L 600.5 548.685333 
" clip-path="url(#p3e7ccab0fe)" style="fill: none; stroke: #008000; stroke-width: 1.5"/>
    <path d="M 619.458333 554.977333 
L 619.458333 547.112333 
" clip-path="url(#p3e7ccab0fe)" style="fill: none; stroke: #008000; stroke-width: 1.5"/>
    <path d="M 638.416667 556.979333 
L 638.416667 549.829333 
" clip-path="url(#p3e7ccab0fe)" style="fill: none; stroke: #008000; stroke-width: 1.5"/>
    <path d="M 676.333333 560.268333 
L 676.333333 554.548333 
" clip-path="url(#p3e7ccab0fe)" style="fill: none; stroke: #008000; stroke-width: 1.5"/>
    <path d="M 714.25 560.268333 
L 714.25 554.548333 
" clip-path="url(#p3e7ccab0fe)" style="fill: none; stroke: #008000; stroke-width: 1.5"/>
    <path d="M 761.645833 559.982333 
L 761.645833 554.262333 
" clip-path="url(#p3e7ccab0fe)" style="fill: none; stroke: #008000; stroke-width: 1.5"/>
   </g>
   <g id="LineCollection_15">
    <path d="M 524.666667 563.843333 
L 524.666667 552.403333 
" clip-path="url(#p3e7ccab0fe)" style="fill: none; stroke: #ff0000; stroke-width: 1.5"/>
    <path d="M 543.625 551.616833 
L 543.625 516.581833 
" clip-path="url(#p3e7ccab0fe)" style="fill: none; stroke: #ff0000; stroke-width: 1.5"/>
    <path d="M 562.583333 551.545333 
L 562.583333 530.095333 
" clip-path="url(#p3e7ccab0fe)" style="fill: none; stroke: #ff0000; stroke-width: 1.5"/>
    <path d="M 581.541667 556.550333 
L 581.541667 545.396333 
" clip-path="url(#p3e7ccab0fe)" style="fill: none; stroke: #ff0000; stroke-width: 1.5"/>
    <path d="M 600.5 559.410333 
L 600.5 552.117333 
" clip-path="url(#p3e7ccab0fe)" style="fill: none; stroke: #ff0000; stroke-width: 1.5"/>
    <path d="M 619.458333 558.480833 
L 619.458333 552.760833 
" clip-path="url(#p3e7ccab0fe)" style="fill: none; stroke: #ff0000; stroke-width: 1.5"/>
    <path d="M 638.416667 565.416333 
L 638.416667 559.696333 
" clip-path="url(#p3e7ccab0fe)" style="fill: none; stroke: #ff0000; stroke-width: 1.5"/>
    <path d="M 676.333333 563.271333 
L 676.333333 558.981333 
" clip-path="url(#p3e7ccab0fe)" style="fill: none; stroke: #ff0000; stroke-width: 1.5"/>
    <path d="M 714.25 567.561333 
L 714.25 563.271333 
" clip-path="url(#p3e7ccab0fe)" style="fill: none; stroke: #ff0000; stroke-width: 1.5"/>
    <path d="M 761.645833 567.275333 
L 761.645833 562.985333 
" clip-path="url(#p3e7ccab0fe)" style="fill: none; stroke: #ff0000; stroke-width: 1.5"/>
   </g>
   <g id="LineCollection_16">
    <path d="M 486.75 512.363333 
L 486.75 468.033333 
" clip-path="url(#p3e7ccab0fe)" style="fill: none; stroke: #000000; stroke-width: 1.5"/>
    <path d="M 505.708333 542.893833 
L 505.708333 526.734833 
" clip-path="url(#p3e7ccab0fe)" style="fill: none; stroke: #000000; stroke-width: 1.5"/>
    <path d="M 524.666667 553.976333 
L 524.666667 540.391333 
" clip-path="url(#p3e7ccab0fe)" style="fill: none; stroke: #000000; stroke-width: 1.5"/>
    <path d="M 543.625 556.764833 
L 543.625 553.904833 
" clip-path="url(#p3e7ccab0fe)" style="fill: none; stroke: #000000; stroke-width: 1.5"/>
    <path d="M 562.583333 558.909833 
L 562.583333 551.616833 
" clip-path="url(#p3e7ccab0fe)" style="fill: none; stroke: #000000; stroke-width: 1.5"/>
    <path d="M 581.541667 564.200833 
L 581.541667 558.480833 
" clip-path="url(#p3e7ccab0fe)" style="fill: none; stroke: #000000; stroke-width: 1.5"/>
    <path d="M 600.5 566.560333 
L 600.5 560.840333 
" clip-path="url(#p3e7ccab0fe)" style="fill: none; stroke: #000000; stroke-width: 1.5"/>
    <path d="M 619.458333 567.060833 
L 619.458333 561.769833 
" clip-path="url(#p3e7ccab0fe)" style="fill: none; stroke: #000000; stroke-width: 1.5"/>
    <path d="M 638.416667 569.205833 
L 638.416667 564.915833 
" clip-path="url(#p3e7ccab0fe)" style="fill: none; stroke: #000000; stroke-width: 1.5"/>
    <path d="M 676.333333 569.491833 
L 676.333333 565.916833 
" clip-path="url(#p3e7ccab0fe)" style="fill: none; stroke: #000000; stroke-width: 1.5"/>
    <path d="M 714.25 570.921833 
L 714.25 567.346833 
" clip-path="url(#p3e7ccab0fe)" style="fill: none; stroke: #000000; stroke-width: 1.5"/>
    <path d="M 761.645833 571.207833 
L 761.645833 567.632833 
" clip-path="url(#p3e7ccab0fe)" style="fill: none; stroke: #000000; stroke-width: 1.5"/>
   </g>
   <g id="LineCollection_17">
    <path d="M 486.75 564.558333 
L 486.75 560.268333 
" clip-path="url(#p3e7ccab0fe)" style="fill: none; stroke: #ffa500; stroke-width: 1.5"/>
    <path d="M 505.708333 567.775833 
L 505.708333 564.200833 
" clip-path="url(#p3e7ccab0fe)" style="fill: none; stroke: #ffa500; stroke-width: 1.5"/>
    <path d="M 524.666667 567.346833 
L 524.666667 563.771833 
" clip-path="url(#p3e7ccab0fe)" style="fill: none; stroke: #ffa500; stroke-width: 1.5"/>
    <path d="M 543.625 566.846333 
L 543.625 563.271333 
" clip-path="url(#p3e7ccab0fe)" style="fill: none; stroke: #ffa500; stroke-width: 1.5"/>
    <path d="M 562.583333 568.705333 
L 562.583333 565.130333 
" clip-path="url(#p3e7ccab0fe)" style="fill: none; stroke: #ffa500; stroke-width: 1.5"/>
    <path d="M 581.541667 570.135333 
L 581.541667 566.560333 
" clip-path="url(#p3e7ccab0fe)" style="fill: none; stroke: #ffa500; stroke-width: 1.5"/>
    <path d="M 600.5 570.778833 
L 600.5 567.203833 
" clip-path="url(#p3e7ccab0fe)" style="fill: none; stroke: #ffa500; stroke-width: 1.5"/>
    <path d="M 619.458333 572.423333 
L 619.458333 568.848333 
" clip-path="url(#p3e7ccab0fe)" style="fill: none; stroke: #ffa500; stroke-width: 1.5"/>
    <path d="M 638.416667 572.137333 
L 638.416667 568.562333 
" clip-path="url(#p3e7ccab0fe)" style="fill: none; stroke: #ffa500; stroke-width: 1.5"/>
    <path d="M 676.333333 572.780833 
L 676.333333 569.205833 
" clip-path="url(#p3e7ccab0fe)" style="fill: none; stroke: #ffa500; stroke-width: 1.5"/>
    <path d="M 714.25 572.780833 
L 714.25 569.205833 
" clip-path="url(#p3e7ccab0fe)" style="fill: none; stroke: #ffa500; stroke-width: 1.5"/>
    <path d="M 761.645833 573.710333 
L 761.645833 570.135333 
" clip-path="url(#p3e7ccab0fe)" style="fill: none; stroke: #ffa500; stroke-width: 1.5"/>
   </g>
   <g id="LineCollection_18">
    <path d="M 505.708333 570.635833 
L 505.708333 567.060833 
" clip-path="url(#p3e7ccab0fe)" style="fill: none; stroke: #ff00ff; stroke-width: 1.5"/>
    <path d="M 524.666667 571.922833 
L 524.666667 566.917833 
" clip-path="url(#p3e7ccab0fe)" style="fill: none; stroke: #ff00ff; stroke-width: 1.5"/>
    <path d="M 543.625 573.710333 
L 543.625 570.135333 
" clip-path="url(#p3e7ccab0fe)" style="fill: none; stroke: #ff00ff; stroke-width: 1.5"/>
    <path d="M 562.583333 573.066833 
L 562.583333 569.491833 
" clip-path="url(#p3e7ccab0fe)" style="fill: none; stroke: #ff00ff; stroke-width: 1.5"/>
    <path d="M 581.541667 573.567333 
L 581.541667 569.992333 
" clip-path="url(#p3e7ccab0fe)" style="fill: none; stroke: #ff00ff; stroke-width: 1.5"/>
    <path d="M 600.5 575.068833 
L 600.5 571.493833 
" clip-path="url(#p3e7ccab0fe)" style="fill: none; stroke: #ff00ff; stroke-width: 1.5"/>
    <path d="M 619.458333 575.855333 
L 619.458333 572.280333 
" clip-path="url(#p3e7ccab0fe)" style="fill: none; stroke: #ff00ff; stroke-width: 1.5"/>
    <path d="M 638.416667 574.782833 
L 638.416667 571.207833 
" clip-path="url(#p3e7ccab0fe)" style="fill: none; stroke: #ff00ff; stroke-width: 1.5"/>
    <path d="M 676.333333 576.498833 
L 676.333333 572.923833 
" clip-path="url(#p3e7ccab0fe)" style="fill: none; stroke: #ff00ff; stroke-width: 1.5"/>
    <path d="M 714.25 575.569333 
L 714.25 571.994333 
" clip-path="url(#p3e7ccab0fe)" style="fill: none; stroke: #ff00ff; stroke-width: 1.5"/>
    <path d="M 761.645833 576.141333 
L 761.645833 572.566333 
" clip-path="url(#p3e7ccab0fe)" style="fill: none; stroke: #ff00ff; stroke-width: 1.5"/>
   </g>
   <g id="line2d_588">
    <path d="M 467.791667 585.042921 
L 476.302021 584.634166 
L 484.812375 584.006774 
L 493.322729 583.159538 
L 501.833083 582.091252 
L 510.343437 580.800707 
L 518.853791 579.286697 
L 527.364145 577.548016 
L 535.874499 575.583456 
L 544.384853 573.392011 
L 554.110972 570.643915 
L 570.523798 565.724997 
L 584.505094 561.627455 
L 593.62333 559.18407 
L 600.917919 557.441861 
L 607.604626 556.059942 
L 613.68345 555.017645 
L 619.762275 554.210862 
L 625.841099 553.655728 
L 632.527806 553.294773 
L 639.822395 553.131448 
L 648.332749 553.162955 
L 658.058868 553.422579 
L 670.824399 554.001189 
L 702.434285 555.537723 
L 712.160404 555.736939 
L 721.278641 555.700307 
L 737.083584 555.356078 
L 749.241232 555.19592 
L 757.143704 555.297328 
L 763.830411 555.581527 
L 769.909235 556.041911 
L 771.125 556.160494 
L 771.125 556.160494 
" clip-path="url(#p3e7ccab0fe)" style="fill: none; stroke: #0000ff; stroke-width: 1.7"/>
   </g>
   <g id="line2d_589">
    <path d="M 467.791667 583.158183 
L 474.478373 582.777124 
L 481.16508 582.161674 
L 487.243904 581.38704 
L 493.322729 580.39669 
L 499.401553 579.180144 
L 505.480377 577.726923 
L 511.559202 576.026549 
L 517.030144 574.276236 
L 522.501086 572.309602 
L 527.972027 570.119009 
L 533.442969 567.696816 
L 539.521794 564.75391 
L 557.150384 556.043495 
L 562.013444 553.967449 
L 566.268621 552.390676 
L 569.915915 551.261172 
L 573.56321 550.36596 
L 577.210504 549.6965 
L 580.857799 549.233208 
L 585.112976 548.927146 
L 589.368153 548.843945 
L 594.231212 548.981851 
L 599.702154 549.378572 
L 606.388861 550.117727 
L 616.11498 551.457141 
L 629.488393 553.260313 
L 641.646042 554.671251 
L 654.411573 555.931006 
L 667.784987 557.023246 
L 681.766283 557.934702 
L 696.355461 558.655699 
L 711.552522 559.180717 
L 727.965347 559.517547 
L 745.593938 559.648645 
L 765.046176 559.562487 
L 771.125 559.493964 
L 771.125 559.493964 
" clip-path="url(#p3e7ccab0fe)" style="fill: none; stroke: #008000; stroke-width: 1.7"/>
   </g>
   <g id="line2d_590">
    <path d="M 467.791667 580.397131 
L 470.831079 578.874756 
L 474.478373 577.324898 
L 479.341433 575.543237 
L 487.243904 572.700665 
L 490.891199 571.142759 
L 493.930611 569.610945 
L 496.970023 567.797168 
L 499.401553 566.099262 
L 501.833083 564.145693 
L 504.264613 561.903035 
L 506.696142 559.338966 
L 509.127672 556.462553 
L 512.167084 552.522585 
L 516.422261 546.592548 
L 524.932615 534.585063 
L 527.972027 530.727293 
L 529.795675 528.719942 
L 531.619322 527.047782 
L 532.835087 526.161531 
L 534.050852 525.487713 
L 535.266617 525.049009 
L 536.482381 524.845803 
L 537.698146 524.86585 
L 538.913911 525.082051 
L 540.737558 525.697675 
L 543.169088 526.878458 
L 547.424265 529.314335 
L 552.895207 532.758788 
L 566.876503 541.745747 
L 571.13168 544.131087 
L 574.778975 545.936059 
L 579.034152 547.783117 
L 583.289329 549.385259 
L 588.152388 550.961814 
L 593.62333 552.474189 
L 599.702154 553.918464 
L 607.604626 555.563421 
L 616.11498 557.094947 
L 624.625334 558.396062 
L 633.74357 559.555848 
L 642.861807 560.49596 
L 652.587926 561.282742 
L 663.52981 561.935688 
L 675.079576 562.400863 
L 688.452989 562.712956 
L 705.473697 562.869176 
L 756.535822 563.161891 
L 769.909235 563.552749 
L 771.125 563.600685 
L 771.125 563.600685 
" clip-path="url(#p3e7ccab0fe)" style="fill: none; stroke: #ff0000; stroke-width: 1.7"/>
   </g>
   <g id="line2d_591">
    <path d="M 467.791667 553.475833 
L 469.01655 547.519081 
L 470.122896 541.167226 
L 471.367535 532.56194 
L 472.888761 520.488554 
L 473.441934 514.003005 
L 474.153156 502.441796 
L 474.943403 486.312291 
L 475.457064 470.27327 
L 475.911456 448.523954 
L 476.14853 428.032039 
L 476.602923 391.044239 
L 477.23512 342.455024 
L 477.65 303.583333 
L 477.65 303.583333 
" clip-path="url(#p3e7ccab0fe)" style="fill: none; stroke: #000000; stroke-width: 1.7"/>
   </g>
   <g id="line2d_592">
    <path d="M 481.0625 304.613636 
L 481.596001 347.496669 
L 482.205716 378.455106 
L 482.891646 402.114299 
L 483.65379 420.911836 
L 484.492148 436.276369 
L 485.406721 449.110144 
L 486.397508 460.015488 
L 487.46451 469.412176 
L 488.607726 477.60297 
L 489.827157 484.812457 
L 491.122802 491.211189 
L 492.494661 496.931275 
L 494.018949 502.326487 
L 495.619451 507.160461 
L 497.148551 511.160468 
L 498.987319 515.342085 
L 500.826087 518.978094 
L 502.664855 522.177271 
L 504.503623 525.020057 
L 506.342391 527.567431 
L 509.100543 530.935031 
L 511.858696 533.861639 
L 514.616848 536.433808 
L 517.375 538.715872 
L 520.133152 540.756804 
L 523.810688 543.167521 
L 527.488225 545.285384 
L 531.165761 547.162203 
L 535.762681 549.228926 
L 540.359601 551.039668 
L 545.875906 552.936716 
L 551.39221 554.587006 
L 557.827899 556.258063 
L 564.263587 557.704421 
L 571.618659 559.132229 
L 579.893116 560.50362 
L 589.086957 561.790377 
L 599.200181 562.972612 
L 610.23279 564.037211 
L 623.104167 565.040595 
L 636.894928 565.887012 
L 652.524457 566.618248 
L 669.992754 567.207259 
L 689.299819 567.63598 
L 711.365036 567.900267 
L 736.188406 567.971386 
L 764.689312 567.822471 
L 771.125 567.760473 
L 771.125 567.760473 
" clip-path="url(#p3e7ccab0fe)" style="fill: none; stroke: #000000; stroke-width: 1.7"/>
   </g>
   <g id="line2d_593">
    <path d="M 467.791667 563.661878 
L 532.227204 566.613291 
L 592.407565 569.287141 
L 630.096276 570.738147 
L 661.706162 571.735735 
L 689.668754 572.401895 
L 715.807699 572.803941 
L 740.122996 572.957115 
L 763.222528 572.880879 
L 771.125 572.801057 
L 771.125 572.801057 
" clip-path="url(#p3e7ccab0fe)" style="fill: none; stroke: #ffa500; stroke-width: 1.7"/>
   </g>
   <g id="line2d_594">
    <path d="M 467.791667 576.092306 
L 482.988727 575.270233 
L 498.793671 574.641438 
L 515.206496 574.209407 
L 532.835087 573.96854 
L 551.679442 573.933141 
L 572.955327 574.12353 
L 597.270625 574.574411 
L 628.272629 575.389073 
L 710.336757 577.66748 
L 734.652054 578.048886 
L 755.320057 578.158608 
L 771.125 578.077221 
L 771.125 578.077221 
" clip-path="url(#p3e7ccab0fe)" style="fill: none; stroke: #ff00ff; stroke-width: 1.7"/>
   </g>
  </g>
  <g id="axes_5">
   <g id="patch_18">
    <path d="M 136.541667 497.958333 
L 312.5 497.958333 
L 312.5 354.416667 
L 136.541667 354.416667 
z
" style="fill: #ffffff"/>
   </g>
   <g id="matplotlib.axis_9">
    <g id="xtick_153">
     <g id="line2d_595">
      <defs>
       <path id="mdae80e0adf" d="M 0 0 
L 0 -12 
" style="stroke: #000000"/>
      </defs>
      <g>
       <use href="#mdae80e0adf" x="161.678571" y="497.958333" style="stroke: #000000"/>
      </g>
     </g>
     <g id="line2d_596">
      <defs>
       <path id="md47f3b97aa" d="M 0 0 
L 0 12 
" style="stroke: #000000"/>
      </defs>
      <g>
       <use href="#md47f3b97aa" x="161.678571" y="354.416667" style="stroke: #000000"/>
      </g>
     </g>
     <g id="text_60">
      <text style="font-size: 11.904px; font-family: 'DejaVu Sans', 'Liberation Sans', sans-serif; text-anchor: middle" x="161.678571" y="510.503513">200</text>
     </g>
    </g>
    <g id="xtick_154">
     <g id="line2d_597">
      <g>
       <use href="#mdae80e0adf" x="211.952381" y="497.958333" style="stroke: #000000"/>
      </g>
     </g>
     <g id="line2d_598">
      <g>
       <use href="#md47f3b97aa" x="211.952381" y="354.416667" style="stroke: #000000"/>
      </g>
     </g>
     <g id="text_61">
      <text style="font-size: 11.904px; font-family: 'DejaVu Sans', 'Liberation Sans', sans-serif; text-anchor: middle" x="211.952381" y="510.503513">220</text>
     </g>
    </g>
    <g id="xtick_155">
     <g id="line2d_599">
      <g>
       <use href="#mdae80e0adf" x="262.22619" y="497.958333" style="stroke: #000000"/>
      </g>
     </g>
     <g id="line2d_600">
      <g>
       <use href="#md47f3b97aa" x="262.22619" y="354.416667" style="stroke: #000000"/>
      </g>
     </g>
     <g id="text_62">
      <text style="font-size: 11.904px; font-family: 'DejaVu Sans', 'Liberation Sans', sans-serif; text-anchor: middle" x="262.22619" y="510.503513">240</text>
     </g>
    </g>
    <g id="xtick_156">
     <g id="line2d_601">
      <g>
       <use href="#mdae80e0adf" x="312.5" y="497.958333" style="stroke: #000000"/>
      </g>
     </g>
     <g id="line2d_602">
      <g>
       <use href="#md47f3b97aa" x="312.5" y="354.416667" style="stroke: #000000"/>
      </g>
     </g>
     <g id="text_63">
      <text style="font-size: 11.904px; font-family: 'DejaVu Sans', 'Liberation Sans', sans-serif; text-anchor: middle" x="312.5" y="510.503513">260</text>
     </g>
    </g>
    <g id="xtick_157">
     <g id="line2d_603">
      <defs>
       <path id="m6d29f7ebc7" d="M 0 0 
L 0 -4 
" style="stroke: #000000"/>
      </defs>
      <g>
       <use href="#m6d29f7ebc7" x="136.541667" y="497.958333" style="stroke: #000000"/>
      </g>
     </g>
     <g id="line2d_604">
      <defs>
       <path id="m38d85b45bb" d="M 0 0 
L 0 4 
" style="stroke: #000000"/>
      </defs>
      <g>
       <use href="#m38d85b45bb" x="136.541667" y="354.416667" style="stroke: #000000"/>
      </g>
     </g>
    </g>
    <g id="xtick_158">
     <g id="line2d_605">
      <g>
       <use href="#m6d29f7ebc7" x="149.110119" y="497.958333" style="stroke: #000000"/>
      </g>
     </g>
     <g id="line2d_606">
      <g>
       <use href="#m38d85b45bb" x="149.110119" y="354.416667" style="stroke: #000000"/>
      </g>
     </g>
    </g>
    <g id="xtick_159">
     <g id="line2d_607">
      <g>
       <use href="#m6d29f7ebc7" x="174.247024" y="497.958333" style="stroke: #000000"/>
      </g>
     </g>
     <g id="line2d_608">
      <g>
       <use href="#m38d85b45bb" x="174.247024" y="354.416667" style="stroke: #000000"/>
      </g>
     </g>
    </g>
    <g id="xtick_160">
     <g id="line2d_609">
      <g>
       <use href="#m6d29f7ebc7" x="186.815476" y="497.958333" style="stroke: #000000"/>
      </g>
     </g>
     <g id="line2d_610">
      <g>
       <use href="#m38d85b45bb" x="186.815476" y="354.416667" style="stroke: #000000"/>
      </g>
     </g>
    </g>
    <g id="xtick_161">
     <g id="line2d_611">
      <g>
       <use href="#m6d29f7ebc7" x="199.383929" y="497.958333" style="stroke: #000000"/>
      </g>
     </g>
     <g id="line2d_612">
      <g>
       <use href="#m38d85b45bb" x="199.383929" y="354.416667" style="stroke: #000000"/>
      </g>
     </g>
    </g>
    <g id="xtick_162">
     <g id="line2d_613">
      <g>
       <use href="#m6d29f7ebc7" x="224.520833" y="497.958333" style="stroke: #000000"/>
      </g>
     </g>
     <g id="line2d_614">
      <g>
       <use href="#m38d85b45bb" x="224.520833" y="354.416667" style="stroke: #000000"/>
      </g>
     </g>
    </g>
    <g id="xtick_163">
     <g id="line2d_615">
      <g>
       <use href="#m6d29f7ebc7" x="237.089286" y="497.958333" style="stroke: #000000"/>
      </g>
     </g>
     <g id="line2d_616">
      <g>
       <use href="#m38d85b45bb" x="237.089286" y="354.416667" style="stroke: #000000"/>
      </g>
     </g>
    </g>
    <g id="xtick_164">
     <g id="line2d_617">
      <g>
       <use href="#m6d29f7ebc7" x="249.657738" y="497.958333" style="stroke: #000000"/>
      </g>
     </g>
     <g id="line2d_618">
      <g>
       <use href="#m38d85b45bb" x="249.657738" y="354.416667" style="stroke: #000000"/>
      </g>
     </g>
    </g>
    <g id="xtick_165">
     <g id="line2d_619">
      <g>
       <use href="#m6d29f7ebc7" x="274.794643" y="497.958333" style="stroke: #000000"/>
      </g>
     </g>
     <g id="line2d_620">
      <g>
       <use href="#m38d85b45bb" x="274.794643" y="354.416667" style="stroke: #000000"/>
      </g>
     </g>
    </g>
    <g id="xtick_166">
     <g id="line2d_621">
      <g>
       <use href="#m6d29f7ebc7" x="287.363095" y="497.958333" style="stroke: #000000"/>
      </g>
     </g>
     <g id="line2d_622">
      <g>
       <use href="#m38d85b45bb" x="287.363095" y="354.416667" style="stroke: #000000"/>
      </g>
     </g>
    </g>
    <g id="xtick_167">
     <g id="line2d_623">
      <g>
       <use href="#m6d29f7ebc7" x="299.931548" y="497.958333" style="stroke: #000000"/>
      </g>
     </g>
     <g id="line2d_624">
      <g>
       <use href="#m38d85b45bb" x="299.931548" y="354.416667" style="stroke: #000000"/>
      </g>
     </g>
    </g>
   </g>
   <g id="matplotlib.axis_10">
    <g id="ytick_124">
     <g id="line2d_625">
      <defs>
       <path id="m8cbab41261" d="M 0 0 
L 12 0 
" style="stroke: #000000"/>
      </defs>
      <g>
       <use href="#m8cbab41261" x="136.541667" y="478.819444" style="stroke: #000000"/>
      </g>
     </g>
     <g id="line2d_626">
      <defs>
       <path id="maad8e85c22" d="M 0 0 
L -12 0 
" style="stroke: #000000"/>
      </defs>
      <g>
       <use href="#maad8e85c22" x="312.5" y="478.819444" style="stroke: #000000"/>
      </g>
     </g>
     <g id="text_64">
      <text style="font-size: 11.904px; font-family: 'DejaVu Sans', 'Liberation Sans', sans-serif; text-anchor: end" x="133.041667" y="483.342034">40</text>
     </g>
    </g>
    <g id="ytick_125">
     <g id="line2d_627">
      <g>
       <use href="#m8cbab41261" x="136.541667" y="440.541667" style="stroke: #000000"/>
      </g>
     </g>
     <g id="line2d_628">
      <g>
       <use href="#maad8e85c22" x="312.5" y="440.541667" style="stroke: #000000"/>
      </g>
     </g>
     <g id="text_65">
      <text style="font-size: 11.904px; font-family: 'DejaVu Sans', 'Liberation Sans', sans-serif; text-anchor: end" x="133.041667" y="445.064257">60</text>
     </g>
    </g>
    <g id="ytick_126">
     <g id="line2d_629">
      <g>
       <use href="#m8cbab41261" x="136.541667" y="402.263889" style="stroke: #000000"/>
      </g>
     </g>
     <g id="line2d_630">
      <g>
       <use href="#maad8e85c22" x="312.5" y="402.263889" style="stroke: #000000"/>
      </g>
     </g>
     <g id="text_66">
      <text style="font-size: 11.904px; font-family: 'DejaVu Sans', 'Liberation Sans', sans-serif; text-anchor: end" x="133.041667" y="406.786479">80</text>
     </g>
    </g>
    <g id="ytick_127">
     <g id="line2d_631">
      <g>
       <use href="#m8cbab41261" x="136.541667" y="363.986111" style="stroke: #000000"/>
      </g>
     </g>
     <g id="line2d_632">
      <g>
       <use href="#maad8e85c22" x="312.5" y="363.986111" style="stroke: #000000"/>
      </g>
     </g>
     <g id="text_67">
      <text style="font-size: 11.904px; font-family: 'DejaVu Sans', 'Liberation Sans', sans-serif; text-anchor: end" x="133.041667" y="368.508701">100</text>
     </g>
    </g>
    <g id="ytick_128">
     <g id="line2d_633">
      <defs>
       <path id="m7ff6dd3463" d="M 0 0 
L 4 0 
" style="stroke: #000000"/>
      </defs>
      <g>
       <use href="#m7ff6dd3463" x="136.541667" y="497.958333" style="stroke: #000000"/>
      </g>
     </g>
     <g id="line2d_634">
      <defs>
       <path id="mb89d10049e" d="M 0 0 
L -4 0 
" style="stroke: #000000"/>
      </defs>
      <g>
       <use href="#mb89d10049e" x="312.5" y="497.958333" style="stroke: #000000"/>
      </g>
     </g>
    </g>
    <g id="ytick_129">
     <g id="line2d_635">
      <g>
       <use href="#m7ff6dd3463" x="136.541667" y="488.388889" style="stroke: #000000"/>
      </g>
     </g>
     <g id="line2d_636">
      <g>
       <use href="#mb89d10049e" x="312.5" y="488.388889" style="stroke: #000000"/>
      </g>
     </g>
    </g>
    <g id="ytick_130">
     <g id="line2d_637">
      <g>
       <use href="#m7ff6dd3463" x="136.541667" y="469.25" style="stroke: #000000"/>
      </g>
     </g>
     <g id="line2d_638">
      <g>
       <use href="#mb89d10049e" x="312.5" y="469.25" style="stroke: #000000"/>
      </g>
     </g>
    </g>
    <g id="ytick_131">
     <g id="line2d_639">
      <g>
       <use href="#m7ff6dd3463" x="136.541667" y="459.680556" style="stroke: #000000"/>
      </g>
     </g>
     <g id="line2d_640">
      <g>
       <use href="#mb89d10049e" x="312.5" y="459.680556" style="stroke: #000000"/>
      </g>
     </g>
    </g>
    <g id="ytick_132">
     <g id="line2d_641">
      <g>
       <use href="#m7ff6dd3463" x="136.541667" y="450.111111" style="stroke: #000000"/>
      </g>
     </g>
     <g id="line2d_642">
      <g>
       <use href="#mb89d10049e" x="312.5" y="450.111111" style="stroke: #000000"/>
      </g>
     </g>
    </g>
    <g id="ytick_133">
     <g id="line2d_643">
      <g>
       <use href="#m7ff6dd3463" x="136.541667" y="430.972222" style="stroke: #000000"/>
      </g>
     </g>
     <g id="line2d_644">
      <g>
       <use href="#mb89d10049e" x="312.5" y="430.972222" style="stroke: #000000"/>
      </g>
     </g>
    </g>
    <g id="ytick_134">
     <g id="line2d_645">
      <g>
       <use href="#m7ff6dd3463" x="136.541667" y="421.402778" style="stroke: #000000"/>
      </g>
     </g>
     <g id="line2d_646">
      <g>
       <use href="#mb89d10049e" x="312.5" y="421.402778" style="stroke: #000000"/>
      </g>
     </g>
    </g>
    <g id="ytick_135">
     <g id="line2d_647">
      <g>
       <use href="#m7ff6dd3463" x="136.541667" y="411.833333" style="stroke: #000000"/>
      </g>
     </g>
     <g id="line2d_648">
      <g>
       <use href="#mb89d10049e" x="312.5" y="411.833333" style="stroke: #000000"/>
      </g>
     </g>
    </g>
    <g id="ytick_136">
     <g id="line2d_649">
      <g>
       <use href="#m7ff6dd3463" x="136.541667" y="392.694444" style="stroke: #000000"/>
      </g>
     </g>
     <g id="line2d_650">
      <g>
       <use href="#mb89d10049e" x="312.5" y="392.694444" style="stroke: #000000"/>
      </g>
     </g>
    </g>
    <g id="ytick_137">
     <g id="line2d_651">
      <g>
       <use href="#m7ff6dd3463" x="136.541667" y="383.125" style="stroke: #000000"/>
      </g>
     </g>
     <g id="line2d_652">
      <g>
       <use href="#mb89d10049e" x="312.5" y="383.125" style="stroke: #000000"/>
      </g>
     </g>
    </g>
    <g id="ytick_138">
     <g id="line2d_653">
      <g>
       <use href="#m7ff6dd3463" x="136.541667" y="373.555556" style="stroke: #000000"/>
      </g>
     </g>
     <g id="line2d_654">
      <g>
       <use href="#mb89d10049e" x="312.5" y="373.555556" style="stroke: #000000"/>
      </g>
     </g>
    </g>
    <g id="ytick_139">
     <g id="line2d_655">
      <g>
       <use href="#m7ff6dd3463" x="136.541667" y="354.416667" style="stroke: #000000"/>
      </g>
     </g>
     <g id="line2d_656">
      <g>
       <use href="#mb89d10049e" x="312.5" y="354.416667" style="stroke: #000000"/>
      </g>
     </g>
    </g>
   </g>
   <g id="line2d_657">
    <defs>
     <path id="ma31d48eb85" d="M 0 3.5 
C 0.928211 3.5 1.81853 3.131218 2.474874 2.474874 
C 3.131218 1.81853 3.5 0.928211 3.5 0 
C 3.5 -0.928211 3.131218 -1.81853 2.474874 -2.474874 
C 1.81853 -3.131218 0.928211 -3.5 0 -3.5 
C -0.928211 -3.5 -1.81853 -3.131218 -2.474874 -2.474874 
C -3.131218 -1.81853 -3.5 -0.928211 -3.5 0 
C -3.5 0.928211 -3.131218 1.81853 -2.474874 2.474874 
C -1.81853 3.131218 -0.928211 3.5 0 3.5 
z
" style="stroke: #0000ff"/>
    </defs>
    <g clip-path="url(#p337efdff35)">
     <use href="#ma31d48eb85" x="211.952381" y="491.738194" style="fill: #0000ff; stroke: #0000ff"/>
     <use href="#ma31d48eb85" x="237.089286" y="472.312222" style="fill: #0000ff; stroke: #0000ff"/>
     <use href="#ma31d48eb85" x="262.22619" y="467.718889" style="fill: #0000ff; stroke: #0000ff"/>
     <use href="#ma31d48eb85" x="287.363095" y="461.785833" style="fill: #0000ff; stroke: #0000ff"/>
     <use href="#ma31d48eb85" x="312.5" y="461.785833" style="fill: #0000ff; stroke: #0000ff"/>
     <use href="#ma31d48eb85" x="362.77381" y="451.642222" style="fill: #0000ff; stroke: #0000ff"/>
     <use href="#ma31d48eb85" x="413.047619" y="435.182778" style="fill: #0000ff; stroke: #0000ff"/>
     <use href="#ma31d48eb85" x="475.889881" y="440.541667" style="fill: #0000ff; stroke: #0000ff"/>
    </g>
   </g>
   <g id="line2d_658">
    <defs>
     <path id="m11a2fd3076" d="M 0 3.5 
C 0.928211 3.5 1.81853 3.131218 2.474874 2.474874 
C 3.131218 1.81853 3.5 0.928211 3.5 0 
C 3.5 -0.928211 3.131218 -1.81853 2.474874 -2.474874 
C 1.81853 -3.131218 0.928211 -3.5 0 -3.5 
C -0.928211 -3.5 -1.81853 -3.131218 -2.474874 -2.474874 
C -3.131218 -1.81853 -3.5 -0.928211 -3.5 0 
C -3.5 0.928211 -3.131218 1.81853 -2.474874 2.474874 
C -1.81853 3.131218 -0.928211 3.5 0 3.5 
z
" style="stroke: #008000"/>
    </defs>
    <g clip-path="url(#p337efdff35)">
     <use href="#m11a2fd3076" x="161.678571" y="514.609167" style="fill: #008000; stroke: #008000"/>
     <use href="#m11a2fd3076" x="186.815476" y="495.470278" style="fill: #008000; stroke: #008000"/>
     <use href="#m11a2fd3076" x="211.952381" y="455.757083" style="fill: #008000; stroke: #008000"/>
     <use href="#m11a2fd3076" x="237.089286" y="448.484306" style="fill: #008000; stroke: #008000"/>
     <use href="#m11a2fd3076" x="262.22619" y="454.225972" style="fill: #008000; stroke: #008000"/>
     <use href="#m11a2fd3076" x="287.363095" y="458.723611" style="fill: #008000; stroke: #008000"/>
     <use href="#m11a2fd3076" x="312.5" y="459.297778" style="fill: #008000; stroke: #008000"/>
     <use href="#m11a2fd3076" x="362.77381" y="464.848056" style="fill: #008000; stroke: #008000"/>
     <use href="#m11a2fd3076" x="413.047619" y="467.718889" style="fill: #008000; stroke: #008000"/>
     <use href="#m11a2fd3076" x="475.889881" y="471.355278" style="fill: #008000; stroke: #008000"/>
    </g>
   </g>
   <g id="line2d_659">
    <defs>
     <path id="mf887b4bfb1" d="M 0 3.5 
C 0.928211 3.5 1.81853 3.131218 2.474874 2.474874 
C 3.131218 1.81853 3.5 0.928211 3.5 0 
C 3.5 -0.928211 3.131218 -1.81853 2.474874 -2.474874 
C 1.81853 -3.131218 0.928211 -3.5 0 -3.5 
C -0.928211 -3.5 -1.81853 -3.131218 -2.474874 -2.474874 
C -3.131218 -1.81853 -3.5 -0.928211 -3.5 0 
C -3.5 0.928211 -3.131218 1.81853 -2.474874 2.474874 
C -1.81853 3.131218 -0.928211 3.5 0 3.5 
z
" style="stroke: #ff0000"/>
    </defs>
    <g clip-path="url(#p337efdff35)">
     <use href="#mf887b4bfb1" x="161.678571" y="453.364722" style="fill: #ff0000; stroke: #ff0000"/>
     <use href="#mf887b4bfb1" x="186.815476" y="431.929167" style="fill: #ff0000; stroke: #ff0000"/>
     <use href="#mf887b4bfb1" x="211.952381" y="410.206528" style="fill: #ff0000; stroke: #ff0000"/>
     <use href="#mf887b4bfb1" x="237.089286" y="453.173333" style="fill: #ff0000; stroke: #ff0000"/>
     <use href="#mf887b4bfb1" x="262.22619" y="465.422222" style="fill: #ff0000; stroke: #ff0000"/>
     <use href="#mf887b4bfb1" x="287.363095" y="474.4175" style="fill: #ff0000; stroke: #ff0000"/>
     <use href="#mf887b4bfb1" x="312.5" y="474.800278" style="fill: #ff0000; stroke: #ff0000"/>
     <use href="#mf887b4bfb1" x="362.77381" y="485.652028" style="fill: #ff0000; stroke: #ff0000"/>
     <use href="#mf887b4bfb1" x="413.047619" y="486.475" style="fill: #ff0000; stroke: #ff0000"/>
     <use href="#mf887b4bfb1" x="475.889881" y="485.230972" style="fill: #ff0000; stroke: #ff0000"/>
    </g>
   </g>
   <g id="line2d_660">
    <defs>
     <path id="m32080d4ed4" d="M 0 3.5 
C 0.928211 3.5 1.81853 3.131218 2.474874 2.474874 
C 3.131218 1.81853 3.5 0.928211 3.5 0 
C 3.5 -0.928211 3.131218 -1.81853 2.474874 -2.474874 
C 1.81853 -3.131218 0.928211 -3.5 0 -3.5 
C -0.928211 -3.5 -1.81853 -3.131218 -2.474874 -2.474874 
C -3.131218 -1.81853 -3.5 -0.928211 -3.5 0 
C -3.5 0.928211 -3.131218 1.81853 -2.474874 2.474874 
C -1.81853 3.131218 -0.928211 3.5 0 3.5 
z
" style="stroke: #000000"/>
    </defs>
    <g clip-path="url(#p337efdff35)">
     <use href="#m32080d4ed4" x="111.404762" y="448.120667" style="stroke: #000000"/>
     <use href="#m32080d4ed4" x="136.541667" y="448.044111" style="stroke: #000000"/>
     <use href="#m32080d4ed4" x="161.678571" y="470.398333" style="stroke: #000000"/>
     <use href="#m32080d4ed4" x="186.815476" y="473.594528" style="stroke: #000000"/>
     <use href="#m32080d4ed4" x="211.952381" y="477.479722" style="stroke: #000000"/>
     <use href="#m32080d4ed4" x="237.089286" y="488.388889" style="stroke: #000000"/>
     <use href="#m32080d4ed4" x="262.22619" y="485.977389" style="stroke: #000000"/>
     <use href="#m32080d4ed4" x="287.363095" y="490.455889" style="stroke: #000000"/>
     <use href="#m32080d4ed4" x="312.5" y="497.1545" style="stroke: #000000"/>
     <use href="#m32080d4ed4" x="362.77381" y="496.274111" style="stroke: #000000"/>
     <use href="#m32080d4ed4" x="413.047619" y="495.814778" style="stroke: #000000"/>
     <use href="#m32080d4ed4" x="475.889881" y="500.829167" style="stroke: #000000"/>
    </g>
   </g>
   <g id="line2d_661">
    <defs>
     <path id="mb772237f08" d="M 0 3.5 
C 0.928211 3.5 1.81853 3.131218 2.474874 2.474874 
C 3.131218 1.81853 3.5 0.928211 3.5 0 
C 3.5 -0.928211 3.131218 -1.81853 2.474874 -2.474874 
C 1.81853 -3.131218 0.928211 -3.5 0 -3.5 
C -0.928211 -3.5 -1.81853 -3.131218 -2.474874 -2.474874 
C -3.131218 -1.81853 -3.5 -0.928211 -3.5 0 
C -3.5 0.928211 -3.131218 1.81853 -2.474874 2.474874 
C -1.81853 3.131218 -0.928211 3.5 0 3.5 
z
" style="stroke: #ffa500"/>
    </defs>
    <g clip-path="url(#p337efdff35)">
     <use href="#mb772237f08" x="111.404762" y="510.092389" style="fill: #ffa500; stroke: #ffa500"/>
     <use href="#mb772237f08" x="136.541667" y="498.111444" style="fill: #ffa500; stroke: #ffa500"/>
     <use href="#mb772237f08" x="161.678571" y="501.307639" style="fill: #ffa500; stroke: #ffa500"/>
     <use href="#mb772237f08" x="186.815476" y="497.728667" style="fill: #ffa500; stroke: #ffa500"/>
     <use href="#mb772237f08" x="211.952381" y="501.307639" style="fill: #ffa500; stroke: #ffa500"/>
     <use href="#mb772237f08" x="237.089286" y="503.164111" style="fill: #ffa500; stroke: #ffa500"/>
     <use href="#mb772237f08" x="262.22619" y="503.164111" style="fill: #ffa500; stroke: #ffa500"/>
     <use href="#mb772237f08" x="287.363095" y="502.83875" style="fill: #ffa500; stroke: #ffa500"/>
     <use href="#mb772237f08" x="312.5" y="505.039722" style="fill: #ffa500; stroke: #ffa500"/>
     <use href="#mb772237f08" x="362.77381" y="510.743111" style="fill: #ffa500; stroke: #ffa500"/>
     <use href="#mb772237f08" x="413.047619" y="508.580417" style="fill: #ffa500; stroke: #ffa500"/>
     <use href="#mb772237f08" x="475.889881" y="507.795722" style="fill: #ffa500; stroke: #ffa500"/>
    </g>
   </g>
   <g id="line2d_662">
    <defs>
     <path id="m474be7582d" d="M 0 3.5 
C 0.928211 3.5 1.81853 3.131218 2.474874 2.474874 
C 3.131218 1.81853 3.5 0.928211 3.5 0 
C 3.5 -0.928211 3.131218 -1.81853 2.474874 -2.474874 
C 1.81853 -3.131218 0.928211 -3.5 0 -3.5 
C -0.928211 -3.5 -1.81853 -3.131218 -2.474874 -2.474874 
C -3.131218 -1.81853 -3.5 -0.928211 -3.5 0 
C -3.5 0.928211 -3.131218 1.81853 -2.474874 2.474874 
C -1.81853 3.131218 -0.928211 3.5 0 3.5 
z
" style="stroke: #ff00ff"/>
    </defs>
    <g clip-path="url(#p337efdff35)">
     <use href="#m474be7582d" x="136.541667" y="511.432111" style="fill: #ff00ff; stroke: #ff00ff"/>
     <use href="#m474be7582d" x="161.678571" y="507.834" style="fill: #ff00ff; stroke: #ff00ff"/>
     <use href="#m474be7582d" x="186.815476" y="511.6235" style="fill: #ff00ff; stroke: #ff00ff"/>
     <use href="#m474be7582d" x="211.952381" y="511.164167" style="fill: #ff00ff; stroke: #ff00ff"/>
     <use href="#m474be7582d" x="237.089286" y="511.814889" style="fill: #ff00ff; stroke: #ff00ff"/>
     <use href="#m474be7582d" x="262.22619" y="513.020639" style="fill: #ff00ff; stroke: #ff00ff"/>
     <use href="#m474be7582d" x="287.363095" y="513.537389" style="fill: #ff00ff; stroke: #ff00ff"/>
     <use href="#m474be7582d" x="312.5" y="513.212028" style="fill: #ff00ff; stroke: #ff00ff"/>
     <use href="#m474be7582d" x="362.77381" y="514.283806" style="fill: #ff00ff; stroke: #ff00ff"/>
     <use href="#m474be7582d" x="413.047619" y="515.259889" style="fill: #ff00ff; stroke: #ff00ff"/>
     <use href="#m474be7582d" x="475.889881" y="513.097194" style="fill: #ff00ff; stroke: #ff00ff"/>
    </g>
   </g>
   <g id="patch_19">
    <path d="M 136.541667 497.958333 
L 136.541667 354.416667 
" style="fill: none; stroke: #000000; stroke-linejoin: miter; stroke-linecap: square"/>
   </g>
   <g id="patch_20">
    <path d="M 312.5 497.958333 
L 312.5 354.416667 
" style="fill: none; stroke: #000000; stroke-linejoin: miter; stroke-linecap: square"/>
   </g>
   <g id="patch_21">
    <path d="M 136.541667 497.958333 
L 312.5 497.958333 
" style="fill: none; stroke: #000000; stroke-linejoin: miter; stroke-linecap: square"/>
   </g>
   <g id="patch_22">
    <path d="M 136.541667 354.416667 
L 312.5 354.416667 
" style="fill: none; stroke: #000000; stroke-linejoin: miter; stroke-linecap: square"/>
   </g>
   <g id="LineCollection_19">
    <path d="M 211.952381 506.360306 
L 211.952381 477.116083 
" clip-path="url(#p337efdff35)" style="fill: none; stroke: #0000ff; stroke-width: 1.5"/>
    <path d="M 237.089286 482.838611 
L 237.089286 461.785833 
" clip-path="url(#p337efdff35)" style="fill: none; stroke: #0000ff; stroke-width: 1.5"/>
    <path d="M 262.22619 477.288333 
L 262.22619 458.149444 
" clip-path="url(#p337efdff35)" style="fill: none; stroke: #0000ff; stroke-width: 1.5"/>
    <path d="M 287.363095 474.283528 
L 287.363095 449.288139 
" clip-path="url(#p337efdff35)" style="fill: none; stroke: #0000ff; stroke-width: 1.5"/>
    <path d="M 312.5 479.585 
L 312.5 443.986667 
" clip-path="url(#p337efdff35)" style="fill: none; stroke: #0000ff; stroke-width: 1.5"/>
    <path d="M 362.77381 467.910278 
L 362.77381 435.374167 
" clip-path="url(#p337efdff35)" style="fill: none; stroke: #0000ff; stroke-width: 1.5"/>
    <path d="M 413.047619 452.407778 
L 413.047619 417.957778 
" clip-path="url(#p337efdff35)" style="fill: none; stroke: #0000ff; stroke-width: 1.5"/>
    <path d="M 475.889881 451.450833 
L 475.889881 429.6325 
" clip-path="url(#p337efdff35)" style="fill: none; stroke: #0000ff; stroke-width: 1.5"/>
   </g>
   <g id="LineCollection_20">
    <path d="M 161.678571 521.039833 
L 161.678571 508.1785 
" clip-path="url(#p337efdff35)" style="fill: none; stroke: #008000; stroke-width: 1.5"/>
    <path d="M 186.815476 507.106722 
L 186.815476 483.833833 
" clip-path="url(#p337efdff35)" style="fill: none; stroke: #008000; stroke-width: 1.5"/>
    <path d="M 211.952381 472.312222 
L 211.952381 439.201944 
" clip-path="url(#p337efdff35)" style="fill: none; stroke: #008000; stroke-width: 1.5"/>
    <path d="M 237.089286 458.05375 
L 237.089286 438.914861 
" clip-path="url(#p337efdff35)" style="fill: none; stroke: #008000; stroke-width: 1.5"/>
    <path d="M 262.22619 473.364861 
L 262.22619 435.087083 
" clip-path="url(#p337efdff35)" style="fill: none; stroke: #008000; stroke-width: 1.5"/>
    <path d="M 287.363095 471.068194 
L 287.363095 446.379028 
" clip-path="url(#p337efdff35)" style="fill: none; stroke: #008000; stroke-width: 1.5"/>
    <path d="M 312.5 482.264444 
L 312.5 436.331111 
" clip-path="url(#p337efdff35)" style="fill: none; stroke: #008000; stroke-width: 1.5"/>
    <path d="M 362.77381 474.4175 
L 362.77381 455.278611 
" clip-path="url(#p337efdff35)" style="fill: none; stroke: #008000; stroke-width: 1.5"/>
    <path d="M 413.047619 476.522778 
L 413.047619 458.915 
" clip-path="url(#p337efdff35)" style="fill: none; stroke: #008000; stroke-width: 1.5"/>
    <path d="M 475.889881 482.264444 
L 475.889881 460.446111 
" clip-path="url(#p337efdff35)" style="fill: none; stroke: #008000; stroke-width: 1.5"/>
   </g>
   <g id="LineCollection_21">
    <path d="M 161.678571 459.584861 
L 161.678571 447.144583 
" clip-path="url(#p337efdff35)" style="fill: none; stroke: #ff0000; stroke-width: 1.5"/>
    <path d="M 186.815476 463.986806 
L 186.815476 399.871528 
" clip-path="url(#p337efdff35)" style="fill: none; stroke: #ff0000; stroke-width: 1.5"/>
    <path d="M 211.952381 425.517639 
L 211.952381 394.895417 
" clip-path="url(#p337efdff35)" style="fill: none; stroke: #ff0000; stroke-width: 1.5"/>
    <path d="M 237.089286 471.546667 
L 237.089286 434.8 
" clip-path="url(#p337efdff35)" style="fill: none; stroke: #ff0000; stroke-width: 1.5"/>
    <path d="M 262.22619 478.37925 
L 262.22619 452.465194 
" clip-path="url(#p337efdff35)" style="fill: none; stroke: #ff0000; stroke-width: 1.5"/>
    <path d="M 287.363095 482.551528 
L 287.363095 466.283472 
" clip-path="url(#p337efdff35)" style="fill: none; stroke: #ff0000; stroke-width: 1.5"/>
    <path d="M 312.5 487.202278 
L 312.5 462.398278 
" clip-path="url(#p337efdff35)" style="fill: none; stroke: #ff0000; stroke-width: 1.5"/>
    <path d="M 362.77381 495.872194 
L 362.77381 475.431861 
" clip-path="url(#p337efdff35)" style="fill: none; stroke: #ff0000; stroke-width: 1.5"/>
    <path d="M 413.047619 497.288472 
L 413.047619 475.661528 
" clip-path="url(#p337efdff35)" style="fill: none; stroke: #ff0000; stroke-width: 1.5"/>
    <path d="M 475.889881 492.120972 
L 475.889881 478.340972 
" clip-path="url(#p337efdff35)" style="fill: none; stroke: #ff0000; stroke-width: 1.5"/>
   </g>
   <g id="LineCollection_22">
    <path d="M 111.404762 485.288389 
L 111.404762 410.952944 
" clip-path="url(#p337efdff35)" style="fill: none; stroke: #000000; stroke-width: 1.5"/>
    <path d="M 136.541667 470.053833 
L 136.541667 426.034389 
" clip-path="url(#p337efdff35)" style="fill: none; stroke: #000000; stroke-width: 1.5"/>
    <path d="M 161.678571 477.250056 
L 161.678571 463.546611 
" clip-path="url(#p337efdff35)" style="fill: none; stroke: #000000; stroke-width: 1.5"/>
    <path d="M 186.815476 477.805083 
L 186.815476 469.383972 
" clip-path="url(#p337efdff35)" style="fill: none; stroke: #000000; stroke-width: 1.5"/>
    <path d="M 211.952381 482.608944 
L 211.952381 472.3505 
" clip-path="url(#p337efdff35)" style="fill: none; stroke: #000000; stroke-width: 1.5"/>
    <path d="M 237.089286 492.408056 
L 237.089286 484.369722 
" clip-path="url(#p337efdff35)" style="fill: none; stroke: #000000; stroke-width: 1.5"/>
    <path d="M 262.22619 496.235833 
L 262.22619 475.718944 
" clip-path="url(#p337efdff35)" style="fill: none; stroke: #000000; stroke-width: 1.5"/>
    <path d="M 287.363095 494.857833 
L 287.363095 486.053944 
" clip-path="url(#p337efdff35)" style="fill: none; stroke: #000000; stroke-width: 1.5"/>
    <path d="M 312.5 500.025333 
L 312.5 494.283667 
" clip-path="url(#p337efdff35)" style="fill: none; stroke: #000000; stroke-width: 1.5"/>
    <path d="M 362.77381 499.144944 
L 362.77381 493.403278 
" clip-path="url(#p337efdff35)" style="fill: none; stroke: #000000; stroke-width: 1.5"/>
    <path d="M 413.047619 504.790917 
L 413.047619 486.838639 
" clip-path="url(#p337efdff35)" style="fill: none; stroke: #000000; stroke-width: 1.5"/>
    <path d="M 475.889881 506.341167 
L 475.889881 495.317167 
" clip-path="url(#p337efdff35)" style="fill: none; stroke: #000000; stroke-width: 1.5"/>
   </g>
   <g id="LineCollection_23">
    <path d="M 111.404762 516.178556 
L 111.404762 504.006222 
" clip-path="url(#p337efdff35)" style="fill: none; stroke: #ffa500; stroke-width: 1.5"/>
    <path d="M 136.541667 503.240667 
L 136.541667 492.982222 
" clip-path="url(#p337efdff35)" style="fill: none; stroke: #ffa500; stroke-width: 1.5"/>
    <path d="M 161.678571 508.140222 
L 161.678571 494.475056 
" clip-path="url(#p337efdff35)" style="fill: none; stroke: #ffa500; stroke-width: 1.5"/>
    <path d="M 186.815476 499.259778 
L 186.815476 496.197556 
" clip-path="url(#p337efdff35)" style="fill: none; stroke: #ffa500; stroke-width: 1.5"/>
    <path d="M 211.952381 511.259861 
L 211.952381 491.355417 
" clip-path="url(#p337efdff35)" style="fill: none; stroke: #ffa500; stroke-width: 1.5"/>
    <path d="M 237.089286 506.417722 
L 237.089286 499.9105 
" clip-path="url(#p337efdff35)" style="fill: none; stroke: #ffa500; stroke-width: 1.5"/>
    <path d="M 262.22619 507.987111 
L 262.22619 498.341111 
" clip-path="url(#p337efdff35)" style="fill: none; stroke: #ffa500; stroke-width: 1.5"/>
    <path d="M 287.363095 506.934472 
L 287.363095 498.743028 
" clip-path="url(#p337efdff35)" style="fill: none; stroke: #ffa500; stroke-width: 1.5"/>
    <path d="M 312.5 510.781389 
L 312.5 499.298056 
" clip-path="url(#p337efdff35)" style="fill: none; stroke: #ffa500; stroke-width: 1.5"/>
    <path d="M 362.77381 514.570889 
L 362.77381 506.915333 
" clip-path="url(#p337efdff35)" style="fill: none; stroke: #ffa500; stroke-width: 1.5"/>
    <path d="M 413.047619 513.17375 
L 413.047619 503.987083 
" clip-path="url(#p337efdff35)" style="fill: none; stroke: #ffa500; stroke-width: 1.5"/>
    <path d="M 475.889881 514.685722 
L 475.889881 500.905722 
" clip-path="url(#p337efdff35)" style="fill: none; stroke: #ffa500; stroke-width: 1.5"/>
   </g>
   <g id="LineCollection_24">
    <path d="M 136.541667 514.781417 
L 136.541667 508.082806 
" clip-path="url(#p337efdff35)" style="fill: none; stroke: #ff00ff; stroke-width: 1.5"/>
    <path d="M 161.678571 512.905806 
L 161.678571 502.762194 
" clip-path="url(#p337efdff35)" style="fill: none; stroke: #ff00ff; stroke-width: 1.5"/>
    <path d="M 186.815476 516.312528 
L 186.815476 506.934472 
" clip-path="url(#p337efdff35)" style="fill: none; stroke: #ff00ff; stroke-width: 1.5"/>
    <path d="M 211.952381 513.078056 
L 211.952381 509.250278 
" clip-path="url(#p337efdff35)" style="fill: none; stroke: #ff00ff; stroke-width: 1.5"/>
    <path d="M 237.089286 514.111556 
L 237.089286 509.518222 
" clip-path="url(#p337efdff35)" style="fill: none; stroke: #ff00ff; stroke-width: 1.5"/>
    <path d="M 262.22619 516.350806 
L 262.22619 509.690472 
" clip-path="url(#p337efdff35)" style="fill: none; stroke: #ff00ff; stroke-width: 1.5"/>
    <path d="M 287.363095 517.250333 
L 287.363095 509.824444 
" clip-path="url(#p337efdff35)" style="fill: none; stroke: #ff00ff; stroke-width: 1.5"/>
    <path d="M 312.5 517.99675 
L 312.5 508.427306 
" clip-path="url(#p337efdff35)" style="fill: none; stroke: #ff00ff; stroke-width: 1.5"/>
    <path d="M 362.77381 519.680972 
L 362.77381 508.886639 
" clip-path="url(#p337efdff35)" style="fill: none; stroke: #ff00ff; stroke-width: 1.5"/>
    <path d="M 413.047619 520.427389 
L 413.047619 510.092389 
" clip-path="url(#p337efdff35)" style="fill: none; stroke: #ff00ff; stroke-width: 1.5"/>
    <path d="M 475.889881 518.188139 
L 475.889881 508.00625 
" clip-path="url(#p337efdff35)" style="fill: none; stroke: #ff00ff; stroke-width: 1.5"/>
   </g>
   <g id="line2d_663">
    <path d="M 86.267857 523.799592 
L 91.103815 523.982695 
L 95.939772 523.929899 
L 100.77573 523.652119 
L 105.611688 523.160267 
L 110.447645 522.465257 
L 116.089596 521.412203 
L 121.731546 520.114813 
L 127.373497 518.590418 
L 133.821441 516.592517 
L 140.269384 514.346623 
L 146.717328 511.878606 
L 153.971264 508.86879 
L 162.031193 505.278034 
L 170.897116 501.086849 
L 182.181017 495.49008 
L 202.33084 485.175031 
L 216.838713 477.865028 
L 227.316621 472.836456 
L 236.182544 468.839227 
L 243.43648 465.794503 
L 250.690417 462.992502 
L 257.13836 460.735378 
L 263.586304 458.725009 
L 269.228254 457.188686 
L 274.870205 455.878421 
L 280.512155 454.811543 
L 285.348113 454.103929 
L 290.184071 453.597841 
L 295.826021 453.254652 
L 301.467972 453.151949 
L 307.109922 453.262216 
L 313.557866 453.613718 
L 320.811802 454.247552 
L 328.871732 455.179265 
L 340.155633 456.737646 
L 362.723435 459.92572 
L 371.589357 460.919677 
L 381.261273 461.775955 
L 390.933188 462.409649 
L 401.411096 462.863312 
L 411.889004 463.094408 
L 423.172905 463.117435 
L 435.262799 462.910066 
L 448.158686 462.458332 
L 461.860566 461.758678 
L 477.980425 460.705585 
L 488.458333 459.920466 
L 488.458333 459.920466 
" clip-path="url(#p337efdff35)" style="fill: none; stroke: #0000ff; stroke-width: 1.7"/>
   </g>
   <g id="line2d_664">
    <path d="M 86.267857 504.492882 
L 88.685836 505.251322 
L 91.103815 505.76455 
L 93.521794 506.041969 
L 95.939772 506.092987 
L 98.357751 505.927008 
L 100.77573 505.553438 
L 103.193709 504.981683 
L 105.611688 504.221147 
L 108.835659 502.929699 
L 112.059631 501.341657 
L 115.283603 499.479316 
L 118.507575 497.364972 
L 121.731546 495.020917 
L 125.761511 491.801785 
L 129.791476 488.302111 
L 134.627433 483.793497 
L 140.269384 478.202496 
L 147.52332 470.674293 
L 164.449172 452.975739 
L 170.091123 447.46682 
L 174.92708 443.073915 
L 178.957045 439.712685 
L 182.98701 436.67831 
L 186.210981 434.520521 
L 189.434953 432.627508 
L 192.658925 430.998433 
L 195.882897 429.622199 
L 199.106868 428.487672 
L 202.33084 427.583718 
L 205.554812 426.899202 
L 208.778784 426.422987 
L 212.002756 426.14394 
L 215.226727 426.050925 
L 219.256692 426.179302 
L 223.286657 426.559207 
L 227.316621 427.168893 
L 231.346586 427.986613 
L 236.182544 429.211858 
L 241.018501 430.668703 
L 246.660452 432.621175 
L 252.302402 434.804782 
L 258.750346 437.527975 
L 266.810275 441.179025 
L 281.318148 448.06205 
L 292.602049 453.297351 
L 299.855986 456.430262 
L 306.303929 458.973781 
L 311.94588 460.960204 
L 317.58783 462.68685 
L 323.229781 464.165818 
L 328.871732 465.424808 
L 335.319675 466.629844 
L 342.573612 467.736849 
L 350.633541 468.727141 
L 361.111449 469.766129 
L 377.231308 471.115077 
L 391.739181 472.114663 
L 405.441061 472.840211 
L 418.336948 473.30281 
L 430.426842 473.520654 
L 442.516736 473.509348 
L 453.800637 473.27456 
L 465.084538 472.806761 
L 475.562446 472.149647 
L 486.040355 471.264812 
L 488.458333 471.026917 
L 488.458333 471.026917 
" clip-path="url(#p337efdff35)" style="fill: none; stroke: #008000; stroke-width: 1.7"/>
   </g>
   <g id="line2d_665">
    <path d="M 86.267857 443.122845 
L 87.879843 438.612971 
L 90.297822 430.917235 
L 92.715801 422.282625 
L 95.939772 409.655911 
L 99.969737 392.750711 
L 107.223674 361.987513 
L 110.447645 349.335743 
L 112.865624 340.675032 
L 115.283603 332.946931 
L 116.895589 328.40753 
L 118.507575 324.38399 
L 120.119561 320.873632 
L 121.731546 317.873629 
L 123.343532 315.38115 
L 124.955518 313.393367 
L 126.567504 311.907452 
L 128.17949 310.920574 
L 128.985483 310.61339 
L 129.791476 310.429905 
L 130.597469 310.369764 
L 131.403462 310.432615 
L 132.209455 310.618104 
L 133.015448 310.925877 
L 134.627433 311.903457 
L 136.239419 313.336953 
L 137.851405 315.189076 
L 139.463391 317.422516 
L 141.075377 319.999963 
L 143.493356 324.429526 
L 145.911335 329.42323 
L 149.135306 336.741407 
L 153.165271 346.529941 
L 159.613215 362.298307 
L 162.837186 369.654365 
L 166.061158 376.549258 
L 169.28513 383.004271 
L 172.509102 389.040689 
L 175.733073 394.679796 
L 178.957045 399.942877 
L 182.181017 404.851214 
L 185.404989 409.426094 
L 188.62896 413.688799 
L 192.658925 418.610612 
L 196.68889 423.11948 
L 200.718854 427.256975 
L 204.748819 431.063782 
L 208.778784 434.571684 
L 212.808748 437.807316 
L 216.838713 440.797251 
L 221.674671 444.098267 
L 226.510628 447.129662 
L 232.152579 450.386778 
L 238.600522 453.829893 
L 247.466445 458.270253 
L 259.556339 464.09647 
L 266.004282 466.961948 
L 271.646233 469.206318 
L 276.482191 470.870645 
L 281.318148 472.281526 
L 286.960099 473.660493 
L 293.408042 474.968166 
L 301.467972 476.350081 
L 312.751873 478.061468 
L 324.841767 479.659912 
L 336.931661 481.027075 
L 349.021555 482.175245 
L 361.917442 483.172425 
L 374.813329 483.949333 
L 388.515209 484.550127 
L 403.023082 484.953453 
L 417.530955 485.138159 
L 433.650814 485.112807 
L 450.576665 484.855789 
L 469.114503 484.34279 
L 488.458333 483.595993 
L 488.458333 483.595993 
" clip-path="url(#p337efdff35)" style="fill: none; stroke: #ff0000; stroke-width: 1.7"/>
   </g>
   <g id="line2d_666">
    <path d="M 86.267857 426.172877 
L 95.133779 431.339195 
L 103.999702 436.244146 
L 112.865624 440.894581 
L 121.731546 445.297348 
L 130.597469 449.459296 
L 139.463391 453.387276 
L 148.329313 457.088137 
L 158.001229 460.874459 
L 167.673144 464.407534 
L 177.345059 467.696255 
L 187.016974 470.749513 
L 196.68889 473.576202 
L 206.360805 476.185214 
L 216.838713 478.776313 
L 227.316621 481.133687 
L 237.79453 483.26864 
L 249.078431 485.332046 
L 260.362332 487.16473 
L 271.646233 488.780813 
L 283.736127 490.288013 
L 296.632014 491.659061 
L 309.527901 492.806485 
L 323.229781 493.804173 
L 337.737654 494.639419 
L 353.857513 495.336562 
L 371.589357 495.870233 
L 391.739181 496.247667 
L 418.336948 496.504167 
L 480.398404 497.013728 
L 488.458333 497.160311 
L 488.458333 497.160311 
" clip-path="url(#p337efdff35)" style="fill: none; stroke: #000000; stroke-width: 1.7"/>
   </g>
   <g id="line2d_667">
    <path d="M 86.267857 489.35664 
L 103.193709 491.384821 
L 120.925553 493.28739 
L 139.463391 495.052676 
L 158.807222 496.672872 
L 179.763038 498.199271 
L 202.33084 499.610336 
L 226.510628 500.895709 
L 253.914388 502.125888 
L 287.766092 503.408908 
L 350.633541 505.505772 
L 392.545174 507.026265 
L 422.366912 508.323504 
L 448.158686 509.665445 
L 471.532482 511.106904 
L 488.458333 512.30883 
L 488.458333 512.30883 
" clip-path="url(#p337efdff35)" style="fill: none; stroke: #ffa500; stroke-width: 1.7"/>
   </g>
   <g id="line2d_668">
    <path d="M 86.267857 508.166268 
L 107.223674 509.136464 
L 130.597469 509.989371 
L 156.389243 510.705159 
L 187.822967 511.347847 
L 241.824494 512.181385 
L 286.154106 512.961097 
L 315.169852 513.686282 
L 340.155633 514.529302 
L 362.723435 515.515577 
L 382.873258 516.612685 
L 402.217089 517.887496 
L 420.754927 519.338172 
L 437.680778 520.878848 
L 454.60663 522.644478 
L 470.726489 524.551693 
L 486.040355 526.581919 
L 488.458333 526.922832 
L 488.458333 526.922832 
" clip-path="url(#p337efdff35)" style="fill: none; stroke: #ff00ff; stroke-width: 1.7"/>
   </g>
  </g>
  <g id="axes_6">
   <g id="patch_23">
    <path d="M 533.583333 497.958333 
L 709.541667 497.958333 
L 709.541667 354.416667 
L 533.583333 354.416667 
z
" style="fill: #ffffff"/>
   </g>
   <g id="matplotlib.axis_11">
    <g id="xtick_168">
     <g id="line2d_669">
      <g>
       <use href="#mdae80e0adf" x="558.720238" y="497.958333" style="stroke: #000000"/>
      </g>
     </g>
     <g id="line2d_670">
      <g>
       <use href="#md47f3b97aa" x="558.720238" y="354.416667" style="stroke: #000000"/>
      </g>
     </g>
     <g id="text_68">
      <text style="font-size: 11.904px; font-family: 'DejaVu Sans', 'Liberation Sans', sans-serif; text-anchor: middle" x="558.720238" y="510.503513">200</text>
     </g>
    </g>
    <g id="xtick_169">
     <g id="line2d_671">
      <g>
       <use href="#mdae80e0adf" x="608.994048" y="497.958333" style="stroke: #000000"/>
      </g>
     </g>
     <g id="line2d_672">
      <g>
       <use href="#md47f3b97aa" x="608.994048" y="354.416667" style="stroke: #000000"/>
      </g>
     </g>
     <g id="text_69">
      <text style="font-size: 11.904px; font-family: 'DejaVu Sans', 'Liberation Sans', sans-serif; text-anchor: middle" x="608.994048" y="510.503513">220</text>
     </g>
    </g>
    <g id="xtick_170">
     <g id="line2d_673">
      <g>
       <use href="#mdae80e0adf" x="659.267857" y="497.958333" style="stroke: #000000"/>
      </g>
     </g>
     <g id="line2d_674">
      <g>
       <use href="#md47f3b97aa" x="659.267857" y="354.416667" style="stroke: #000000"/>
      </g>
     </g>
     <g id="text_70">
      <text style="font-size: 11.904px; font-family: 'DejaVu Sans', 'Liberation Sans', sans-serif; text-anchor: middle" x="659.267857" y="510.503513">240</text>
     </g>
    </g>
    <g id="xtick_171">
     <g id="line2d_675">
      <g>
       <use href="#mdae80e0adf" x="709.541667" y="497.958333" style="stroke: #000000"/>
      </g>
     </g>
     <g id="line2d_676">
      <g>
       <use href="#md47f3b97aa" x="709.541667" y="354.416667" style="stroke: #000000"/>
      </g>
     </g>
     <g id="text_71">
      <text style="font-size: 11.904px; font-family: 'DejaVu Sans', 'Liberation Sans', sans-serif; text-anchor: middle" x="709.541667" y="510.503513">260</text>
     </g>
    </g>
    <g id="xtick_172">
     <g id="line2d_677">
      <g>
       <use href="#m6d29f7ebc7" x="533.583333" y="497.958333" style="stroke: #000000"/>
      </g>
     </g>
     <g id="line2d_678">
      <g>
       <use href="#m38d85b45bb" x="533.583333" y="354.416667" style="stroke: #000000"/>
      </g>
     </g>
    </g>
    <g id="xtick_173">
     <g id="line2d_679">
      <g>
       <use href="#m6d29f7ebc7" x="546.151786" y="497.958333" style="stroke: #000000"/>
      </g>
     </g>
     <g id="line2d_680">
      <g>
       <use href="#m38d85b45bb" x="546.151786" y="354.416667" style="stroke: #000000"/>
      </g>
     </g>
    </g>
    <g id="xtick_174">
     <g id="line2d_681">
      <g>
       <use href="#m6d29f7ebc7" x="571.28869" y="497.958333" style="stroke: #000000"/>
      </g>
     </g>
     <g id="line2d_682">
      <g>
       <use href="#m38d85b45bb" x="571.28869" y="354.416667" style="stroke: #000000"/>
      </g>
     </g>
    </g>
    <g id="xtick_175">
     <g id="line2d_683">
      <g>
       <use href="#m6d29f7ebc7" x="583.857143" y="497.958333" style="stroke: #000000"/>
      </g>
     </g>
     <g id="line2d_684">
      <g>
       <use href="#m38d85b45bb" x="583.857143" y="354.416667" style="stroke: #000000"/>
      </g>
     </g>
    </g>
    <g id="xtick_176">
     <g id="line2d_685">
      <g>
       <use href="#m6d29f7ebc7" x="596.425595" y="497.958333" style="stroke: #000000"/>
      </g>
     </g>
     <g id="line2d_686">
      <g>
       <use href="#m38d85b45bb" x="596.425595" y="354.416667" style="stroke: #000000"/>
      </g>
     </g>
    </g>
    <g id="xtick_177">
     <g id="line2d_687">
      <g>
       <use href="#m6d29f7ebc7" x="621.5625" y="497.958333" style="stroke: #000000"/>
      </g>
     </g>
     <g id="line2d_688">
      <g>
       <use href="#m38d85b45bb" x="621.5625" y="354.416667" style="stroke: #000000"/>
      </g>
     </g>
    </g>
    <g id="xtick_178">
     <g id="line2d_689">
      <g>
       <use href="#m6d29f7ebc7" x="634.130952" y="497.958333" style="stroke: #000000"/>
      </g>
     </g>
     <g id="line2d_690">
      <g>
       <use href="#m38d85b45bb" x="634.130952" y="354.416667" style="stroke: #000000"/>
      </g>
     </g>
    </g>
    <g id="xtick_179">
     <g id="line2d_691">
      <g>
       <use href="#m6d29f7ebc7" x="646.699405" y="497.958333" style="stroke: #000000"/>
      </g>
     </g>
     <g id="line2d_692">
      <g>
       <use href="#m38d85b45bb" x="646.699405" y="354.416667" style="stroke: #000000"/>
      </g>
     </g>
    </g>
    <g id="xtick_180">
     <g id="line2d_693">
      <g>
       <use href="#m6d29f7ebc7" x="671.83631" y="497.958333" style="stroke: #000000"/>
      </g>
     </g>
     <g id="line2d_694">
      <g>
       <use href="#m38d85b45bb" x="671.83631" y="354.416667" style="stroke: #000000"/>
      </g>
     </g>
    </g>
    <g id="xtick_181">
     <g id="line2d_695">
      <g>
       <use href="#m6d29f7ebc7" x="684.404762" y="497.958333" style="stroke: #000000"/>
      </g>
     </g>
     <g id="line2d_696">
      <g>
       <use href="#m38d85b45bb" x="684.404762" y="354.416667" style="stroke: #000000"/>
      </g>
     </g>
    </g>
    <g id="xtick_182">
     <g id="line2d_697">
      <g>
       <use href="#m6d29f7ebc7" x="696.973214" y="497.958333" style="stroke: #000000"/>
      </g>
     </g>
     <g id="line2d_698">
      <g>
       <use href="#m38d85b45bb" x="696.973214" y="354.416667" style="stroke: #000000"/>
      </g>
     </g>
    </g>
   </g>
   <g id="matplotlib.axis_12">
    <g id="ytick_140">
     <g id="line2d_699">
      <g>
       <use href="#m8cbab41261" x="533.583333" y="478.819444" style="stroke: #000000"/>
      </g>
     </g>
     <g id="line2d_700">
      <g>
       <use href="#maad8e85c22" x="709.541667" y="478.819444" style="stroke: #000000"/>
      </g>
     </g>
     <g id="text_72">
      <text style="font-size: 11.904px; font-family: 'DejaVu Sans', 'Liberation Sans', sans-serif; text-anchor: end" x="530.083333" y="483.342034">40</text>
     </g>
    </g>
    <g id="ytick_141">
     <g id="line2d_701">
      <g>
       <use href="#m8cbab41261" x="533.583333" y="440.541667" style="stroke: #000000"/>
      </g>
     </g>
     <g id="line2d_702">
      <g>
       <use href="#maad8e85c22" x="709.541667" y="440.541667" style="stroke: #000000"/>
      </g>
     </g>
     <g id="text_73">
      <text style="font-size: 11.904px; font-family: 'DejaVu Sans', 'Liberation Sans', sans-serif; text-anchor: end" x="530.083333" y="445.064257">60</text>
     </g>
    </g>
    <g id="ytick_142">
     <g id="line2d_703">
      <g>
       <use href="#m8cbab41261" x="533.583333" y="402.263889" style="stroke: #000000"/>
      </g>
     </g>
     <g id="line2d_704">
      <g>
       <use href="#maad8e85c22" x="709.541667" y="402.263889" style="stroke: #000000"/>
      </g>
     </g>
     <g id="text_74">
      <text style="font-size: 11.904px; font-family: 'DejaVu Sans', 'Liberation Sans', sans-serif; text-anchor: end" x="530.083333" y="406.786479">80</text>
     </g>
    </g>
    <g id="ytick_143">
     <g id="line2d_705">
      <g>
       <use href="#m8cbab41261" x="533.583333" y="363.986111" style="stroke: #000000"/>
      </g>
     </g>
     <g id="line2d_706">
      <g>
       <use href="#maad8e85c22" x="709.541667" y="363.986111" style="stroke: #000000"/>
      </g>
     </g>
     <g id="text_75">
      <text style="font-size: 11.904px; font-family: 'DejaVu Sans', 'Liberation Sans', sans-serif; text-anchor: end" x="530.083333" y="368.508701">100</text>
     </g>
    </g>
    <g id="ytick_144">
     <g id="line2d_707">
      <g>
       <use href="#m7ff6dd3463" x="533.583333" y="497.958333" style="stroke: #000000"/>
      </g>
     </g>
     <g id="line2d_708">
      <g>
       <use href="#mb89d10049e" x="709.541667" y="497.958333" style="stroke: #000000"/>
      </g>
     </g>
    </g>
    <g id="ytick_145">
     <g id="line2d_709">
      <g>
       <use href="#m7ff6dd3463" x="533.583333" y="488.388889" style="stroke: #000000"/>
      </g>
     </g>
     <g id="line2d_710">
      <g>
       <use href="#mb89d10049e" x="709.541667" y="488.388889" style="stroke: #000000"/>
      </g>
     </g>
    </g>
    <g id="ytick_146">
     <g id="line2d_711">
      <g>
       <use href="#m7ff6dd3463" x="533.583333" y="469.25" style="stroke: #000000"/>
      </g>
     </g>
     <g id="line2d_712">
      <g>
       <use href="#mb89d10049e" x="709.541667" y="469.25" style="stroke: #000000"/>
      </g>
     </g>
    </g>
    <g id="ytick_147">
     <g id="line2d_713">
      <g>
       <use href="#m7ff6dd3463" x="533.583333" y="459.680556" style="stroke: #000000"/>
      </g>
     </g>
     <g id="line2d_714">
      <g>
       <use href="#mb89d10049e" x="709.541667" y="459.680556" style="stroke: #000000"/>
      </g>
     </g>
    </g>
    <g id="ytick_148">
     <g id="line2d_715">
      <g>
       <use href="#m7ff6dd3463" x="533.583333" y="450.111111" style="stroke: #000000"/>
      </g>
     </g>
     <g id="line2d_716">
      <g>
       <use href="#mb89d10049e" x="709.541667" y="450.111111" style="stroke: #000000"/>
      </g>
     </g>
    </g>
    <g id="ytick_149">
     <g id="line2d_717">
      <g>
       <use href="#m7ff6dd3463" x="533.583333" y="430.972222" style="stroke: #000000"/>
      </g>
     </g>
     <g id="line2d_718">
      <g>
       <use href="#mb89d10049e" x="709.541667" y="430.972222" style="stroke: #000000"/>
      </g>
     </g>
    </g>
    <g id="ytick_150">
     <g id="line2d_719">
      <g>
       <use href="#m7ff6dd3463" x="533.583333" y="421.402778" style="stroke: #000000"/>
      </g>
     </g>
     <g id="line2d_720">
      <g>
       <use href="#mb89d10049e" x="709.541667" y="421.402778" style="stroke: #000000"/>
      </g>
     </g>
    </g>
    <g id="ytick_151">
     <g id="line2d_721">
      <g>
       <use href="#m7ff6dd3463" x="533.583333" y="411.833333" style="stroke: #000000"/>
      </g>
     </g>
     <g id="line2d_722">
      <g>
       <use href="#mb89d10049e" x="709.541667" y="411.833333" style="stroke: #000000"/>
      </g>
     </g>
    </g>
    <g id="ytick_152">
     <g id="line2d_723">
      <g>
       <use href="#m7ff6dd3463" x="533.583333" y="392.694444" style="stroke: #000000"/>
      </g>
     </g>
     <g id="line2d_724">
      <g>
       <use href="#mb89d10049e" x="709.541667" y="392.694444" style="stroke: #000000"/>
      </g>
     </g>
    </g>
    <g id="ytick_153">
     <g id="line2d_725">
      <g>
       <use href="#m7ff6dd3463" x="533.583333" y="383.125" style="stroke: #000000"/>
      </g>
     </g>
     <g id="line2d_726">
      <g>
       <use href="#mb89d10049e" x="709.541667" y="383.125" style="stroke: #000000"/>
      </g>
     </g>
    </g>
    <g id="ytick_154">
     <g id="line2d_727">
      <g>
       <use href="#m7ff6dd3463" x="533.583333" y="373.555556" style="stroke: #000000"/>
      </g>
     </g>
     <g id="line2d_728">
      <g>
       <use href="#mb89d10049e" x="709.541667" y="373.555556" style="stroke: #000000"/>
      </g>
     </g>
    </g>
    <g id="ytick_155">
     <g id="line2d_729">
      <g>
       <use href="#m7ff6dd3463" x="533.583333" y="354.416667" style="stroke: #000000"/>
      </g>
     </g>
     <g id="line2d_730">
      <g>
       <use href="#mb89d10049e" x="709.541667" y="354.416667" style="stroke: #000000"/>
      </g>
     </g>
    </g>
   </g>
   <g id="line2d_731">
    <defs>
     <path id="m4c7049255c" d="M 0 3.25 
C 0.86191 3.25 1.688635 2.907559 2.298097 2.298097 
C 2.907559 1.688635 3.25 0.86191 3.25 0 
C 3.25 -0.86191 2.907559 -1.688635 2.298097 -2.298097 
C 1.688635 -2.907559 0.86191 -3.25 0 -3.25 
C -0.86191 -3.25 -1.688635 -2.907559 -2.298097 -2.298097 
C -2.907559 -1.688635 -3.25 -0.86191 -3.25 0 
C -3.25 0.86191 -2.907559 1.688635 -2.298097 2.298097 
C -1.688635 2.907559 -0.86191 3.25 0 3.25 
z
" style="stroke: #0000ff; stroke-width: 2"/>
    </defs>
    <g clip-path="url(#pc2e4bba692)">
     <use href="#m4c7049255c" x="583.857143" y="504.656944" style="fill-opacity: 0; stroke: #0000ff; stroke-width: 2"/>
     <use href="#m4c7049255c" x="608.994048" y="509.058889" style="fill-opacity: 0; stroke: #0000ff; stroke-width: 2"/>
     <use href="#m4c7049255c" x="634.130952" y="485.709444" style="fill-opacity: 0; stroke: #0000ff; stroke-width: 2"/>
     <use href="#m4c7049255c" x="659.267857" y="470.206944" style="fill-opacity: 0; stroke: #0000ff; stroke-width: 2"/>
     <use href="#m4c7049255c" x="684.404762" y="470.398333" style="fill-opacity: 0; stroke: #0000ff; stroke-width: 2"/>
     <use href="#m4c7049255c" x="709.541667" y="460.6375" style="fill-opacity: 0; stroke: #0000ff; stroke-width: 2"/>
     <use href="#m4c7049255c" x="759.815476" y="457.766667" style="fill-opacity: 0; stroke: #0000ff; stroke-width: 2"/>
     <use href="#m4c7049255c" x="810.089286" y="457.766667" style="fill-opacity: 0; stroke: #0000ff; stroke-width: 2"/>
     <use href="#m4c7049255c" x="872.931548" y="443.986667" style="fill-opacity: 0; stroke: #0000ff; stroke-width: 2"/>
    </g>
   </g>
   <g id="line2d_732">
    <defs>
     <path id="mfff1c95d9b" d="M 0 3.25 
C 0.86191 3.25 1.688635 2.907559 2.298097 2.298097 
C 2.907559 1.688635 3.25 0.86191 3.25 0 
C 3.25 -0.86191 2.907559 -1.688635 2.298097 -2.298097 
C 1.688635 -2.907559 0.86191 -3.25 0 -3.25 
C -0.86191 -3.25 -1.688635 -2.907559 -2.298097 -2.298097 
C -2.907559 -1.688635 -3.25 -0.86191 -3.25 0 
C -3.25 0.86191 -2.907559 1.688635 -2.298097 2.298097 
C -1.688635 2.907559 -0.86191 3.25 0 3.25 
z
" style="stroke: #008000; stroke-width: 2"/>
    </defs>
    <g clip-path="url(#pc2e4bba692)">
     <use href="#mfff1c95d9b" x="558.720238" y="510.398611" style="fill-opacity: 0; stroke: #008000; stroke-width: 2"/>
     <use href="#mfff1c95d9b" x="583.857143" y="485.900833" style="fill-opacity: 0; stroke: #008000; stroke-width: 2"/>
     <use href="#mfff1c95d9b" x="608.994048" y="476.14" style="fill-opacity: 0; stroke: #008000; stroke-width: 2"/>
     <use href="#mfff1c95d9b" x="634.130952" y="450.111111" style="fill-opacity: 0; stroke: #008000; stroke-width: 2"/>
     <use href="#mfff1c95d9b" x="659.267857" y="456.235556" style="fill-opacity: 0; stroke: #008000; stroke-width: 2"/>
     <use href="#mfff1c95d9b" x="684.404762" y="452.216389" style="fill-opacity: 0; stroke: #008000; stroke-width: 2"/>
     <use href="#mfff1c95d9b" x="709.541667" y="458.532222" style="fill-opacity: 0; stroke: #008000; stroke-width: 2"/>
     <use href="#mfff1c95d9b" x="759.815476" y="469.25" style="fill-opacity: 0; stroke: #008000; stroke-width: 2"/>
     <use href="#mfff1c95d9b" x="810.089286" y="469.25" style="fill-opacity: 0; stroke: #008000; stroke-width: 2"/>
     <use href="#mfff1c95d9b" x="872.931548" y="468.484444" style="fill-opacity: 0; stroke: #008000; stroke-width: 2"/>
    </g>
   </g>
   <g id="line2d_733">
    <defs>
     <path id="mbf003c09bc" d="M 0 3.25 
C 0.86191 3.25 1.688635 2.907559 2.298097 2.298097 
C 2.907559 1.688635 3.25 0.86191 3.25 0 
C 3.25 -0.86191 2.907559 -1.688635 2.298097 -2.298097 
C 1.688635 -2.907559 0.86191 -3.25 0 -3.25 
C -0.86191 -3.25 -1.688635 -2.907559 -2.298097 -2.298097 
C -2.907559 -1.688635 -3.25 -0.86191 -3.25 0 
C -3.25 0.86191 -2.907559 1.688635 -2.298097 2.298097 
C -1.688635 2.907559 -0.86191 3.25 0 3.25 
z
" style="stroke: #ff0000; stroke-width: 2"/>
    </defs>
    <g clip-path="url(#pc2e4bba692)">
     <use href="#mbf003c09bc" x="558.720238" y="471.163889" style="fill-opacity: 0; stroke: #ff0000; stroke-width: 2"/>
     <use href="#mbf003c09bc" x="583.857143" y="406.857222" style="fill-opacity: 0; stroke: #ff0000; stroke-width: 2"/>
     <use href="#mbf003c09bc" x="608.994048" y="424.847778" style="fill-opacity: 0; stroke: #ff0000; stroke-width: 2"/>
     <use href="#mbf003c09bc" x="634.130952" y="452.025" style="fill-opacity: 0; stroke: #ff0000; stroke-width: 2"/>
     <use href="#mbf003c09bc" x="659.267857" y="464.848056" style="fill-opacity: 0; stroke: #ff0000; stroke-width: 2"/>
     <use href="#mbf003c09bc" x="684.404762" y="464.465278" style="fill-opacity: 0; stroke: #ff0000; stroke-width: 2"/>
     <use href="#mbf003c09bc" x="709.541667" y="483.03" style="fill-opacity: 0; stroke: #ff0000; stroke-width: 2"/>
     <use href="#mbf003c09bc" x="759.815476" y="479.202222" style="fill-opacity: 0; stroke: #ff0000; stroke-width: 2"/>
     <use href="#mbf003c09bc" x="810.089286" y="490.685556" style="fill-opacity: 0; stroke: #ff0000; stroke-width: 2"/>
     <use href="#mbf003c09bc" x="872.931548" y="489.92" style="fill-opacity: 0; stroke: #ff0000; stroke-width: 2"/>
    </g>
   </g>
   <g id="line2d_734">
    <defs>
     <path id="mfde5725f3d" d="M 0 3.25 
C 0.86191 3.25 1.688635 2.907559 2.298097 2.298097 
C 2.907559 1.688635 3.25 0.86191 3.25 0 
C 3.25 -0.86191 2.907559 -1.688635 2.298097 -2.298097 
C 1.688635 -2.907559 0.86191 -3.25 0 -3.25 
C -0.86191 -3.25 -1.688635 -2.907559 -2.298097 -2.298097 
C -2.907559 -1.688635 -3.25 -0.86191 -3.25 0 
C -3.25 0.86191 -2.907559 1.688635 -2.298097 2.298097 
C -1.688635 2.907559 -0.86191 3.25 0 3.25 
z
" style="stroke: #000000; stroke-width: 2"/>
    </defs>
    <g clip-path="url(#pc2e4bba692)">
     <use href="#mfde5725f3d" x="508.446429" y="289.344444" style="fill-opacity: 0; stroke: #000000; stroke-width: 2"/>
     <use href="#mfde5725f3d" x="533.583333" y="408.771111" style="fill-opacity: 0; stroke: #000000; stroke-width: 2"/>
     <use href="#mfde5725f3d" x="558.720238" y="441.881389" style="fill-opacity: 0; stroke: #000000; stroke-width: 2"/>
     <use href="#mfde5725f3d" x="583.857143" y="463.699722" style="fill-opacity: 0; stroke: #000000; stroke-width: 2"/>
     <use href="#mfde5725f3d" x="608.994048" y="463.508333" style="fill-opacity: 0; stroke: #000000; stroke-width: 2"/>
     <use href="#mfde5725f3d" x="634.130952" y="479.776389" style="fill-opacity: 0; stroke: #000000; stroke-width: 2"/>
     <use href="#mfde5725f3d" x="659.267857" y="486.092222" style="fill-opacity: 0; stroke: #000000; stroke-width: 2"/>
     <use href="#mfde5725f3d" x="684.404762" y="488.006111" style="fill-opacity: 0; stroke: #000000; stroke-width: 2"/>
     <use href="#mfde5725f3d" x="709.541667" y="495.0875" style="fill-opacity: 0; stroke: #000000; stroke-width: 2"/>
     <use href="#mfde5725f3d" x="759.815476" y="496.81" style="fill-opacity: 0; stroke: #000000; stroke-width: 2"/>
     <use href="#mfde5725f3d" x="810.089286" y="500.637778" style="fill-opacity: 0; stroke: #000000; stroke-width: 2"/>
     <use href="#mfde5725f3d" x="872.931548" y="501.403333" style="fill-opacity: 0; stroke: #000000; stroke-width: 2"/>
    </g>
   </g>
   <g id="line2d_735">
    <defs>
     <path id="mf8d084fe16" d="M 0 3.25 
C 0.86191 3.25 1.688635 2.907559 2.298097 2.298097 
C 2.907559 1.688635 3.25 0.86191 3.25 0 
C 3.25 -0.86191 2.907559 -1.688635 2.298097 -2.298097 
C 1.688635 -2.907559 0.86191 -3.25 0 -3.25 
C -0.86191 -3.25 -1.688635 -2.907559 -2.298097 -2.298097 
C -2.907559 -1.688635 -3.25 -0.86191 -3.25 0 
C -3.25 0.86191 -2.907559 1.688635 -2.298097 2.298097 
C -1.688635 2.907559 -0.86191 3.25 0 3.25 
z
" style="stroke: #ffa500; stroke-width: 2"/>
    </defs>
    <g clip-path="url(#pc2e4bba692)">
     <use href="#mf8d084fe16" x="508.446429" y="482.647222" style="fill-opacity: 0; stroke: #ffa500; stroke-width: 2"/>
     <use href="#mf8d084fe16" x="533.583333" y="492.216667" style="fill-opacity: 0; stroke: #ffa500; stroke-width: 2"/>
     <use href="#mf8d084fe16" x="558.720238" y="491.068333" style="fill-opacity: 0; stroke: #ffa500; stroke-width: 2"/>
     <use href="#mf8d084fe16" x="583.857143" y="489.728611" style="fill-opacity: 0; stroke: #ffa500; stroke-width: 2"/>
     <use href="#mf8d084fe16" x="608.994048" y="494.704722" style="fill-opacity: 0; stroke: #ffa500; stroke-width: 2"/>
     <use href="#mf8d084fe16" x="634.130952" y="498.5325" style="fill-opacity: 0; stroke: #ffa500; stroke-width: 2"/>
     <use href="#mf8d084fe16" x="659.267857" y="500.255" style="fill-opacity: 0; stroke: #ffa500; stroke-width: 2"/>
     <use href="#mf8d084fe16" x="684.404762" y="504.656944" style="fill-opacity: 0; stroke: #ffa500; stroke-width: 2"/>
     <use href="#mf8d084fe16" x="709.541667" y="503.891389" style="fill-opacity: 0; stroke: #ffa500; stroke-width: 2"/>
     <use href="#mf8d084fe16" x="759.815476" y="505.613889" style="fill-opacity: 0; stroke: #ffa500; stroke-width: 2"/>
     <use href="#mf8d084fe16" x="810.089286" y="505.613889" style="fill-opacity: 0; stroke: #ffa500; stroke-width: 2"/>
     <use href="#mf8d084fe16" x="872.931548" y="508.101944" style="fill-opacity: 0; stroke: #ffa500; stroke-width: 2"/>
    </g>
   </g>
   <g id="line2d_736">
    <defs>
     <path id="mcdf27a9fd5" d="M 0 3.25 
C 0.86191 3.25 1.688635 2.907559 2.298097 2.298097 
C 2.907559 1.688635 3.25 0.86191 3.25 0 
C 3.25 -0.86191 2.907559 -1.688635 2.298097 -2.298097 
C 1.688635 -2.907559 0.86191 -3.25 0 -3.25 
C -0.86191 -3.25 -1.688635 -2.907559 -2.298097 -2.298097 
C -2.907559 -1.688635 -3.25 -0.86191 -3.25 0 
C -3.25 0.86191 -2.907559 1.688635 -2.298097 2.298097 
C -1.688635 2.907559 -0.86191 3.25 0 3.25 
z
" style="stroke: #ff00ff; stroke-width: 2"/>
    </defs>
    <g clip-path="url(#pc2e4bba692)">
     <use href="#mcdf27a9fd5" x="533.583333" y="499.872222" style="fill-opacity: 0; stroke: #ff00ff; stroke-width: 2"/>
     <use href="#mcdf27a9fd5" x="558.720238" y="501.403333" style="fill-opacity: 0; stroke: #ff00ff; stroke-width: 2"/>
     <use href="#mcdf27a9fd5" x="583.857143" y="508.101944" style="fill-opacity: 0; stroke: #ff00ff; stroke-width: 2"/>
     <use href="#mcdf27a9fd5" x="608.994048" y="506.379444" style="fill-opacity: 0; stroke: #ff00ff; stroke-width: 2"/>
     <use href="#mcdf27a9fd5" x="634.130952" y="507.719167" style="fill-opacity: 0; stroke: #ff00ff; stroke-width: 2"/>
     <use href="#mcdf27a9fd5" x="659.267857" y="511.738333" style="fill-opacity: 0; stroke: #ff00ff; stroke-width: 2"/>
     <use href="#mcdf27a9fd5" x="684.404762" y="513.843611" style="fill-opacity: 0; stroke: #ff00ff; stroke-width: 2"/>
     <use href="#mcdf27a9fd5" x="709.541667" y="510.972778" style="fill-opacity: 0; stroke: #ff00ff; stroke-width: 2"/>
     <use href="#mcdf27a9fd5" x="759.815476" y="515.566111" style="fill-opacity: 0; stroke: #ff00ff; stroke-width: 2"/>
     <use href="#mcdf27a9fd5" x="810.089286" y="513.078056" style="fill-opacity: 0; stroke: #ff00ff; stroke-width: 2"/>
     <use href="#mcdf27a9fd5" x="872.931548" y="514.609167" style="fill-opacity: 0; stroke: #ff00ff; stroke-width: 2"/>
    </g>
   </g>
   <g id="patch_24">
    <path d="M 533.583333 497.958333 
L 533.583333 354.416667 
" style="fill: none; stroke: #000000; stroke-linejoin: miter; stroke-linecap: square"/>
   </g>
   <g id="patch_25">
    <path d="M 709.541667 497.958333 
L 709.541667 354.416667 
" style="fill: none; stroke: #000000; stroke-linejoin: miter; stroke-linecap: square"/>
   </g>
   <g id="patch_26">
    <path d="M 533.583333 497.958333 
L 709.541667 497.958333 
" style="fill: none; stroke: #000000; stroke-linejoin: miter; stroke-linecap: square"/>
   </g>
   <g id="patch_27">
    <path d="M 533.583333 354.416667 
L 709.541667 354.416667 
" style="fill: none; stroke: #000000; stroke-linejoin: miter; stroke-linecap: square"/>
   </g>
   <g id="LineCollection_25">
    <path d="M 583.857143 510.398611 
L 583.857143 498.915278 
" clip-path="url(#pc2e4bba692)" style="fill: none; stroke: #0000ff; stroke-width: 1.5"/>
    <path d="M 608.994048 514.800556 
L 608.994048 503.317222 
" clip-path="url(#pc2e4bba692)" style="fill: none; stroke: #0000ff; stroke-width: 1.5"/>
    <path d="M 634.130952 495.278889 
L 634.130952 476.14 
" clip-path="url(#pc2e4bba692)" style="fill: none; stroke: #0000ff; stroke-width: 1.5"/>
    <path d="M 659.267857 477.8625 
L 659.267857 462.551389 
" clip-path="url(#pc2e4bba692)" style="fill: none; stroke: #0000ff; stroke-width: 1.5"/>
    <path d="M 684.404762 478.053889 
L 684.404762 462.742778 
" clip-path="url(#pc2e4bba692)" style="fill: none; stroke: #0000ff; stroke-width: 1.5"/>
    <path d="M 709.541667 468.293056 
L 709.541667 452.981944 
" clip-path="url(#pc2e4bba692)" style="fill: none; stroke: #0000ff; stroke-width: 1.5"/>
    <path d="M 759.815476 475.948611 
L 759.815476 439.584722 
" clip-path="url(#pc2e4bba692)" style="fill: none; stroke: #0000ff; stroke-width: 1.5"/>
    <path clip-path="url(#pc2e4bba692)" style="fill: none; stroke: #0000ff; stroke-width: 1.5"/>
    <path clip-path="url(#pc2e4bba692)" style="fill: none; stroke: #0000ff; stroke-width: 1.5"/>
   </g>
   <g id="LineCollection_26">
    <path d="M 558.720238 521.881944 
L 558.720238 498.915278 
" clip-path="url(#pc2e4bba692)" style="fill: none; stroke: #008000; stroke-width: 1.5"/>
    <path d="M 583.857143 491.6425 
L 583.857143 480.159167 
" clip-path="url(#pc2e4bba692)" style="fill: none; stroke: #008000; stroke-width: 1.5"/>
    <path d="M 608.994048 486.666389 
L 608.994048 465.613611 
" clip-path="url(#pc2e4bba692)" style="fill: none; stroke: #008000; stroke-width: 1.5"/>
    <path d="M 634.130952 459.680556 
L 634.130952 440.541667 
" clip-path="url(#pc2e4bba692)" style="fill: none; stroke: #008000; stroke-width: 1.5"/>
    <path d="M 659.267857 466.570556 
L 659.267857 445.900556 
" clip-path="url(#pc2e4bba692)" style="fill: none; stroke: #008000; stroke-width: 1.5"/>
    <path d="M 684.404762 462.742778 
L 684.404762 441.69 
" clip-path="url(#pc2e4bba692)" style="fill: none; stroke: #008000; stroke-width: 1.5"/>
    <path d="M 709.541667 468.101667 
L 709.541667 448.962778 
" clip-path="url(#pc2e4bba692)" style="fill: none; stroke: #008000; stroke-width: 1.5"/>
    <path d="M 759.815476 476.905556 
L 759.815476 461.594444 
" clip-path="url(#pc2e4bba692)" style="fill: none; stroke: #008000; stroke-width: 1.5"/>
    <path clip-path="url(#pc2e4bba692)" style="fill: none; stroke: #008000; stroke-width: 1.5"/>
    <path clip-path="url(#pc2e4bba692)" style="fill: none; stroke: #008000; stroke-width: 1.5"/>
   </g>
   <g id="LineCollection_27">
    <path d="M 558.720238 486.475 
L 558.720238 455.852778 
" clip-path="url(#pc2e4bba692)" style="fill: none; stroke: #ff0000; stroke-width: 1.5"/>
    <path d="M 583.857143 453.7475 
L 583.857143 359.966944 
" clip-path="url(#pc2e4bba692)" style="fill: none; stroke: #ff0000; stroke-width: 1.5"/>
    <path d="M 608.994048 453.556111 
L 608.994048 396.139444 
" clip-path="url(#pc2e4bba692)" style="fill: none; stroke: #ff0000; stroke-width: 1.5"/>
    <path d="M 634.130952 466.953333 
L 634.130952 437.096667 
" clip-path="url(#pc2e4bba692)" style="fill: none; stroke: #ff0000; stroke-width: 1.5"/>
    <path d="M 659.267857 474.608889 
L 659.267857 455.087222 
" clip-path="url(#pc2e4bba692)" style="fill: none; stroke: #ff0000; stroke-width: 1.5"/>
    <path d="M 684.404762 472.120833 
L 684.404762 456.809722 
" clip-path="url(#pc2e4bba692)" style="fill: none; stroke: #ff0000; stroke-width: 1.5"/>
    <path d="M 709.541667 490.685556 
L 709.541667 475.374444 
" clip-path="url(#pc2e4bba692)" style="fill: none; stroke: #ff0000; stroke-width: 1.5"/>
    <path d="M 759.815476 484.943889 
L 759.815476 473.460556 
" clip-path="url(#pc2e4bba692)" style="fill: none; stroke: #ff0000; stroke-width: 1.5"/>
    <path clip-path="url(#pc2e4bba692)" style="fill: none; stroke: #ff0000; stroke-width: 1.5"/>
    <path clip-path="url(#pc2e4bba692)" style="fill: none; stroke: #ff0000; stroke-width: 1.5"/>
   </g>
   <g id="LineCollection_28">
    <path d="M 508.446429 348.675 
L 508.446429 230.013889 
" clip-path="url(#pc2e4bba692)" style="fill: none; stroke: #000000; stroke-width: 1.5"/>
    <path d="M 533.583333 430.398056 
L 533.583333 387.144167 
" clip-path="url(#pc2e4bba692)" style="fill: none; stroke: #000000; stroke-width: 1.5"/>
    <path d="M 558.720238 460.063333 
L 558.720238 423.699444 
" clip-path="url(#pc2e4bba692)" style="fill: none; stroke: #000000; stroke-width: 1.5"/>
    <path d="M 583.857143 467.5275 
L 583.857143 459.871944 
" clip-path="url(#pc2e4bba692)" style="fill: none; stroke: #000000; stroke-width: 1.5"/>
    <path d="M 608.994048 473.269167 
L 608.994048 453.7475 
" clip-path="url(#pc2e4bba692)" style="fill: none; stroke: #000000; stroke-width: 1.5"/>
    <path d="M 634.130952 487.431944 
L 634.130952 472.120833 
" clip-path="url(#pc2e4bba692)" style="fill: none; stroke: #000000; stroke-width: 1.5"/>
    <path d="M 659.267857 493.747778 
L 659.267857 478.436667 
" clip-path="url(#pc2e4bba692)" style="fill: none; stroke: #000000; stroke-width: 1.5"/>
    <path d="M 684.404762 495.0875 
L 684.404762 480.924722 
" clip-path="url(#pc2e4bba692)" style="fill: none; stroke: #000000; stroke-width: 1.5"/>
    <path d="M 709.541667 500.829167 
L 709.541667 489.345833 
" clip-path="url(#pc2e4bba692)" style="fill: none; stroke: #000000; stroke-width: 1.5"/>
    <path d="M 759.815476 501.594722 
L 759.815476 492.025278 
" clip-path="url(#pc2e4bba692)" style="fill: none; stroke: #000000; stroke-width: 1.5"/>
    <path clip-path="url(#pc2e4bba692)" style="fill: none; stroke: #000000; stroke-width: 1.5"/>
    <path clip-path="url(#pc2e4bba692)" style="fill: none; stroke: #000000; stroke-width: 1.5"/>
   </g>
   <g id="LineCollection_29">
    <path d="M 508.446429 488.388889 
L 508.446429 476.905556 
" clip-path="url(#pc2e4bba692)" style="fill: none; stroke: #ffa500; stroke-width: 1.5"/>
    <path d="M 533.583333 497.001389 
L 533.583333 487.431944 
" clip-path="url(#pc2e4bba692)" style="fill: none; stroke: #ffa500; stroke-width: 1.5"/>
    <path d="M 558.720238 495.853056 
L 558.720238 486.283611 
" clip-path="url(#pc2e4bba692)" style="fill: none; stroke: #ffa500; stroke-width: 1.5"/>
    <path d="M 583.857143 494.513333 
L 583.857143 484.943889 
" clip-path="url(#pc2e4bba692)" style="fill: none; stroke: #ffa500; stroke-width: 1.5"/>
    <path d="M 608.994048 499.489444 
L 608.994048 489.92 
" clip-path="url(#pc2e4bba692)" style="fill: none; stroke: #ffa500; stroke-width: 1.5"/>
    <path d="M 634.130952 503.317222 
L 634.130952 493.747778 
" clip-path="url(#pc2e4bba692)" style="fill: none; stroke: #ffa500; stroke-width: 1.5"/>
    <path d="M 659.267857 505.039722 
L 659.267857 495.470278 
" clip-path="url(#pc2e4bba692)" style="fill: none; stroke: #ffa500; stroke-width: 1.5"/>
    <path d="M 684.404762 509.441667 
L 684.404762 499.872222 
" clip-path="url(#pc2e4bba692)" style="fill: none; stroke: #ffa500; stroke-width: 1.5"/>
    <path d="M 709.541667 508.676111 
L 709.541667 499.106667 
" clip-path="url(#pc2e4bba692)" style="fill: none; stroke: #ffa500; stroke-width: 1.5"/>
    <path d="M 759.815476 510.398611 
L 759.815476 500.829167 
" clip-path="url(#pc2e4bba692)" style="fill: none; stroke: #ffa500; stroke-width: 1.5"/>
    <path clip-path="url(#pc2e4bba692)" style="fill: none; stroke: #ffa500; stroke-width: 1.5"/>
    <path clip-path="url(#pc2e4bba692)" style="fill: none; stroke: #ffa500; stroke-width: 1.5"/>
   </g>
   <g id="LineCollection_30">
    <path d="M 533.583333 504.656944 
L 533.583333 495.0875 
" clip-path="url(#pc2e4bba692)" style="fill: none; stroke: #ff00ff; stroke-width: 1.5"/>
    <path d="M 558.720238 508.101944 
L 558.720238 494.704722 
" clip-path="url(#pc2e4bba692)" style="fill: none; stroke: #ff00ff; stroke-width: 1.5"/>
    <path d="M 583.857143 512.886667 
L 583.857143 503.317222 
" clip-path="url(#pc2e4bba692)" style="fill: none; stroke: #ff00ff; stroke-width: 1.5"/>
    <path d="M 608.994048 511.164167 
L 608.994048 501.594722 
" clip-path="url(#pc2e4bba692)" style="fill: none; stroke: #ff00ff; stroke-width: 1.5"/>
    <path d="M 634.130952 512.503889 
L 634.130952 502.934444 
" clip-path="url(#pc2e4bba692)" style="fill: none; stroke: #ff00ff; stroke-width: 1.5"/>
    <path d="M 659.267857 516.523056 
L 659.267857 506.953611 
" clip-path="url(#pc2e4bba692)" style="fill: none; stroke: #ff00ff; stroke-width: 1.5"/>
    <path d="M 684.404762 518.628333 
L 684.404762 509.058889 
" clip-path="url(#pc2e4bba692)" style="fill: none; stroke: #ff00ff; stroke-width: 1.5"/>
    <path d="M 709.541667 515.7575 
L 709.541667 506.188056 
" clip-path="url(#pc2e4bba692)" style="fill: none; stroke: #ff00ff; stroke-width: 1.5"/>
    <path d="M 759.815476 520.350833 
L 759.815476 510.781389 
" clip-path="url(#pc2e4bba692)" style="fill: none; stroke: #ff00ff; stroke-width: 1.5"/>
    <path clip-path="url(#pc2e4bba692)" style="fill: none; stroke: #ff00ff; stroke-width: 1.5"/>
    <path clip-path="url(#pc2e4bba692)" style="fill: none; stroke: #ff00ff; stroke-width: 1.5"/>
   </g>
   <g id="line2d_737">
    <path d="M 483.309524 543.221372 
L 490.56346 542.58501 
L 497.817397 541.707266 
L 505.071333 540.587281 
L 512.32527 539.224196 
L 519.579206 537.617153 
L 526.833142 535.765295 
L 534.087079 533.667762 
L 541.341015 531.323696 
L 548.594952 528.73224 
L 555.848888 525.892534 
L 563.102825 522.803721 
L 570.356761 519.464942 
L 577.610698 515.875339 
L 584.864634 512.034592 
L 592.924563 507.501962 
L 602.596479 501.798084 
L 621.940309 490.04462 
L 634.030203 482.85548 
L 642.896126 477.848184 
L 650.150062 474.003235 
L 656.598006 470.827987 
L 662.239956 468.271358 
L 667.881907 465.951179 
L 673.523857 463.895629 
L 678.359815 462.365708 
L 683.195772 461.068653 
L 688.03173 460.019139 
L 692.867688 459.205149 
L 697.703645 458.600917 
L 703.345596 458.126569 
L 709.793539 457.838214 
L 716.241483 457.7684 
L 723.495419 457.912724 
L 731.555349 458.306831 
L 740.421271 458.966431 
L 751.705172 460.045762 
L 788.5 463.818008 
L 788.5 463.818008 
" clip-path="url(#pc2e4bba692)" style="fill: none; stroke: #0000ff; stroke-width: 1.7"/>
   </g>
   <g id="line2d_738">
    <path d="M 483.309524 538.176364 
L 488.951474 537.597899 
L 494.593425 536.770856 
L 500.235376 535.685614 
L 505.071333 534.542609 
L 509.907291 533.196781 
L 514.743248 531.642069 
L 519.579206 529.872417 
L 524.415164 527.881765 
L 529.251121 525.664054 
L 534.087079 523.213227 
L 538.923037 520.523224 
L 543.758994 517.587987 
L 548.594952 514.401457 
L 553.430909 510.957576 
L 558.266867 507.250285 
L 563.102825 503.273525 
L 567.938782 499.021238 
L 572.77474 494.489622 
L 579.222683 488.097975 
L 598.566514 468.603151 
L 603.402472 464.145215 
L 607.432436 460.695421 
L 611.462401 457.54407 
L 614.686373 455.274029 
L 617.910344 453.25698 
L 621.134316 451.518531 
L 624.358288 450.059989 
L 627.58226 448.866138 
L 630.806232 447.921444 
L 634.030203 447.210373 
L 637.254175 446.717393 
L 640.478147 446.426969 
L 643.702119 446.323569 
L 647.732083 446.433656 
L 651.762048 446.781358 
L 655.792013 447.336337 
L 660.62797 448.233198 
L 666.269921 449.531622 
L 673.523857 451.471779 
L 696.09166 457.737336 
L 706.569568 460.294322 
L 717.047476 462.611459 
L 727.525384 464.698292 
L 738.003292 466.564361 
L 749.287193 468.338032 
L 760.571095 469.878656 
L 771.854996 471.198153 
L 783.94489 472.380056 
L 788.5 472.765973 
L 788.5 472.765973 
" clip-path="url(#pc2e4bba692)" style="fill: none; stroke: #008000; stroke-width: 1.7"/>
   </g>
   <g id="line2d_739">
    <path d="M 483.309524 530.78567 
L 485.727503 528.262055 
L 488.951474 525.250932 
L 492.175446 522.562017 
L 496.205411 519.517674 
L 509.907291 509.534179 
L 513.131263 506.758738 
L 516.355234 503.634465 
L 518.773213 501.008517 
L 521.191192 498.098277 
L 523.609171 494.865999 
L 526.02715 491.273938 
L 528.445128 487.284346 
L 530.863107 482.859479 
L 533.281086 477.961589 
L 535.699065 472.565393 
L 538.923037 464.681931 
L 542.147008 456.171988 
L 546.176973 444.920258 
L 559.878853 405.994672 
L 562.296832 399.781874 
L 564.714811 394.160546 
L 566.326796 390.854831 
L 567.938782 387.981857 
L 569.550768 385.609569 
L 571.162754 383.805914 
L 571.968747 383.138255 
L 572.77474 382.631608 
L 573.580733 382.282605 
L 574.386726 382.087671 
L 575.192719 382.043083 
L 575.998712 382.141332 
L 576.804705 382.370894 
L 578.416691 383.177091 
L 580.028676 384.367936 
L 581.640662 385.84969 
L 584.058641 388.412755 
L 588.088606 393.074592 
L 592.924563 399.086621 
L 599.372507 407.5316 
L 609.850415 421.330047 
L 614.686373 427.324894 
L 618.716337 431.966579 
L 621.940309 435.385334 
L 625.164281 438.541387 
L 629.194246 442.143961 
L 633.22421 445.398235 
L 637.254175 448.338756 
L 641.28414 451.000075 
L 645.314104 453.416741 
L 650.150062 456.042443 
L 654.98602 458.425296 
L 661.433963 461.327021 
L 667.881907 463.99384 
L 674.32985 466.441615 
L 681.583787 468.94526 
L 688.837723 471.197002 
L 696.09166 473.210245 
L 703.345596 474.998397 
L 710.599532 476.574864 
L 718.659462 478.094526 
L 726.719391 479.387789 
L 735.585313 480.570836 
L 744.451236 481.526667 
L 754.123151 482.339017 
L 764.601059 482.983648 
L 775.88496 483.449244 
L 788.5 483.749664 
L 788.5 483.749664 
" clip-path="url(#pc2e4bba692)" style="fill: none; stroke: #ff0000; stroke-width: 1.7"/>
   </g>
   <g id="line2d_740">
    <path d="M 483.309524 458.723611 
L 484.671652 445.498361 
L 486.007585 430.679092 
L 487.317324 413.405704 
L 489.360516 382.949208 
L 490.198748 367.760474 
L 490.827423 352.317435 
L 491.639461 325.874861 
L 492.634862 286.67455 
L 493.237342 252.849631 
L 493.787432 208.821379 
L 494.232743 154.867409 
L 495.17755 -1 
L 495.17755 -1 
" clip-path="url(#pc2e4bba692)" style="fill: none; stroke: #000000; stroke-width: 1.7"/>
   </g>
   <g id="line2d_741">
    <path d="M 502.528847 -1 
L 503.330626 53.563947 
L 504.240102 99.511325 
L 505.149578 134.893607 
L 506.160107 166.092892 
L 507.271689 193.678978 
L 508.484323 218.163406 
L 509.798011 239.988534 
L 511.111698 258.245634 
L 512.526439 274.927706 
L 514.042232 290.189833 
L 515.659078 304.176354 
L 517.275924 316.312302 
L 518.993823 327.599577 
L 520.812775 338.102288 
L 522.233895 345.45521 
L 524.671922 356.648427 
L 527.10995 366.381179 
L 529.547977 374.94463 
L 531.986005 382.554109 
L 534.424032 389.372838 
L 536.86206 395.527158 
L 539.300088 401.116636 
L 541.738115 406.22097 
L 544.176143 410.904835 
L 546.61417 415.221352 
L 549.052198 419.214623 
L 552.709239 424.677724 
L 556.36628 429.597211 
L 560.023322 434.053595 
L 563.680363 438.111499 
L 567.337404 441.82349 
L 570.994446 445.232838 
L 574.651487 448.375535 
L 578.308528 451.281806 
L 583.184584 454.832747 
L 588.060639 458.059069 
L 592.936694 461.002248 
L 597.812749 463.696641 
L 602.688804 466.170994 
L 608.783873 468.991111 
L 614.878942 471.544688 
L 620.974011 473.864467 
L 628.288093 476.377757 
L 635.602176 478.632707 
L 642.916259 480.661592 
L 651.449355 482.778481 
L 659.982451 484.659417 
L 669.734562 486.557345 
L 679.486672 488.220964 
L 690.457796 489.849013 
L 701.42892 491.252304 
L 713.619058 492.582275 
L 727.028209 493.803187 
L 740.437361 494.804104 
L 755.065526 495.678404 
L 770.912705 496.403222 
L 788.5 496.973659 
L 788.5 496.973659 
" clip-path="url(#pc2e4bba692)" style="fill: none; stroke: #000000; stroke-width: 1.7"/>
   </g>
   <g id="line2d_742">
    <path d="M 483.309524 485.989286 
L 528.445128 490.116901 
L 627.58226 499.250211 
L 662.239956 502.173931 
L 692.061695 504.467685 
L 718.659462 506.29227 
L 742.83925 507.735293 
L 766.213045 508.906039 
L 787.974854 509.77406 
L 788.5 509.792137 
L 788.5 509.792137 
" clip-path="url(#pc2e4bba692)" style="fill: none; stroke: #ffa500; stroke-width: 1.7"/>
   </g>
   <g id="line2d_743">
    <path d="M 483.309524 519.262653 
L 495.399418 517.87088 
L 508.295305 516.621017 
L 521.191192 515.600079 
L 534.087079 514.79444 
L 547.788959 514.159111 
L 562.296832 513.7164 
L 577.610698 513.484686 
L 592.924563 513.472514 
L 609.850415 513.687007 
L 627.58226 514.135906 
L 646.92609 514.84624 
L 669.493893 515.906198 
L 696.897652 517.427561 
L 788.5 522.743674 
L 788.5 522.743674 
" clip-path="url(#pc2e4bba692)" style="fill: none; stroke: #ff00ff; stroke-width: 1.7"/>
   </g>
  </g>
  <g id="axes_7">
   <g id="line2d_744">
    <g clip-path="url(#p42558708ac)">
     <use href="#me3dc63d877" x="235.875" y="24.166667" style="fill-opacity: 0; stroke: #ff0000; stroke-width: 2"/>
    </g>
   </g>
   <g id="line2d_745">
    <g clip-path="url(#p42558708ac)">
     <use href="#me245831fda" x="235.875" y="37.1875" style="fill-opacity: 0; stroke: #008000; stroke-width: 2"/>
    </g>
   </g>
   <g id="line2d_746">
    <g clip-path="url(#p42558708ac)">
     <use href="#m63746d504b" x="235.875" y="50.208333" style="fill-opacity: 0; stroke: #008000; stroke-width: 2"/>
    </g>
   </g>
   <g id="line2d_747">
    <g clip-path="url(#p42558708ac)">
     <use href="#m3937245963" x="235.875" y="63.229167" style="fill: #ff0000; stroke: #ff0000"/>
    </g>
   </g>
   <g id="line2d_748">
    <g clip-path="url(#p42558708ac)">
     <use href="#m9ff4714339" x="235.875" y="76.25" style="fill: #008000; stroke: #008000"/>
    </g>
   </g>
   <g id="line2d_749">
    <g clip-path="url(#p42558708ac)">
     <use href="#m1c385fb589" x="235.875" y="89.270833" style="fill: #0000ff; stroke: #0000ff"/>
    </g>
   </g>
   <g id="line2d_750">
    <g clip-path="url(#p42558708ac)">
     <use href="#m3b3e0c8a6c" x="617.583333" y="25.541667" style="stroke: #000000"/>
    </g>
   </g>
   <g id="line2d_751">
    <g clip-path="url(#p42558708ac)">
     <use href="#m2397b61e24" x="617.583333" y="39.975" style="fill: #ffa500; stroke: #ffa500"/>
    </g>
   </g>
   <g id="line2d_752">
    <g clip-path="url(#p42558708ac)">
     <use href="#mc009217a7a" x="617.583333" y="54.408333" style="fill: #ff00ff; stroke: #ff00ff"/>
    </g>
   </g>
   <g id="line2d_753">
    <g clip-path="url(#p42558708ac)">
     <use href="#mad4ad47eb9" x="617.583333" y="68.841667" style="fill-opacity: 0; stroke: #000000; stroke-width: 2"/>
    </g>
   </g>
   <g id="line2d_754">
    <g clip-path="url(#p42558708ac)">
     <use href="#me4946af884" x="617.583333" y="83.275" style="fill-opacity: 0; stroke: #000000; stroke-width: 2"/>
    </g>
   </g>
   <g id="line2d_755">
    <g clip-path="url(#p42558708ac)">
     <use href="#m63dcd7a592" x="617.583333" y="97.708333" style="fill-opacity: 0; stroke: #ffa500; stroke-width: 2"/>
    </g>
   </g>
   <g id="line2d_756">
    <g clip-path="url(#p42558708ac)">
     <use href="#m9b2f79ac97" x="617.583333" y="112.141667" style="fill-opacity: 0; stroke: #ff00ff; stroke-width: 2"/>
    </g>
   </g>
   <g id="text_76">
    <text style="font-size: 19.78px; font-family: 'DejaVu Sans', 'Liberation Sans', sans-serif; text-anchor: middle" x="221.5" y="305.666667">T [K]</text>
   </g>
   <g id="text_77">
    <text style="font-size: 19.78px; font-family: 'DejaVu Sans', 'Liberation Sans', sans-serif; text-anchor: middle" x="613.416667" y="305.666667">T [K]</text>
   </g>
   <g id="text_78">
    <text style="font-size: 19.78px; font-family: 'DejaVu Sans', 'Liberation Sans', sans-serif; text-anchor: middle" x="222.625" y="627.083333">T [K]</text>
   </g>
   <g id="text_79">
    <text style="font-size: 19.78px; font-family: 'DejaVu Sans', 'Liberation Sans', sans-serif; text-anchor: middle" x="619.458333" y="627.083333">T [K]</text>
   </g>
   <g id="text_80">
    <g transform="translate(29.375 216.0541) rotate(-90)">
     <text style="white-space: pre" xml:space="preserve"><tspan x="0 12.565552" y="-0.139063" style="font-size: 19.78px; font-family: 'DejaVu Sans', 'Liberation Sans', sans-serif">10</tspan><tspan x="25.32251" y="-7.795313" style="font-size: 13.846px; font-family: 'DejaVu Sans', 'Liberation Sans', sans-serif">5</tspan><tspan x="34.665271 40.943225" y="-0.139063" style="font-size: 19.78px; font-family: 'DejaVu Sans', 'Liberation Sans', sans-serif">  </tspan><tspan x="47.221179" y="-0.139063" style="font-style: oblique; font-size: 19.78px; font-family: 'DejaVu Sans', 'Liberation Sans', sans-serif">κ</tspan><tspan x="58.86095" y="3.142187" style="font-style: oblique; font-size: 13.846px; font-family: 'DejaVu Sans', 'Liberation Sans', sans-serif">T</tspan><tspan x="67.852686 74.13064 81.83584 98.876001 110.785791" y="-0.139063" style="font-size: 19.78px; font-family: 'DejaVu Sans', 'Liberation Sans', sans-serif"> [MPa</tspan><tspan x="123.079858 134.663696" y="-7.795313" style="font-size: 13.846px; font-family: 'DejaVu Sans', 'Liberation Sans', sans-serif">−1</tspan><tspan x="144.006458" y="-0.139063" style="font-size: 19.78px; font-family: 'DejaVu Sans', 'Liberation Sans', sans-serif">]</tspan></text>
    </g>
   </g>
   <g id="text_81">
    <g transform="translate(425.416667 216.0541) rotate(-90)">
     <text style="white-space: pre" xml:space="preserve"><tspan x="0 12.565552" y="-0.139063" style="font-size: 19.78px; font-family: 'DejaVu Sans', 'Liberation Sans', sans-serif">10</tspan><tspan x="25.32251" y="-7.795313" style="font-size: 13.846px; font-family: 'DejaVu Sans', 'Liberation Sans', sans-serif">5</tspan><tspan x="34.665271 40.943225" y="-0.139063" style="font-size: 19.78px; font-family: 'DejaVu Sans', 'Liberation Sans', sans-serif">  </tspan><tspan x="47.221179" y="-0.139063" style="font-style: oblique; font-size: 19.78px; font-family: 'DejaVu Sans', 'Liberation Sans', sans-serif">κ</tspan><tspan x="58.86095" y="3.142187" style="font-style: oblique; font-size: 13.846px; font-family: 'DejaVu Sans', 'Liberation Sans', sans-serif">T</tspan><tspan x="67.852686 74.13064 81.83584 98.876001 110.785791" y="-0.139063" style="font-size: 19.78px; font-family: 'DejaVu Sans', 'Liberation Sans', sans-serif"> [MPa</tspan><tspan x="123.079858 134.663696" y="-7.795313" style="font-size: 13.846px; font-family: 'DejaVu Sans', 'Liberation Sans', sans-serif">−1</tspan><tspan x="144.006458" y="-0.139063" style="font-size: 19.78px; font-family: 'DejaVu Sans', 'Liberation Sans', sans-serif">]</tspan></text>
    </g>
   </g>
   <g id="text_82">
    <g transform="translate(29.375 540.512433) rotate(-90)">
     <text style="white-space: pre" xml:space="preserve"><tspan x="0 12.565552" y="-0.139063" style="font-size: 19.78px; font-family: 'DejaVu Sans', 'Liberation Sans', sans-serif">10</tspan><tspan x="25.32251" y="-7.795313" style="font-size: 13.846px; font-family: 'DejaVu Sans', 'Liberation Sans', sans-serif">5</tspan><tspan x="34.665271 40.943225" y="-0.139063" style="font-size: 19.78px; font-family: 'DejaVu Sans', 'Liberation Sans', sans-serif">  </tspan><tspan x="47.221179" y="-0.139063" style="font-style: oblique; font-size: 19.78px; font-family: 'DejaVu Sans', 'Liberation Sans', sans-serif">κ</tspan><tspan x="58.86095" y="3.142187" style="font-style: oblique; font-size: 13.846px; font-family: 'DejaVu Sans', 'Liberation Sans', sans-serif">T</tspan><tspan x="67.852686 74.13064 81.83584 98.876001 110.785791" y="-0.139063" style="font-size: 19.78px; font-family: 'DejaVu Sans', 'Liberation Sans', sans-serif"> [MPa</tspan><tspan x="123.079858 134.663696" y="-7.795313" style="font-size: 13.846px; font-family: 'DejaVu Sans', 'Liberation Sans', sans-serif">−1</tspan><tspan x="144.006458" y="-0.139063" style="font-size: 19.78px; font-family: 'DejaVu Sans', 'Liberation Sans', sans-serif">]</tspan></text>
    </g>
   </g>
   <g id="text_83">
    <g transform="translate(425.416667 540.512433) rotate(-90)">
     <text style="white-space: pre" xml:space="preserve"><tspan x="0 12.565552" y="-0.139063" style="font-size: 19.78px; font-family: 'DejaVu Sans', 'Liberation Sans', sans-serif">10</tspan><tspan x="25.32251" y="-7.795313" style="font-size: 13.846px; font-family: 'DejaVu Sans', 'Liberation Sans', sans-serif">5</tspan><tspan x="34.665271 40.943225" y="-0.139063" style="font-size: 19.78px; font-family: 'DejaVu Sans', 'Liberation Sans', sans-serif">  </tspan><tspan x="47.221179" y="-0.139063" style="font-style: oblique; font-size: 19.78px; font-family: 'DejaVu Sans', 'Liberation Sans', sans-serif">κ</tspan><tspan x="58.86095" y="3.142187" style="font-style: oblique; font-size: 13.846px; font-family: 'DejaVu Sans', 'Liberation Sans', sans-serif">T</tspan><tspan x="67.852686 74.13064 81.83584 98.876001 110.785791" y="-0.139063" style="font-size: 19.78px; font-family: 'DejaVu Sans', 'Liberation Sans', sans-serif"> [MPa</tspan><tspan x="123.079858 134.663696" y="-7.795313" style="font-size: 13.846px; font-family: 'DejaVu Sans', 'Liberation Sans', sans-serif">−1</tspan><tspan x="144.006458" y="-0.139063" style="font-size: 19.78px; font-family: 'DejaVu Sans', 'Liberation Sans', sans-serif">]</tspan></text>
    </g>
   </g>
   <g id="text_84">
    <text style="font-weight: 700; font-size: 27.72px; font-family: 'DejaVu Sans', 'Liberation Sans', sans-serif; text-anchor: start" x="76.791667" y="45.541667">(a)</text>
   </g>
   <g id="text_85">
    <text style="font-weight: 700; font-size: 27.72px; font-family: 'DejaVu Sans', 'Liberation Sans', sans-serif; text-anchor: start" x="504.458333" y="45.5">(b)</text>
   </g>
   <g id="text_86">
    <text style="font-weight: 700; font-size: 27.72px; font-family: 'DejaVu Sans', 'Liberation Sans', sans-serif; text-anchor: start" x="313.708333" y="372.916667">(c)</text>
   </g>
   <g id="text_87">
    <text style="font-weight: 700; font-size: 27.72px; font-family: 'DejaVu Sans', 'Liberation Sans', sans-serif; text-anchor: start" x="710.375" y="372.916667">(d)</text>
   </g>
   <g id="text_88">
    <text style="font-size: 8.901px; font-family: 'DejaVu Sans', 'Liberation Sans', sans-serif; text-anchor: start" x="251.791667" y="26.458333">Kanno et al. P = 100 MPa</text>
   </g>
   <g id="text_89">
    <text style="font-size: 8.901px; font-family: 'DejaVu Sans', 'Liberation Sans', sans-serif; text-anchor: start" x="251.791667" y="39.479167">Kim et al. P = 0.1 MPa</text>
   </g>
   <g id="text_90">
    <text style="font-size: 8.901px; font-family: 'DejaVu Sans', 'Liberation Sans', sans-serif; text-anchor: start" x="251.791667" y="52.5">Kell P = 0.1 MPa</text>
   </g>
   <g id="text_91">
    <text style="font-size: 8.901px; font-family: 'DejaVu Sans', 'Liberation Sans', sans-serif; text-anchor: start" x="251.791667" y="65.520833">P = 100 MPa</text>
   </g>
   <g id="text_92">
    <text style="font-size: 8.901px; font-family: 'DejaVu Sans', 'Liberation Sans', sans-serif; text-anchor: start" x="251.791667" y="78.541667">P = 0.1 MPa</text>
   </g>
   <g id="text_93">
    <text style="font-size: 8.901px; font-family: 'DejaVu Sans', 'Liberation Sans', sans-serif; text-anchor: start" x="251.791667" y="91.5625">P = -100 MPa</text>
   </g>
   <g id="text_94">
    <text style="font-size: 9.85px; font-family: 'DejaVu Sans', 'Liberation Sans', sans-serif; text-anchor: start" x="635.5" y="28.208333">P = 200 MPa</text>
   </g>
   <g id="text_95">
    <text style="font-size: 9.85px; font-family: 'DejaVu Sans', 'Liberation Sans', sans-serif; text-anchor: start" x="635.5" y="42.641667">P = 300 MPa</text>
   </g>
   <g id="text_96">
    <text style="font-size: 9.85px; font-family: 'DejaVu Sans', 'Liberation Sans', sans-serif; text-anchor: start" x="635.5" y="57.075">P = 400 MPa</text>
   </g>
   <g id="text_97">
    <text style="font-size: 9.85px; font-family: 'DejaVu Sans', 'Liberation Sans', sans-serif; text-anchor: start" x="635.5" y="71.508333">Kanno et al. P = 190 MPa</text>
   </g>
   <g id="text_98">
    <text style="font-size: 9.85px; font-family: 'DejaVu Sans', 'Liberation Sans', sans-serif; text-anchor: start" x="635.5" y="85.941667">Minassian et al. 200 MPa</text>
   </g>
   <g id="text_99">
    <text style="font-size: 9.85px; font-family: 'DejaVu Sans', 'Liberation Sans', sans-serif; text-anchor: start" x="635.5" y="100.375">Minassian et al. 300 MPa</text>
   </g>
   <g id="text_100">
    <text style="font-size: 9.85px; font-family: 'DejaVu Sans', 'Liberation Sans', sans-serif; text-anchor: start" x="635.5" y="114.808333">Minassian et al. 400 MPa</text>
   </g>
  </g>
 </g>
 <defs>
  <clipPath id="p31e6318667">
   <rect x="70.958333" y="11.833333" width="301.083333" height="256.291667"/>
  </clipPath>
  <clipPath id="pa0471c43bc">
   <rect x="457.833333" y="11.833333" width="311.125" height="256.291667"/>
  </clipPath>
  <clipPath id="pe06b2a6024">
   <rect x="70.916667" y="339.333333" width="303.416667" height="250.25"/>
  </clipPath>
  <clipPath id="p3e7ccab0fe">
   <rect x="467.791667" y="339.333333" width="303.333333" height="250.25"/>
  </clipPath>
  <clipPath id="p337efdff35">
   <rect x="136.541667" y="354.416667" width="175.958333" height="143.541667"/>
  </clipPath>
  <clipPath id="pc2e4bba692">
   <rect x="533.583333" y="354.416667" width="175.958333" height="143.541667"/>
  </clipPath>
  <clipPath id="p42558708ac">
   <rect x="0" y="0" width="787.5" height="642.083333"/>
  </clipPath>
 </defs>
</svg>

</body></html>
